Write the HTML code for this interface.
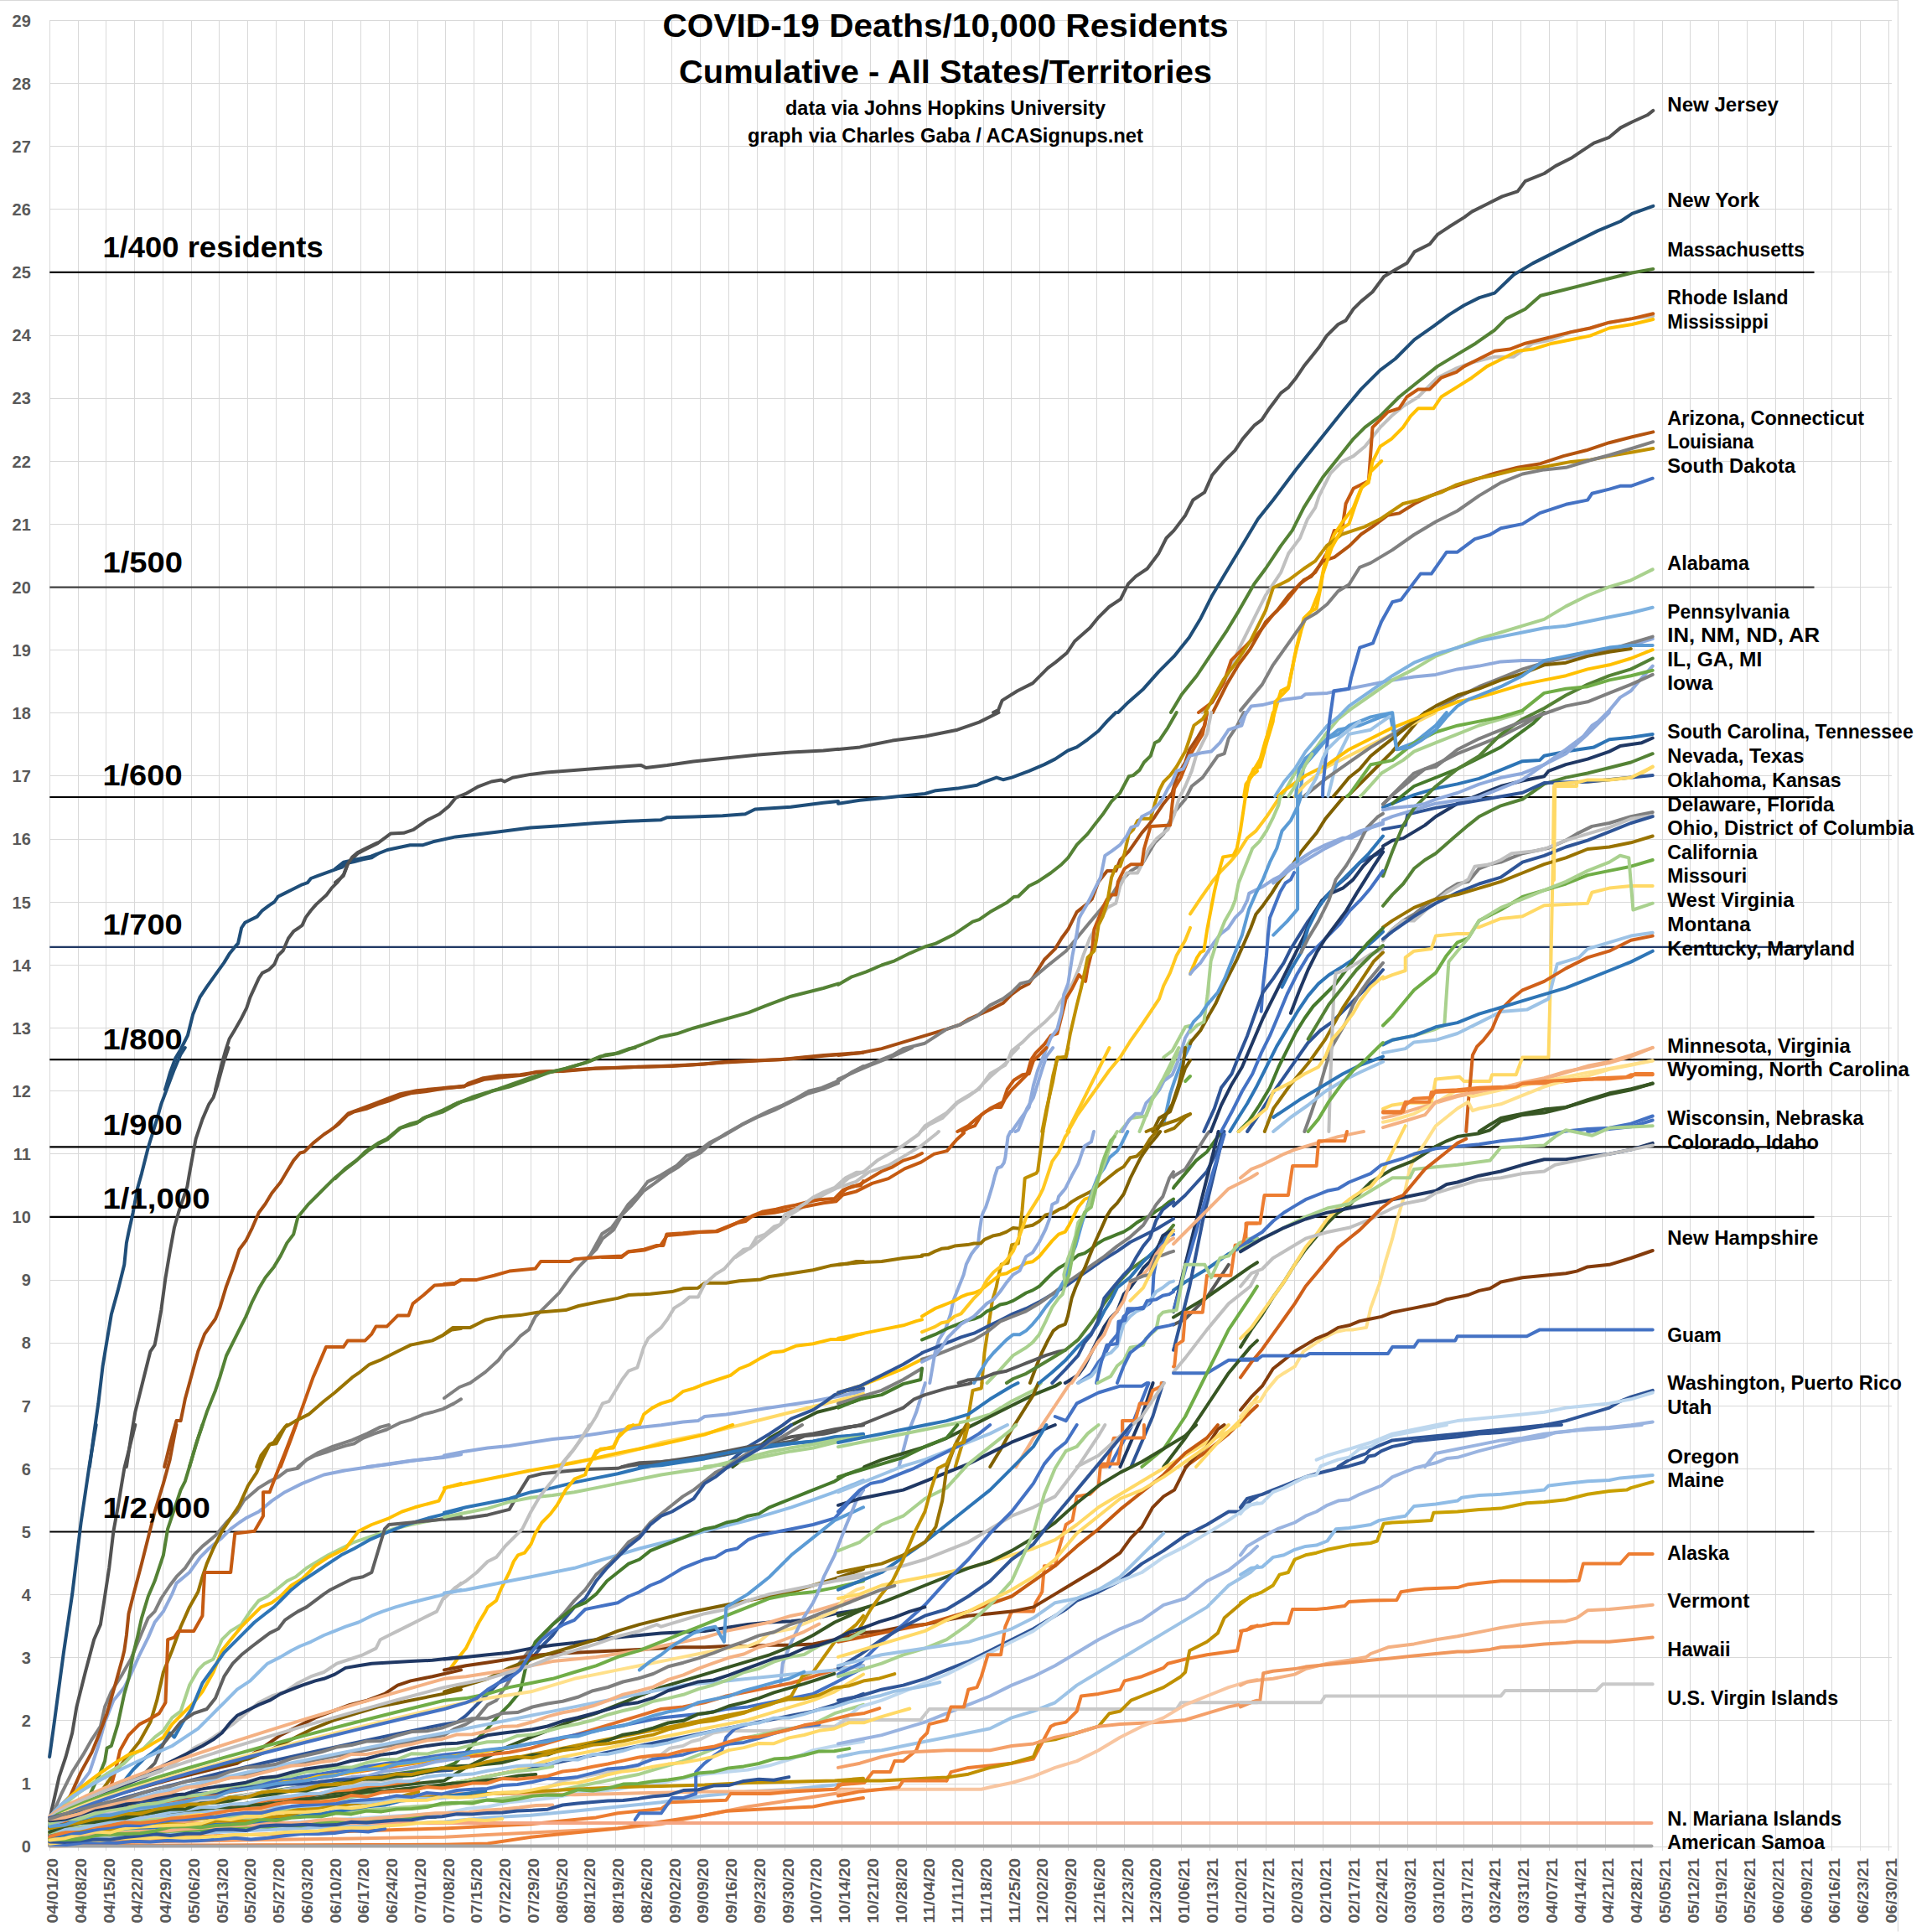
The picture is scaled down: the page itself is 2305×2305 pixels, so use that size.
<!DOCTYPE html><html><head><meta charset="utf-8"><style>html,body{margin:0;padding:0;background:#fff}svg{display:block}text{font-family:"Liberation Sans",Arial,sans-serif;font-weight:bold}</style></head><body>
<svg xmlns="http://www.w3.org/2000/svg" width="2305" height="2305" viewBox="0 0 2305 2305">
<rect width="2305" height="2305" fill="#fff"/>
<path d="M0 0.5H2264.5V2304.5" fill="none" stroke="#d9d9d9" stroke-width="1.2"/>
<path d="M59.5 24V2208 M93.5 24V2208 M126.5 24V2208 M160.5 24V2208 M194.5 24V2208 M228.5 24V2208 M261.5 24V2208 M295.5 24V2208 M329.5 24V2208 M363.5 24V2208 M396.5 24V2208 M430.5 24V2208 M464.5 24V2208 M498.5 24V2208 M531.5 24V2208 M565.5 24V2208 M599.5 24V2208 M633.5 24V2208 M666.5 24V2208 M700.5 24V2208 M734.5 24V2208 M768.5 24V2208 M801.5 24V2208 M835.5 24V2208 M869.5 24V2208 M903.5 24V2208 M936.5 24V2208 M970.5 24V2208 M1004.5 24V2208 M1038.5 24V2208 M1071.5 24V2208 M1105.5 24V2208 M1139.5 24V2208 M1173.5 24V2208 M1206.5 24V2208 M1240.5 24V2208 M1274.5 24V2208 M1308.5 24V2208 M1341.5 24V2208 M1375.5 24V2208 M1409.5 24V2208 M1443.5 24V2208 M1476.5 24V2208 M1510.5 24V2208 M1544.5 24V2208 M1578.5 24V2208 M1611.5 24V2208 M1645.5 24V2208 M1679.5 24V2208 M1713.5 24V2208 M1746.5 24V2208 M1780.5 24V2208 M1814.5 24V2208 M1848.5 24V2208 M1881.5 24V2208 M1915.5 24V2208 M1949.5 24V2208 M1983.5 24V2208 M2016.5 24V2208 M2050.5 24V2208 M2084.5 24V2208 M2118.5 24V2208 M2151.5 24V2208 M2185.5 24V2208 M2219.5 24V2208 M2253.5 24V2208 M59 2203.5H2257 M59 2128.5H2257 M59 2052.5H2257 M59 1977.5H2257 M59 1902.5H2257 M59 1827.5H2257 M59 1752.5H2257 M59 1677.5H2257 M59 1602.5H2257 M59 1527.5H2257 M59 1451.5H2257 M59 1376.5H2257 M59 1301.5H2257 M59 1226.5H2257 M59 1151.5H2257 M59 1076.5H2257 M59 1001.5H2257 M59 925.5H2257 M59 850.5H2257 M59 775.5H2257 M59 700.5H2257 M59 625.5H2257 M59 550.5H2257 M59 475.5H2257 M59 400.5H2257 M59 324.5H2257 M59 249.5H2257 M59 174.5H2257 M59 99.5H2257 M59 24.5H2257" stroke="#d9d9d9" stroke-width="1" fill="none" shape-rendering="crispEdges"/>
<text x="36.8" y="2210.4" font-size="20" fill="#595959" text-anchor="end">0</text>
<text x="36.8" y="2135.3" font-size="20" fill="#595959" text-anchor="end">1</text>
<text x="36.8" y="2060.1" font-size="20" fill="#595959" text-anchor="end">2</text>
<text x="36.8" y="1985.0" font-size="20" fill="#595959" text-anchor="end">3</text>
<text x="36.8" y="1909.9" font-size="20" fill="#595959" text-anchor="end">4</text>
<text x="36.8" y="1834.7" font-size="20" fill="#595959" text-anchor="end">5</text>
<text x="36.8" y="1759.6" font-size="20" fill="#595959" text-anchor="end">6</text>
<text x="36.8" y="1684.5" font-size="20" fill="#595959" text-anchor="end">7</text>
<text x="36.8" y="1609.4" font-size="20" fill="#595959" text-anchor="end">8</text>
<text x="36.8" y="1534.2" font-size="20" fill="#595959" text-anchor="end">9</text>
<text x="36.8" y="1459.1" font-size="20" fill="#595959" text-anchor="end">10</text>
<text x="36.8" y="1384.0" font-size="20" fill="#595959" text-anchor="end">11</text>
<text x="36.8" y="1308.8" font-size="20" fill="#595959" text-anchor="end">12</text>
<text x="36.8" y="1233.7" font-size="20" fill="#595959" text-anchor="end">13</text>
<text x="36.8" y="1158.6" font-size="20" fill="#595959" text-anchor="end">14</text>
<text x="36.8" y="1083.5" font-size="20" fill="#595959" text-anchor="end">15</text>
<text x="36.8" y="1008.3" font-size="20" fill="#595959" text-anchor="end">16</text>
<text x="36.8" y="933.2" font-size="20" fill="#595959" text-anchor="end">17</text>
<text x="36.8" y="858.1" font-size="20" fill="#595959" text-anchor="end">18</text>
<text x="36.8" y="782.9" font-size="20" fill="#595959" text-anchor="end">19</text>
<text x="36.8" y="707.8" font-size="20" fill="#595959" text-anchor="end">20</text>
<text x="36.8" y="632.7" font-size="20" fill="#595959" text-anchor="end">21</text>
<text x="36.8" y="557.5" font-size="20" fill="#595959" text-anchor="end">22</text>
<text x="36.8" y="482.4" font-size="20" fill="#595959" text-anchor="end">23</text>
<text x="36.8" y="407.3" font-size="20" fill="#595959" text-anchor="end">24</text>
<text x="36.8" y="332.1" font-size="20" fill="#595959" text-anchor="end">25</text>
<text x="36.8" y="257.0" font-size="20" fill="#595959" text-anchor="end">26</text>
<text x="36.8" y="181.9" font-size="20" fill="#595959" text-anchor="end">27</text>
<text x="36.8" y="106.8" font-size="20" fill="#595959" text-anchor="end">28</text>
<text x="36.8" y="31.6" font-size="20" fill="#595959" text-anchor="end">29</text>
<text transform="translate(69.1,2294.5) rotate(-90)" font-size="19" fill="#595959" textLength="77.5" lengthAdjust="spacingAndGlyphs">04/01/20</text>
<text transform="translate(102.8,2294.5) rotate(-90)" font-size="19" fill="#595959" textLength="77.5" lengthAdjust="spacingAndGlyphs">04/08/20</text>
<text transform="translate(136.6,2294.5) rotate(-90)" font-size="19" fill="#595959" textLength="77.5" lengthAdjust="spacingAndGlyphs">04/15/20</text>
<text transform="translate(170.3,2294.5) rotate(-90)" font-size="19" fill="#595959" textLength="77.5" lengthAdjust="spacingAndGlyphs">04/22/20</text>
<text transform="translate(204.1,2294.5) rotate(-90)" font-size="19" fill="#595959" textLength="77.5" lengthAdjust="spacingAndGlyphs">04/29/20</text>
<text transform="translate(237.8,2294.5) rotate(-90)" font-size="19" fill="#595959" textLength="77.5" lengthAdjust="spacingAndGlyphs">05/06/20</text>
<text transform="translate(271.6,2294.5) rotate(-90)" font-size="19" fill="#595959" textLength="77.5" lengthAdjust="spacingAndGlyphs">05/13/20</text>
<text transform="translate(305.4,2294.5) rotate(-90)" font-size="19" fill="#595959" textLength="77.5" lengthAdjust="spacingAndGlyphs">05/20/20</text>
<text transform="translate(339.1,2294.5) rotate(-90)" font-size="19" fill="#595959" textLength="77.5" lengthAdjust="spacingAndGlyphs">05/27/20</text>
<text transform="translate(372.9,2294.5) rotate(-90)" font-size="19" fill="#595959" textLength="77.5" lengthAdjust="spacingAndGlyphs">06/03/20</text>
<text transform="translate(406.6,2294.5) rotate(-90)" font-size="19" fill="#595959" textLength="77.5" lengthAdjust="spacingAndGlyphs">06/10/20</text>
<text transform="translate(440.4,2294.5) rotate(-90)" font-size="19" fill="#595959" textLength="77.5" lengthAdjust="spacingAndGlyphs">06/17/20</text>
<text transform="translate(474.1,2294.5) rotate(-90)" font-size="19" fill="#595959" textLength="77.5" lengthAdjust="spacingAndGlyphs">06/24/20</text>
<text transform="translate(507.9,2294.5) rotate(-90)" font-size="19" fill="#595959" textLength="77.5" lengthAdjust="spacingAndGlyphs">07/01/20</text>
<text transform="translate(541.6,2294.5) rotate(-90)" font-size="19" fill="#595959" textLength="77.5" lengthAdjust="spacingAndGlyphs">07/08/20</text>
<text transform="translate(575.4,2294.5) rotate(-90)" font-size="19" fill="#595959" textLength="77.5" lengthAdjust="spacingAndGlyphs">07/15/20</text>
<text transform="translate(609.1,2294.5) rotate(-90)" font-size="19" fill="#595959" textLength="77.5" lengthAdjust="spacingAndGlyphs">07/22/20</text>
<text transform="translate(642.9,2294.5) rotate(-90)" font-size="19" fill="#595959" textLength="77.5" lengthAdjust="spacingAndGlyphs">07/29/20</text>
<text transform="translate(676.6,2294.5) rotate(-90)" font-size="19" fill="#595959" textLength="77.5" lengthAdjust="spacingAndGlyphs">08/05/20</text>
<text transform="translate(710.4,2294.5) rotate(-90)" font-size="19" fill="#595959" textLength="77.5" lengthAdjust="spacingAndGlyphs">08/12/20</text>
<text transform="translate(744.1,2294.5) rotate(-90)" font-size="19" fill="#595959" textLength="77.5" lengthAdjust="spacingAndGlyphs">08/19/20</text>
<text transform="translate(777.9,2294.5) rotate(-90)" font-size="19" fill="#595959" textLength="77.5" lengthAdjust="spacingAndGlyphs">08/26/20</text>
<text transform="translate(811.6,2294.5) rotate(-90)" font-size="19" fill="#595959" textLength="77.5" lengthAdjust="spacingAndGlyphs">09/02/20</text>
<text transform="translate(845.4,2294.5) rotate(-90)" font-size="19" fill="#595959" textLength="77.5" lengthAdjust="spacingAndGlyphs">09/09/20</text>
<text transform="translate(879.1,2294.5) rotate(-90)" font-size="19" fill="#595959" textLength="77.5" lengthAdjust="spacingAndGlyphs">09/16/20</text>
<text transform="translate(912.9,2294.5) rotate(-90)" font-size="19" fill="#595959" textLength="77.5" lengthAdjust="spacingAndGlyphs">09/23/20</text>
<text transform="translate(946.6,2294.5) rotate(-90)" font-size="19" fill="#595959" textLength="77.5" lengthAdjust="spacingAndGlyphs">09/30/20</text>
<text transform="translate(980.4,2294.5) rotate(-90)" font-size="19" fill="#595959" textLength="77.5" lengthAdjust="spacingAndGlyphs">10/07/20</text>
<text transform="translate(1014.1,2294.5) rotate(-90)" font-size="19" fill="#595959" textLength="77.5" lengthAdjust="spacingAndGlyphs">10/14/20</text>
<text transform="translate(1047.8,2294.5) rotate(-90)" font-size="19" fill="#595959" textLength="77.5" lengthAdjust="spacingAndGlyphs">10/21/20</text>
<text transform="translate(1081.6,2294.5) rotate(-90)" font-size="19" fill="#595959" textLength="77.5" lengthAdjust="spacingAndGlyphs">10/28/20</text>
<text transform="translate(1115.3,2294.5) rotate(-90)" font-size="19" fill="#595959" textLength="77.5" lengthAdjust="spacingAndGlyphs">11/04/20</text>
<text transform="translate(1149.1,2294.5) rotate(-90)" font-size="19" fill="#595959" textLength="77.5" lengthAdjust="spacingAndGlyphs">11/11/20</text>
<text transform="translate(1182.8,2294.5) rotate(-90)" font-size="19" fill="#595959" textLength="77.5" lengthAdjust="spacingAndGlyphs">11/18/20</text>
<text transform="translate(1216.6,2294.5) rotate(-90)" font-size="19" fill="#595959" textLength="77.5" lengthAdjust="spacingAndGlyphs">11/25/20</text>
<text transform="translate(1250.3,2294.5) rotate(-90)" font-size="19" fill="#595959" textLength="77.5" lengthAdjust="spacingAndGlyphs">12/02/20</text>
<text transform="translate(1284.1,2294.5) rotate(-90)" font-size="19" fill="#595959" textLength="77.5" lengthAdjust="spacingAndGlyphs">12/09/20</text>
<text transform="translate(1317.8,2294.5) rotate(-90)" font-size="19" fill="#595959" textLength="77.5" lengthAdjust="spacingAndGlyphs">12/16/20</text>
<text transform="translate(1351.6,2294.5) rotate(-90)" font-size="19" fill="#595959" textLength="77.5" lengthAdjust="spacingAndGlyphs">12/23/20</text>
<text transform="translate(1385.3,2294.5) rotate(-90)" font-size="19" fill="#595959" textLength="77.5" lengthAdjust="spacingAndGlyphs">12/30/20</text>
<text transform="translate(1419.1,2294.5) rotate(-90)" font-size="19" fill="#595959" textLength="77.5" lengthAdjust="spacingAndGlyphs">01/06/21</text>
<text transform="translate(1452.8,2294.5) rotate(-90)" font-size="19" fill="#595959" textLength="77.5" lengthAdjust="spacingAndGlyphs">01/13/21</text>
<text transform="translate(1486.6,2294.5) rotate(-90)" font-size="19" fill="#595959" textLength="77.5" lengthAdjust="spacingAndGlyphs">01/20/21</text>
<text transform="translate(1520.3,2294.5) rotate(-90)" font-size="19" fill="#595959" textLength="77.5" lengthAdjust="spacingAndGlyphs">01/27/21</text>
<text transform="translate(1554.1,2294.5) rotate(-90)" font-size="19" fill="#595959" textLength="77.5" lengthAdjust="spacingAndGlyphs">02/03/21</text>
<text transform="translate(1587.8,2294.5) rotate(-90)" font-size="19" fill="#595959" textLength="77.5" lengthAdjust="spacingAndGlyphs">02/10/21</text>
<text transform="translate(1621.6,2294.5) rotate(-90)" font-size="19" fill="#595959" textLength="77.5" lengthAdjust="spacingAndGlyphs">02/17/21</text>
<text transform="translate(1655.3,2294.5) rotate(-90)" font-size="19" fill="#595959" textLength="77.5" lengthAdjust="spacingAndGlyphs">02/24/21</text>
<text transform="translate(1689.1,2294.5) rotate(-90)" font-size="19" fill="#595959" textLength="77.5" lengthAdjust="spacingAndGlyphs">03/03/21</text>
<text transform="translate(1722.8,2294.5) rotate(-90)" font-size="19" fill="#595959" textLength="77.5" lengthAdjust="spacingAndGlyphs">03/10/21</text>
<text transform="translate(1756.6,2294.5) rotate(-90)" font-size="19" fill="#595959" textLength="77.5" lengthAdjust="spacingAndGlyphs">03/17/21</text>
<text transform="translate(1790.3,2294.5) rotate(-90)" font-size="19" fill="#595959" textLength="77.5" lengthAdjust="spacingAndGlyphs">03/24/21</text>
<text transform="translate(1824.1,2294.5) rotate(-90)" font-size="19" fill="#595959" textLength="77.5" lengthAdjust="spacingAndGlyphs">03/31/21</text>
<text transform="translate(1857.8,2294.5) rotate(-90)" font-size="19" fill="#595959" textLength="77.5" lengthAdjust="spacingAndGlyphs">04/07/21</text>
<text transform="translate(1891.6,2294.5) rotate(-90)" font-size="19" fill="#595959" textLength="77.5" lengthAdjust="spacingAndGlyphs">04/14/21</text>
<text transform="translate(1925.3,2294.5) rotate(-90)" font-size="19" fill="#595959" textLength="77.5" lengthAdjust="spacingAndGlyphs">04/21/21</text>
<text transform="translate(1959.1,2294.5) rotate(-90)" font-size="19" fill="#595959" textLength="77.5" lengthAdjust="spacingAndGlyphs">04/28/21</text>
<text transform="translate(1992.8,2294.5) rotate(-90)" font-size="19" fill="#595959" textLength="77.5" lengthAdjust="spacingAndGlyphs">05/05/21</text>
<text transform="translate(2026.6,2294.5) rotate(-90)" font-size="19" fill="#595959" textLength="77.5" lengthAdjust="spacingAndGlyphs">05/12/21</text>
<text transform="translate(2060.3,2294.5) rotate(-90)" font-size="19" fill="#595959" textLength="77.5" lengthAdjust="spacingAndGlyphs">05/19/21</text>
<text transform="translate(2094.1,2294.5) rotate(-90)" font-size="19" fill="#595959" textLength="77.5" lengthAdjust="spacingAndGlyphs">05/26/21</text>
<text transform="translate(2127.8,2294.5) rotate(-90)" font-size="19" fill="#595959" textLength="77.5" lengthAdjust="spacingAndGlyphs">06/02/21</text>
<text transform="translate(2161.6,2294.5) rotate(-90)" font-size="19" fill="#595959" textLength="77.5" lengthAdjust="spacingAndGlyphs">06/09/21</text>
<text transform="translate(2195.3,2294.5) rotate(-90)" font-size="19" fill="#595959" textLength="77.5" lengthAdjust="spacingAndGlyphs">06/16/21</text>
<text transform="translate(2229.1,2294.5) rotate(-90)" font-size="19" fill="#595959" textLength="77.5" lengthAdjust="spacingAndGlyphs">06/23/21</text>
<text transform="translate(2262.8,2294.5) rotate(-90)" font-size="19" fill="#595959" textLength="77.5" lengthAdjust="spacingAndGlyphs">06/30/21</text>
<path d="M59.3 324.9H2164.5" stroke="#000" stroke-width="2.2"/>
<path d="M59.3 700.6H2164.5" stroke="#404040" stroke-width="2.2"/>
<path d="M59.3 951.0H2164.5" stroke="#000" stroke-width="2.2"/>
<path d="M59.3 1129.9H2164.5" stroke="#203864" stroke-width="2.2"/>
<path d="M59.3 1264.1H2164.5" stroke="#000" stroke-width="2.2"/>
<path d="M59.3 1368.4H2164.5" stroke="#000" stroke-width="2.2"/>
<path d="M59.3 1451.9H2164.5" stroke="#000" stroke-width="2.2"/>
<path d="M59.3 1827.5H2164.5" stroke="#000" stroke-width="2.2"/>
<g fill="none" stroke-width="4" stroke-linejoin="round" stroke-linecap="round"><path d="M1185.1 850.0 L1191.1 847.0 L1195.7 835.6 L1213.9 824.2 L1232.1 815.1 L1250.3 796.9 L1259.4 790.1 L1273.1 778.7 L1282.2 765.0 L1300.4 749.1 L1309.5 737.7 L1323.2 724.0 L1336.9 714.9 L1346.0 696.7 L1355.1 687.6 L1368.7 678.5 L1382.4 660.2 L1391.5 642.0 L1400.6 632.9 L1414.3 614.7 L1423.4 596.5 L1437.1 587.4 L1446.2 566.9 L1459.8 550.9 L1473.5 537.3 L1482.6 523.6 L1496.3 507.7 L1505.4 500.8 L1514.5 487.2 L1528.2 468.9 L1537.3 462.1 L1546.4 450.7 L1555.5 437.1 L1564.6 425.7 L1573.7 414.3 L1582.8 400.6 L1596.5 387.0 L1605.6 382.4 L1614.7 368.7 L1623.8 359.6 L1637.5 348.2 L1651.1 330.0 L1664.8 321.8 L1678.5 314.1 L1687.6 300.4 L1705.8 291.3 L1714.9 279.9 L1728.6 270.8 L1746.8 259.4 L1755.9 252.6 L1774.1 243.5 L1792.3 234.4 L1810.6 228.4 L1819.7 216.1 L1842.4 207.0 L1856.1 197.9 L1874.3 188.8 L1888.0 179.7 L1901.7 170.6 L1919.9 163.8 L1933.5 152.4 L1947.2 145.5 L1965.4 137.3 L1972.3 131.9" stroke="#525252"/><path d="M1333.9 850.0 L1346.0 837.9 L1364.2 821.9 L1382.4 801.4 L1400.6 783.2 L1418.8 760.5 L1432.5 737.7 L1446.2 710.4 L1459.8 687.6 L1473.5 664.8 L1487.2 642.0 L1500.8 619.3 L1519.0 596.5 L1532.7 578.3 L1546.4 560.0 L1564.6 537.3 L1582.8 514.5 L1601.0 491.7 L1623.8 464.4 L1646.6 441.6 L1664.8 428.0 L1687.6 405.2 L1710.4 389.2 L1728.6 375.6 L1746.8 364.2 L1765.0 355.1 L1783.2 349.6 L1806.0 327.7 L1828.8 314.1 L1856.1 300.4 L1883.4 286.7 L1906.2 275.4 L1933.5 264.0 L1947.2 254.9 L1972.3 245.8" stroke="#1f4e79"/><path d="M1397.0 850.0 L1409.7 828.8 L1428.0 806.0 L1446.2 778.7 L1464.4 751.3 L1478.1 728.6 L1496.3 696.7 L1509.9 678.5 L1528.2 651.1 L1541.8 632.9 L1555.5 605.6 L1578.3 569.2 L1596.5 546.4 L1614.7 523.6 L1628.4 509.9 L1646.6 496.3 L1669.4 473.5 L1692.1 455.3 L1714.9 437.1 L1737.7 423.4 L1760.5 409.7 L1783.2 393.8 L1796.9 380.1 L1819.7 368.7 L1837.9 352.8 L1865.2 346.0 L1892.5 339.1 L1919.9 332.3 L1947.2 325.5 L1972.3 320.9" stroke="#548235"/><path d="M1434.1 850.0 L1446.2 837.9 L1464.4 806.0 L1478.1 774.1 L1496.3 737.7 L1509.9 710.4 L1528.2 683.0 L1537.3 660.2 L1550.9 642.0 L1560.0 619.3 L1569.2 605.6 L1573.7 591.9 L1587.4 564.6 L1601.0 550.9 L1614.7 544.1 L1628.4 532.7 L1646.6 509.9 L1660.2 496.3 L1673.9 484.9 L1692.1 473.5 L1714.9 450.7 L1737.7 439.3 L1755.9 432.5 L1783.2 425.7 L1806.0 425.7 L1828.8 409.7 L1851.6 405.2 L1874.3 396.1 L1897.1 391.5 L1919.9 384.7 L1947.2 380.1 L1972.3 376.9" stroke="#c0c0c0"/><path d="M1430.0 850.0 L1446.2 837.9 L1459.8 815.1 L1468.9 787.8 L1487.2 769.6 L1500.8 755.9 L1519.0 733.1 L1532.7 719.5 L1550.9 696.7 L1569.2 683.0 L1582.8 660.2 L1591.9 632.9 L1601.0 632.9 L1605.6 601.0 L1614.7 582.8 L1632.9 573.7 L1637.5 509.9 L1646.6 500.8 L1655.7 491.7 L1669.4 487.2 L1678.5 473.5 L1692.1 464.4 L1705.8 464.4 L1719.5 450.7 L1737.7 443.9 L1746.8 437.1 L1765.0 428.0 L1783.2 418.8 L1801.4 416.6 L1819.7 409.7 L1837.9 405.2 L1856.1 400.6 L1874.3 396.1 L1897.1 391.5 L1919.9 384.7 L1947.2 380.1 L1972.3 374.2" stroke="#c55a11"/><path d="M1500.0 916.6 L1500.8 915.3 L1509.9 883.4 L1519.0 856.1 L1528.2 824.2 L1537.3 819.7 L1546.4 774.1 L1555.5 737.7 L1564.6 728.6 L1573.7 705.8 L1582.8 660.2 L1591.9 637.5 L1601.0 623.8 L1614.7 605.6 L1623.8 582.8 L1632.9 573.7 L1637.5 550.9 L1646.6 532.7 L1660.2 523.6 L1673.9 509.9 L1683.0 496.3 L1692.1 487.2 L1710.4 487.2 L1719.5 473.5 L1737.7 462.1 L1755.9 450.7 L1774.1 437.1 L1792.3 428.0 L1810.6 418.8 L1828.8 416.6 L1851.6 409.7 L1874.3 405.2 L1897.1 400.6 L1919.9 391.5 L1947.2 387.0 L1972.3 381.0" stroke="#ffc000"/><path d="M1446.9 850.0 L1464.4 815.1 L1478.1 792.3 L1491.7 774.1 L1509.9 742.2 L1523.6 728.6 L1537.3 710.4 L1555.5 692.1 L1564.6 687.6 L1578.3 669.4 L1591.9 664.8 L1610.1 651.1 L1623.8 637.5 L1637.5 628.4 L1655.7 614.7 L1669.4 612.4 L1687.6 601.0 L1705.8 591.9 L1728.6 582.8 L1755.9 573.7 L1783.2 564.6 L1810.6 557.8 L1837.9 553.2 L1865.2 544.1 L1892.5 537.3 L1919.9 528.2 L1947.2 521.3 L1972.3 515.4" stroke="#b4540f"/><path d="M1437.9 850.0 L1459.8 810.6 L1473.5 792.3 L1491.7 765.0 L1509.9 728.6 L1519.0 701.2 L1528.2 696.7 L1537.3 692.1 L1555.5 678.5 L1569.2 669.4 L1582.8 651.1 L1601.0 637.5 L1614.7 632.9 L1628.4 628.4 L1646.6 619.3 L1660.2 610.1 L1673.9 601.0 L1692.1 596.5 L1719.5 587.4 L1737.7 578.3 L1760.5 571.4 L1783.2 566.9 L1810.6 560.0 L1837.9 557.8 L1874.3 550.9 L1897.1 548.7 L1919.9 544.1 L1947.2 539.5 L1972.3 535.0" stroke="#bf9000"/><path d="M400.0 1052.8 L409.7 1045.0 L415.5 1029.5 L427.2 1017.9 L438.8 1012.0 L450.5 1006.2 L466.0 994.6 L481.5 993.8 L493.2 989.9 L508.7 979.0 L524.2 971.3 L535.9 961.6 L543.6 951.9 L555.3 947.2 L570.8 938.3 L586.3 932.5 L598.0 930.5 L601.9 932.5 L611.6 927.8 L632.9 923.9 L652.3 921.6 L671.7 920.0 L710.6 916.9 L764.9 913.0 L770.7 916.1 L796.0 913.0 L827.0 908.4 L865.8 904.5 L904.7 900.6 L943.5 897.5 L982.3 895.6 L1000.0 893.8" stroke="#525252"/><path d="M400.0 1036.5 L409.7 1028.7 L423.3 1025.6 L442.7 1021.7 L462.1 1014.0 L489.3 1008.2 L504.8 1008.2 L516.5 1004.3 L543.6 998.4 L594.1 992.6 L632.9 987.6 L671.7 984.9 L710.6 982.1 L749.4 979.8 L788.2 978.3 L796.0 975.2 L827.0 974.4 L862.0 973.2 L889.1 971.3 L900.8 965.5 L943.5 962.7 L982.3 957.7 L1000.0 955.9" stroke="#1f4e79"/><path d="M400.0 1406.1 L411.6 1394.4 L427.2 1382.8 L438.8 1373.1 L450.5 1365.3 L462.1 1359.5 L477.6 1345.9 L497.0 1340.1 L504.8 1334.2 L528.1 1324.5 L539.8 1318.7 L563.0 1309.0 L594.1 1299.3 L632.9 1285.7 L652.3 1279.9 L671.7 1276.0 L702.8 1266.3 L722.2 1258.5 L737.7 1256.6 L768.8 1245.0 L788.2 1237.2 L807.6 1233.3 L827.0 1226.7 L865.8 1215.8 L893.0 1208.1 L912.4 1200.3 L943.5 1188.7 L982.3 1179.0 L1000.0 1173.6" stroke="#548235"/><path d="M400.0 1343.9 L415.5 1328.4 L431.1 1322.6 L446.6 1316.8 L462.1 1310.9 L477.6 1305.1 L497.0 1301.2 L516.5 1299.3 L535.9 1297.4 L555.3 1295.4 L578.6 1287.7 L601.9 1284.9 L625.2 1282.6 L640.7 1278.7 L671.7 1278.0 L710.6 1274.8 L749.4 1273.3 L788.2 1272.1 L827.0 1270.2 L865.8 1267.5 L904.7 1265.5 L943.5 1263.2 L982.3 1259.7 L1000.0 1258.3" stroke="#a64d12"/><path d="M702.8 1500.0 L718.3 1472.0 L730.0 1464.3 L741.6 1448.8 L749.4 1437.1 L761.0 1425.5 L772.7 1409.9 L788.2 1402.2 L807.6 1390.5 L819.3 1378.9 L830.9 1375.0 L846.4 1363.4 L865.8 1353.6 L885.2 1342.0 L904.7 1332.3 L924.1 1324.5 L943.5 1314.8 L962.9 1305.1 L982.3 1299.3 L1000.0 1292.2" stroke="#808080"/><path d="M877.5 1500.0 L896.9 1487.6 L916.3 1472.0 L931.8 1460.4 L943.5 1448.8 L962.9 1437.1 L982.3 1425.5 L997.8 1417.7 L1021.1 1409.9 L1036.6 1398.3 L1059.9 1390.5 L1079.3 1378.9 L1098.8 1367.2 L1118.2 1351.7 L1119.9 1350.0" stroke="#c0c0c0"/><path d="M718.3 1500.0 L741.6 1500.0 L749.4 1493.4 L768.8 1491.5 L780.4 1487.6 L788.2 1485.6 L796.0 1474.0 L819.3 1472.0 L834.8 1470.1 L854.2 1468.9 L877.5 1459.6 L893.0 1452.6 L904.7 1448.8 L924.1 1446.8 L943.5 1442.9 L962.9 1439.1 L982.3 1435.2 L997.8 1433.2 L1005.6 1425.5 L1021.1 1421.6 L1040.5 1411.9 L1059.9 1406.1 L1079.3 1394.4 L1098.8 1386.6 L1114.3 1376.9 L1129.8 1373.1 L1141.5 1359.5 L1150.0 1351.7" stroke="#c55a11"/><path d="M197.0 1300.0 L203.2 1278.9 L209.4 1262.3 L215.6 1252.0 L223.9 1235.4 L230.1 1210.6 L238.4 1189.9 L246.7 1177.4 L257.0 1162.9 L267.4 1148.4 L273.6 1138.1 L281.9 1127.7 L284.0 1125.7 L288.1 1107.0 L292.2 1100.8 L306.7 1093.6 L312.9 1086.3 L321.2 1080.1 L327.4 1076.0 L331.6 1069.8 L339.9 1065.6 L348.1 1061.5 L360.6 1055.3 L366.8 1053.2 L370.9 1048.0 L379.2 1044.9 L387.5 1041.8 L402.0 1036.6 L408.2 1034.6 L412.3 1030.4 L422.7 1028.0 L433.0 1025.3 L443.4 1023.2 L450.0 1019.0" stroke="#1f4e79"/><path d="M257.0 1300.0 L261.2 1283.0 L265.3 1266.5 L269.5 1252.0 L273.6 1239.5 L279.8 1229.2 L288.1 1214.7 L294.3 1202.3 L298.4 1189.9 L308.8 1167.1 L312.9 1160.9 L321.2 1156.7 L327.4 1150.5 L331.6 1140.2 L337.8 1134.0 L344.0 1119.5 L350.2 1111.2 L356.4 1107.0 L360.6 1103.9 L364.7 1094.6 L370.9 1086.3 L377.1 1079.1 L389.5 1067.7 L395.8 1059.4 L402.0 1053.2 L410.2 1042.9 L414.4 1031.5 L420.6 1022.2 L426.8 1017.0 L435.1 1012.8 L443.4 1008.7 L450.0 1005.6" stroke="#525252"/><path d="M106.9 1750.0 L112.1 1710.7 L117.3 1674.4 L122.5 1630.4 L127.6 1599.4 L132.8 1568.3 L140.6 1539.9 L148.3 1508.8 L150.9 1482.9 L153.5 1470.0 L158.7 1446.7 L163.9 1418.2 L169.0 1400.1 L176.8 1369.0 L187.2 1335.4 L192.3 1317.3 L200.1 1296.6 L207.9 1275.9 L215.6 1257.8 L220.8 1250.0" stroke="#1f4e79"/><path d="M150.9 1750.0 L156.1 1715.8 L161.3 1684.8 L166.5 1664.1 L174.2 1633.0 L179.4 1612.3 L184.6 1604.6 L187.2 1591.6 L192.3 1563.1 L197.5 1524.3 L202.7 1493.3 L207.9 1464.8 L213.0 1446.7 L223.4 1415.6 L226.0 1400.1 L231.2 1371.6 L233.7 1358.7 L241.5 1335.4 L249.3 1317.3 L254.5 1309.5 L259.6 1294.0 L267.4 1265.5 L272.6 1250.0" stroke="#525252"/><path d="M196.2 1750.0 L202.7 1723.6 L210.5 1695.1 L215.6 1695.1 L220.8 1669.3 L228.6 1640.8 L236.3 1612.3 L244.1 1591.6 L257.0 1573.5 L262.2 1560.6 L270.0 1534.7 L277.7 1514.0 L285.5 1490.7 L293.3 1480.3 L301.0 1464.8 L308.8 1446.7 L316.6 1436.3 L324.3 1423.4 L334.7 1410.5 L342.4 1397.5 L350.2 1384.6 L358.0 1375.5 L363.1 1374.2 L373.5 1363.9 L386.4 1353.5 L394.2 1348.3 L404.6 1340.6 L414.9 1330.2 L422.7 1326.3 L438.2 1322.5 L451.1 1317.3 L464.1 1313.4 L477.0 1308.2 L490.0 1304.3 L510.7 1301.8 L528.8 1298.7 L550.0 1296.6" stroke="#a64d12"/><path d="M226.0 1750.0 L236.3 1715.8 L246.7 1684.8 L257.0 1658.9 L262.2 1643.4 L270.0 1617.5 L282.9 1591.6 L293.3 1570.9 L301.0 1552.8 L308.8 1537.3 L316.6 1524.3 L326.9 1511.4 L334.7 1498.4 L342.4 1482.9 L350.2 1472.6 L355.4 1451.9 L368.3 1436.3 L378.7 1426.0 L389.0 1415.6 L399.4 1405.3 L412.3 1394.9 L425.3 1384.6 L435.6 1374.2 L451.1 1363.9 L461.5 1358.7 L477.0 1345.8 L490.0 1340.6 L500.3 1338.0 L508.1 1332.8 L528.8 1326.3 L550.0 1314.7" stroke="#548235"/><path d="M334.7 1750.0 L347.6 1715.8 L360.6 1679.6 L373.5 1643.4 L389.0 1607.1 L409.7 1607.1 L414.9 1599.4 L435.6 1599.4 L443.4 1591.6 L448.6 1582.6 L461.5 1582.6 L474.4 1569.6 L487.4 1569.6 L492.5 1555.4 L505.5 1545.0 L518.4 1533.4 L541.7 1532.1 L550.0 1526.9" stroke="#c55a11"/><path d="M306.2 1750.0 L311.4 1736.5 L321.7 1723.6 L329.5 1722.3 L339.9 1702.9 L352.8 1695.1 L368.3 1687.4 L386.4 1671.8 L399.4 1661.5 L420.1 1643.4 L427.8 1638.2 L440.8 1627.8 L453.7 1622.7 L474.4 1612.3 L490.0 1604.6 L502.9 1602.0 L515.8 1599.4 L528.8 1592.9 L539.1 1586.4 L550.0 1585.1" stroke="#997300"/><path d="M355.4 1750.0 L365.7 1741.7 L376.1 1736.5 L389.0 1732.7 L399.4 1728.8 L412.3 1724.9 L422.7 1722.3 L433.0 1715.8 L446.0 1710.7 L461.5 1705.5 L477.0 1697.7 L490.0 1693.8 L505.5 1687.4 L515.8 1684.8 L528.8 1680.9 L541.7 1674.4 L550.0 1669.3" stroke="#808080"/><path d="M438.2 1750.0 L464.1 1746.9 L490.0 1743.0 L510.7 1740.4 L528.8 1739.1 L550.0 1735.2" stroke="#8faadc"/><path d="M59.1 2096.0 L65.5 2049.4 L75.9 1971.7 L86.2 1901.9 L96.6 1816.5 L106.9 1746.6 L114.7 1700.0" stroke="#1f4e79"/><path d="M59.1 2171.0 L70.7 2119.3 L78.5 2096.0 L86.2 2067.5 L91.4 2036.4 L101.8 1995.0 L112.1 1956.2 L119.9 1938.1 L125.1 1904.5 L130.2 1870.8 L135.4 1826.8 L140.6 1798.3 L148.3 1751.8 L156.1 1720.7 L161.3 1700.0" stroke="#525252"/><path d="M59.1 2173.6 L73.3 2140.0 L86.2 2114.1 L99.2 2093.4 L109.5 2075.3 L119.9 2059.7 L125.1 2036.4 L132.8 2018.3 L145.8 1997.6 L156.1 1979.5 L169.0 1948.4 L176.8 1930.3 L184.6 1922.6 L192.3 1907.0 L202.7 1891.5 L210.5 1881.2 L220.8 1870.8 L231.2 1855.3 L241.5 1844.9 L257.0 1832.0 L270.0 1816.5 L282.9 1803.5 L290.7 1790.6 L308.8 1775.1 L321.7 1767.3 L332.1 1762.1 L342.4 1754.3 L355.4 1751.8 L365.7 1741.4 L378.7 1733.6 L396.8 1725.9 L420.1 1718.1 L438.2 1710.4 L453.7 1702.6 L464.1 1700.0" stroke="#808080"/><path d="M59.1 2178.8 L75.9 2150.3 L91.4 2134.8 L106.9 2114.1 L117.3 2083.0 L125.1 2054.6 L135.4 2028.7 L148.3 2013.1 L156.1 1997.6 L166.5 1974.3 L176.8 1953.6 L184.6 1935.5 L194.9 1922.6 L205.3 1901.9 L210.5 1888.9 L226.0 1876.0 L238.9 1857.9 L249.3 1847.5 L264.8 1834.6 L275.2 1824.2 L285.5 1816.5 L293.3 1811.3 L308.8 1803.5 L324.3 1790.6 L339.9 1780.2 L360.6 1769.9 L386.4 1759.5 L412.3 1754.3 L438.2 1750.5 L464.1 1746.6 L490.0 1742.7 L515.8 1740.1 L541.7 1736.2 L550.0 1733.6" stroke="#8faadc"/><path d="M60.4 2171.0 L75.9 2160.7 L86.2 2137.4 L96.6 2114.1 L109.5 2090.8 L119.9 2064.9 L127.6 2044.2 L138.0 2008.0 L145.8 1979.5 L148.3 1969.2 L150.9 1951.0 L153.5 1925.2 L158.7 1904.5 L169.0 1865.6 L176.8 1834.6 L184.6 1803.5 L194.9 1769.9 L202.7 1741.4 L210.5 1700.0" stroke="#a64d12"/><path d="M59.3 2195.9 L62.0 2192.8 L64.7 2190.8 L67.4 2188.9 L70.1 2187.3 L72.8 2185.7 L75.5 2184.2 L78.2 2182.8 L80.8 2181.4 L83.5 2180.1 L86.2 2178.8 L101.8 2152.9 L119.9 2114.1 L125.1 2101.1 L127.6 2085.6 L132.8 2083.0 L140.6 2057.1 L148.3 2020.9 L153.5 2002.8 L158.7 1974.3 L163.9 1953.6 L169.0 1930.3 L176.8 1904.5 L184.6 1886.3 L194.9 1855.3 L200.1 1824.2 L207.9 1800.9 L215.6 1777.6 L220.8 1767.3 L228.6 1741.4 L233.7 1723.3 L241.5 1700.0" stroke="#548235"/><path d="M59.3 2194.3 L63.8 2190.6 L68.3 2188.1 L72.8 2185.9 L77.3 2183.9 L81.8 2182.0 L86.3 2180.2 L90.8 2178.5 L95.3 2176.8 L99.8 2175.2 L104.3 2173.6 L114.7 2158.1 L122.5 2134.8 L135.4 2116.7 L145.8 2103.7 L156.1 2090.8 L166.5 2077.8 L179.4 2054.6 L187.2 2028.7 L194.9 1995.0 L205.3 1969.2 L215.6 1940.7 L226.0 1917.4 L236.3 1899.3 L241.5 1881.2 L246.7 1865.6 L254.5 1847.5 L264.8 1826.8 L275.2 1811.3 L285.5 1795.8 L295.9 1772.5 L306.2 1756.9 L314.0 1738.8 L321.7 1723.3 L326.9 1720.7 L332.1 1712.9 L339.9 1702.6 L342.4 1700.0" stroke="#997300"/><path d="M59.3 2194.3 L63.5 2190.6 L67.8 2188.1 L72.0 2185.9 L76.3 2183.9 L80.5 2182.0 L84.8 2180.2 L89.0 2178.5 L93.3 2176.8 L97.5 2175.2 L101.8 2173.6 L106.9 2159.4 L117.3 2158.1 L122.5 2142.5 L132.8 2129.6 L138.0 2111.5 L143.2 2088.2 L153.5 2070.1 L166.5 2057.1 L176.8 2052.0 L189.8 2044.2 L197.5 2031.3 L200.1 1958.8 L200.1 1956.2 L207.9 1953.6 L213.0 1945.9 L231.2 1945.9 L241.5 1927.7 L244.1 1876.0 L275.2 1876.0 L280.3 1829.4 L303.6 1826.8 L314.0 1808.7 L314.0 1780.2 L321.7 1780.2 L329.5 1759.5 L339.9 1733.6 L352.8 1700.0" stroke="#c55a11"/><path d="M59.3 2173.4 L68.2 2161.0 L77.1 2152.5 L86.0 2145.1 L94.9 2138.3 L103.8 2132.0 L112.7 2125.9 L121.6 2120.1 L130.5 2114.5 L139.4 2109.0 L148.3 2103.7 L158.7 2093.4 L171.6 2085.6 L184.6 2072.7 L194.9 2064.9 L205.3 2049.4 L215.6 2041.6 L226.0 2010.6 L236.3 1992.4 L244.1 1984.7 L254.5 1979.5 L264.8 1956.2 L275.2 1945.9 L288.1 1938.1 L298.4 1922.6 L308.8 1909.6 L319.2 1904.5 L329.5 1896.7 L342.4 1886.3 L352.8 1881.2 L365.7 1870.8 L378.7 1863.0 L391.6 1855.3 L407.1 1847.5 L422.7 1839.8 L438.2 1834.6 L453.7 1829.4 L469.3 1824.2 L490.0 1819.0 L515.8 1813.9 L550.0 1808.7" stroke="#a9d18e"/><path d="M59.3 2172.6 L67.4 2159.9 L75.6 2151.2 L83.7 2143.6 L91.8 2136.6 L99.9 2130.1 L108.1 2123.9 L116.2 2117.9 L124.3 2112.1 L132.5 2106.6 L140.6 2101.1 L153.5 2093.4 L169.0 2088.2 L182.0 2080.4 L194.9 2072.7 L205.3 2057.1 L218.2 2044.2 L231.2 2031.3 L241.5 2018.3 L254.5 1995.0 L264.8 1969.2 L275.2 1956.2 L288.1 1940.7 L301.0 1927.7 L311.4 1917.4 L324.3 1912.2 L334.7 1904.5 L347.6 1891.5 L360.6 1883.7 L376.1 1868.2 L391.6 1857.9 L412.3 1847.5 L427.8 1826.8 L443.4 1819.0 L464.1 1811.3 L479.6 1803.5 L495.1 1798.3 L523.6 1790.6 L531.4 1775.1 L550.0 1769.9" stroke="#ffc000"/><path d="M59.3 2179.6 L68.2 2169.8 L77.1 2163.1 L86.0 2157.2 L94.9 2151.8 L103.8 2146.8 L112.7 2142.0 L121.6 2137.4 L130.5 2132.9 L139.4 2128.6 L148.3 2124.4 L158.7 2111.5 L171.6 2098.6 L182.0 2090.8 L194.9 2080.4 L202.7 2067.5 L207.9 2072.7 L218.2 2054.6 L228.6 2039.0 L241.5 2008.0 L254.5 1989.9 L267.4 1971.7 L277.7 1961.4 L290.7 1948.4 L303.6 1935.5 L316.6 1925.2 L326.9 1917.4 L337.3 1907.0 L347.6 1896.7 L360.6 1886.3 L376.1 1876.0 L391.6 1865.6 L407.1 1855.3 L422.7 1847.5 L440.8 1837.2 L458.9 1829.4 L484.8 1819.0 L510.7 1811.3 L531.4 1806.1 L550.0 1800.9" stroke="#2e75b6"/><path d="M59.3 2177.2 L70.5 2166.5 L81.8 2159.1 L93.0 2152.7 L104.2 2146.8 L115.5 2141.2 L126.7 2135.9 L137.9 2130.9 L149.2 2126.0 L160.4 2121.3 L171.6 2116.7 L184.6 2103.7 L194.9 2080.4 L205.3 2067.5 L215.6 2054.6 L231.2 2044.2 L246.7 2039.0 L257.0 2026.1 L267.4 2000.2 L277.7 1984.7 L288.1 1974.3 L301.0 1964.0 L311.4 1956.2 L321.7 1948.4 L332.1 1943.3 L339.9 1932.9 L347.6 1927.7 L355.4 1922.6 L365.7 1917.4 L376.1 1909.6 L386.4 1901.9 L394.2 1896.7 L404.6 1891.5 L420.1 1883.7 L433.0 1881.2 L443.4 1876.0 L458.9 1824.2 L464.1 1819.0 L490.0 1816.5 L515.8 1813.9 L550.0 1810.0" stroke="#606060"/><path d="M59.3 2167.1 L73.9 2152.2 L88.5 2142.0 L103.1 2133.0 L117.7 2124.8 L132.3 2117.1 L146.9 2109.8 L161.5 2102.8 L176.1 2096.0 L190.7 2089.4 L205.3 2083.0 L220.8 2072.7 L236.3 2062.3 L251.9 2046.8 L267.4 2031.3 L282.9 2015.7 L298.4 2005.4 L308.8 1995.0 L319.2 1984.7 L334.7 1976.9 L347.6 1969.2 L358.0 1964.0 L370.9 1958.8 L386.4 1951.0 L399.4 1945.9 L412.3 1940.7 L427.8 1935.5 L443.4 1927.7 L456.3 1922.6 L471.8 1917.4 L490.0 1912.2 L510.7 1907.0 L531.4 1901.9 L550.0 1896.7" stroke="#8fbce6"/><path d="M59.3 2176.5 L72.3 2165.4 L85.4 2157.8 L98.4 2151.2 L111.5 2145.1 L124.5 2139.4 L137.6 2133.9 L150.6 2128.7 L163.7 2123.7 L176.7 2118.8 L189.8 2114.1 L200.1 2108.9 L215.6 2098.6 L231.2 2085.6 L246.7 2077.8 L262.2 2067.5 L277.7 2057.1 L293.3 2044.2 L308.8 2031.3 L324.3 2023.5 L339.9 2018.3 L355.4 2008.0 L370.9 2000.2 L386.4 1995.0 L402.0 1984.7 L417.5 1979.5 L433.0 1974.3 L448.6 1966.6 L453.7 1956.2 L464.1 1951.0 L474.4 1945.9 L490.0 1938.1 L505.5 1930.3 L521.0 1922.6 L528.8 1907.0 L541.7 1896.7 L550.0 1888.9" stroke="#c0c0c0"/><path d="M59.3 2178.0 L70.8 2167.6 L82.3 2160.4 L93.8 2154.2 L105.3 2148.5 L116.8 2143.1 L128.3 2138.0 L139.7 2133.0 L151.2 2128.3 L162.7 2123.7 L174.2 2119.3 L194.9 2106.3 L210.5 2098.6 L226.0 2090.8 L241.5 2083.0 L254.5 2075.3 L264.8 2067.5 L275.2 2054.6 L282.9 2046.8 L298.4 2039.0 L308.8 2033.9 L321.7 2028.7 L334.7 2020.9 L347.6 2015.7 L360.6 2010.6 L376.1 2005.4 L386.4 2002.8 L399.4 1997.6 L412.3 1989.9 L427.8 1987.3 L443.4 1984.7 L464.1 1983.4 L490.0 1982.1 L515.8 1980.8 L550.0 1976.9" stroke="#203864"/><path d="M59.3 2173.4 L81.7 2161.0 L104.0 2152.5 L126.4 2145.1 L148.7 2138.3 L171.1 2132.0 L193.5 2125.9 L215.8 2120.1 L238.2 2114.5 L260.6 2109.0 L282.9 2103.7 L308.8 2088.2 L334.7 2070.1 L360.6 2057.1 L376.1 2049.4 L396.8 2041.6 L417.5 2033.9 L438.2 2028.7 L458.9 2020.9 L474.4 2010.6 L490.0 2005.4 L515.8 2000.2 L550.0 1992.4" stroke="#843c0c"/><path d="M59.3 2171.8 L83.0 2158.8 L106.6 2149.9 L130.3 2142.1 L153.9 2135.0 L177.6 2128.2 L201.2 2121.9 L224.9 2115.7 L248.5 2109.8 L272.2 2104.1 L295.9 2098.6 L321.7 2088.2 L347.6 2075.3 L373.5 2062.3 L399.4 2052.0 L425.3 2044.2 L451.1 2036.4 L477.0 2031.3 L502.9 2026.1 L528.8 2020.9 L550.0 2015.7" stroke="#7f6000"/><path d="M530.0 1297.9 L553.3 1296.6 L558.5 1292.7 L576.6 1286.2 L594.7 1283.6 L620.6 1282.3 L641.3 1279.0 L672.3 1277.2 L711.2 1274.6 L737.0 1274.1 L762.9 1272.8 L801.7 1272.0 L840.6 1269.4 L866.4 1266.8 L905.3 1265.0 L931.1 1264.2 L957.0 1261.6 L982.9 1259.1 L1008.8 1257.2 L1030.0 1255.7" stroke="#a64d12"/><path d="M530.0 1325.1 L545.5 1316.0 L563.6 1310.8 L586.9 1301.8 L607.6 1296.6 L633.5 1287.5 L654.2 1279.8 L674.9 1274.6 L698.2 1268.1 L716.3 1260.4 L731.9 1257.8 L750.0 1251.3 L757.7 1250.0" stroke="#548235"/><path d="M530.0 1668.0 L548.1 1655.0 L561.1 1649.8 L579.2 1636.9 L594.7 1622.7 L602.5 1612.3 L612.8 1603.3 L620.6 1594.2 L630.9 1586.4 L638.7 1570.9 L654.2 1555.4 L667.2 1542.4 L680.1 1524.3 L690.5 1511.4 L700.8 1501.0 L711.2 1490.7 L718.9 1477.7 L731.9 1467.4 L742.2 1449.3 L752.6 1438.9 L768.1 1420.8 L781.0 1411.7 L796.6 1400.1 L809.5 1392.3 L822.4 1382.0 L835.4 1375.5 L848.3 1363.9 L866.4 1352.2 L884.6 1341.9 L897.5 1335.4 L918.2 1325.1 L933.7 1318.6 L949.3 1310.8 L964.8 1301.8 L980.3 1297.9 L995.8 1291.4 L1016.5 1279.8 L1030.0 1272.0" stroke="#808080"/><path d="M530.0 1532.1 L542.9 1530.8 L550.7 1526.9 L568.8 1526.9 L589.5 1521.7 L607.6 1516.6 L638.7 1513.5 L645.2 1504.9 L680.1 1504.9 L685.3 1502.3 L716.3 1499.7 L742.2 1498.4 L750.0 1493.3 L768.1 1490.7 L783.6 1486.0 L791.4 1486.0 L795.3 1472.6 L814.7 1471.3 L827.6 1470.0 L856.1 1469.2 L866.4 1464.8 L879.4 1459.1 L889.7 1457.0 L897.5 1450.6 L910.4 1445.4 L926.0 1442.8 L936.3 1440.2 L949.3 1437.6 L964.8 1433.7 L977.7 1431.2 L995.8 1429.9 L1006.2 1419.5 L1016.5 1415.6 L1026.9 1414.3 L1030.0 1409.2" stroke="#c55a11"/><path d="M530.0 1591.6 L540.4 1583.9 L561.1 1583.9 L579.2 1574.8 L597.3 1570.9 L620.6 1569.1 L641.3 1565.7 L674.9 1563.1 L690.5 1558.0 L716.3 1552.8 L737.0 1548.9 L750.0 1545.0 L775.9 1543.7 L801.7 1541.1 L814.7 1537.3 L832.8 1536.7 L840.6 1530.8 L866.4 1530.8 L882.0 1528.2 L907.8 1526.4 L918.2 1523.0 L944.1 1519.2 L970.0 1515.3 L990.7 1510.1 L1011.4 1507.5 L1021.7 1504.9 L1030.0 1504.9" stroke="#997300"/><path d="M667.2 1750.0 L682.7 1731.4 L698.2 1710.7 L711.2 1690.0 L718.9 1674.4 L726.7 1671.8 L742.2 1646.0 L750.0 1635.6 L760.3 1631.7 L768.1 1607.1 L773.3 1596.8 L788.8 1583.9 L796.6 1573.5 L804.3 1560.6 L814.7 1554.1 L822.4 1547.6 L832.8 1547.6 L840.6 1532.1 L853.5 1520.4 L863.9 1514.0 L876.8 1499.7 L887.1 1490.7 L894.9 1489.4 L902.7 1476.4 L913.0 1472.6 L923.4 1463.5 L931.1 1460.9 L936.3 1449.3 L949.3 1442.8 L959.6 1436.3 L970.0 1428.6 L982.9 1422.1 L995.8 1416.9 L1008.8 1405.3 L1021.7 1398.8 L1030.0 1398.8" stroke="#c0c0c0"/><path d="M700.8 1750.0 L711.2 1734.0 L716.3 1728.8 L731.9 1727.5 L739.6 1710.7 L750.0 1701.6 L762.9 1700.3 L768.1 1687.4 L778.4 1679.6 L788.8 1674.4 L801.7 1670.5 L814.7 1660.2 L827.6 1656.3 L840.6 1651.1 L856.1 1646.0 L871.6 1640.8 L882.0 1633.0 L894.9 1627.8 L907.8 1620.1 L920.8 1613.6 L933.7 1612.3 L949.3 1605.8 L970.0 1603.3 L990.7 1598.1 L1006.2 1598.1 L1021.7 1592.9 L1030.0 1591.1" stroke="#ffc000"/><path d="M530.0 1736.5 L555.9 1731.4 L581.8 1727.5 L607.6 1724.9 L633.5 1721.0 L659.4 1717.1 L685.3 1714.5 L711.2 1710.7 L737.0 1706.8 L762.9 1702.9 L788.8 1700.3 L814.7 1696.4 L832.8 1695.1 L840.6 1690.0 L866.4 1687.4 L892.3 1683.5 L918.2 1679.6 L944.1 1675.7 L970.0 1671.8 L995.8 1666.7 L1021.7 1661.5 L1030.0 1658.9" stroke="#8faadc"/><path d="M659.4 1750.0 L685.3 1744.3 L711.2 1740.4 L737.0 1735.2 L762.9 1728.8 L788.8 1721.0 L814.7 1715.8 L840.6 1710.7 L866.4 1704.2 L892.3 1697.7 L918.2 1691.3 L944.1 1684.8 L970.0 1678.3 L995.8 1671.8 L1021.7 1665.4 L1030.0 1662.8" stroke="#ffd966"/><path d="M863.9 1750.0 L879.4 1736.5 L892.3 1726.2 L905.3 1718.4 L918.2 1710.7 L933.7 1700.3 L944.1 1692.5 L957.0 1687.4 L970.0 1682.2 L985.5 1671.8 L995.8 1664.1 L1011.4 1658.9 L1030.0 1656.3" stroke="#2f5597"/><path d="M874.2 1750.0 L892.3 1736.5 L905.3 1726.2 L918.2 1715.8 L931.1 1708.1 L944.1 1700.3 L959.6 1692.5 L975.1 1684.8 L995.8 1679.6 L1011.4 1674.4 L1030.0 1668.0" stroke="#375623"/><path d="M742.2 1750.0 L762.9 1746.9 L788.8 1744.3 L814.7 1740.4 L840.6 1736.5 L866.4 1731.4 L892.3 1726.2 L918.2 1723.6 L944.1 1719.7 L959.6 1713.3 L982.9 1710.7 L995.8 1708.1 L1008.8 1702.9 L1030.0 1700.3" stroke="#595959"/><path d="M762.9 1750.0 L788.8 1748.2 L814.7 1744.3 L840.6 1740.4 L866.4 1735.2 L892.3 1730.1 L918.2 1726.2 L944.1 1722.3 L970.0 1719.7 L995.8 1715.8 L1030.0 1710.7" stroke="#2e75b6"/><path d="M840.6 1750.0 L866.4 1746.9 L892.3 1741.7 L918.2 1736.5 L944.1 1731.4 L970.0 1727.5 L995.8 1721.0 L1030.0 1713.3" stroke="#a9d18e"/><path d="M530.0 1775.1 L581.8 1764.7 L633.5 1754.3 L685.3 1745.3 L737.0 1733.6 L788.8 1723.3 L840.6 1711.6 L874.2 1700.0" stroke="#ffc000"/><path d="M530.0 1812.6 L555.9 1811.3 L581.8 1807.4 L607.6 1800.9 L618.0 1782.8 L630.9 1762.1 L646.5 1758.2 L672.3 1755.6 L698.2 1753.1 L737.0 1751.8 L750.0 1747.9 L762.9 1745.3 L788.8 1744.0 L814.7 1741.4 L840.6 1738.8 L866.4 1734.9 L892.3 1728.5 L918.2 1720.7 L944.1 1714.2 L970.0 1710.4 L995.8 1705.2 L1030.0 1700.0" stroke="#595959"/><path d="M530.0 1804.8 L555.9 1798.3 L581.8 1793.2 L607.6 1788.0 L633.5 1780.2 L659.4 1775.1 L685.3 1768.6 L711.2 1763.4 L737.0 1758.2 L762.9 1751.8 L788.8 1746.6 L814.7 1742.7 L840.6 1738.8 L866.4 1733.6 L892.3 1728.5 L918.2 1724.6 L944.1 1722.0 L970.0 1719.4 L995.8 1714.2 L1030.0 1711.6" stroke="#2e75b6"/><path d="M530.0 1810.0 L555.9 1804.8 L581.8 1799.6 L607.6 1791.9 L633.5 1786.7 L659.4 1784.1 L685.3 1780.2 L711.2 1775.1 L737.0 1769.9 L762.9 1764.7 L788.8 1759.5 L814.7 1755.6 L840.6 1751.8 L866.4 1745.3 L892.3 1738.8 L918.2 1732.3 L944.1 1727.2 L970.0 1723.3 L995.8 1718.1 L1030.0 1714.2" stroke="#a9d18e"/><path d="M530.0 1907.0 L542.9 1894.1 L555.9 1886.3 L568.8 1876.0 L581.8 1863.0 L592.1 1857.9 L602.5 1844.9 L612.8 1834.6 L623.2 1824.2 L633.5 1803.5 L643.9 1785.4 L654.2 1772.5 L664.6 1759.5 L674.9 1741.4 L685.3 1728.5 L695.6 1712.9 L703.4 1700.0" stroke="#c0c0c0"/><path d="M537.8 1989.9 L545.5 1979.5 L555.9 1966.6 L563.6 1951.0 L571.4 1935.5 L579.2 1922.6 L581.8 1917.4 L592.1 1909.6 L597.3 1896.7 L607.6 1876.0 L612.8 1863.0 L618.0 1855.3 L625.8 1852.7 L633.5 1842.3 L638.7 1829.4 L646.5 1816.5 L656.8 1806.1 L664.6 1795.8 L674.9 1777.6 L685.3 1764.7 L698.2 1759.5 L700.8 1751.8 L711.2 1731.1 L721.5 1728.5 L731.9 1725.9 L737.0 1715.5 L744.8 1707.8 L755.2 1700.0" stroke="#ffc000"/><path d="M530.0 1900.6 L555.9 1896.7 L581.8 1891.5 L607.6 1886.3 L633.5 1881.2 L659.4 1876.0 L685.3 1870.8 L711.2 1863.0 L737.0 1855.3 L762.9 1847.5 L788.8 1841.0 L814.7 1834.6 L840.6 1826.8 L866.4 1820.3 L892.3 1813.9 L918.2 1806.1 L944.1 1798.3 L970.0 1789.3 L995.8 1780.2 L1030.0 1766.0" stroke="#8fbce6"/><path d="M59.3 2179.9 L68.7 2175.1 L82.8 2169.9 L101.7 2163.9 L125.2 2157.1 L153.4 2149.6 L186.4 2141.3 L224.0 2132.5 L266.4 2122.9 L313.5 2112.8 L365.3 2102.1 L421.7 2090.8 L473.5 2080.8 L530.0 2070.1 L542.9 2062.3 L555.9 2057.1 L568.8 2049.4 L581.8 2033.9 L592.1 2028.7 L607.6 2005.4 L615.4 1989.9 L623.2 1979.5 L633.5 1966.6 L646.5 1953.6 L659.4 1938.1 L672.3 1925.2 L685.3 1909.6 L698.2 1896.7 L711.2 1878.6 L726.7 1865.6 L737.0 1855.3 L750.0 1839.8 L762.9 1832.0 L775.9 1816.5 L788.8 1806.1 L801.7 1795.8 L814.7 1785.4 L827.6 1777.6 L840.6 1767.3 L853.5 1756.9 L866.4 1750.5 L879.4 1741.4 L892.3 1733.6 L905.3 1728.5 L918.2 1720.7 L931.1 1715.5 L944.1 1707.8 L957.0 1700.0" stroke="#7f7f7f"/><path d="M59.3 2176.4 L68.7 2171.1 L82.8 2165.5 L101.7 2159.0 L125.2 2151.6 L153.4 2143.5 L186.4 2134.5 L224.0 2124.9 L266.4 2114.5 L313.5 2103.5 L365.3 2091.9 L421.7 2079.6 L473.5 2068.7 L530.0 2057.1 L545.5 2054.6 L555.9 2046.8 L568.8 2033.9 L581.8 2020.9 L594.7 2008.0 L607.6 1997.6 L620.6 1989.9 L633.5 1979.5 L646.5 1964.0 L659.4 1951.0 L672.3 1932.9 L685.3 1917.4 L698.2 1907.0 L711.2 1886.3 L724.1 1870.8 L737.0 1857.9 L750.0 1844.9 L762.9 1834.6 L775.9 1819.0 L788.8 1808.7 L801.7 1803.5 L814.7 1795.8 L827.6 1788.0 L840.6 1769.9 L853.5 1762.1 L866.4 1751.8 L879.4 1744.0 L892.3 1736.2 L905.3 1728.5 L918.2 1718.1 L931.1 1710.4 L944.1 1700.0" stroke="#2f5597"/><path d="M59.3 2184.8 L68.7 2181.5 L82.8 2177.9 L101.7 2173.8 L125.2 2169.1 L153.4 2163.9 L186.4 2158.2 L224.0 2152.1 L266.4 2145.5 L313.5 2138.5 L365.3 2131.0 L421.7 2123.2 L473.5 2116.3 L530.0 2108.9 L542.9 2103.7 L555.9 2090.8 L568.8 2075.3 L581.8 2062.3 L594.7 2046.8 L607.6 2033.9 L620.6 2018.3 L628.3 1984.7 L638.7 1958.8 L649.0 1948.4 L659.4 1938.1 L672.3 1927.7 L685.3 1917.4 L698.2 1912.2 L711.2 1901.9 L724.1 1886.3 L737.0 1876.0 L750.0 1865.6 L762.9 1860.5 L775.9 1850.1 L788.8 1844.9 L801.7 1839.8 L814.7 1834.6 L827.6 1829.4 L840.6 1824.2 L853.5 1821.6 L866.4 1816.5 L879.4 1813.9 L892.3 1808.7 L905.3 1806.1 L918.2 1798.3 L931.1 1793.2 L944.1 1788.0 L957.0 1782.8 L970.0 1777.6 L982.9 1772.5 L995.8 1767.3 L1008.8 1759.5 L1030.0 1751.8" stroke="#467a2c"/><path d="M530.0 1979.5 L555.9 1976.9 L581.8 1974.3 L607.6 1971.7 L633.5 1966.6 L659.4 1962.7 L685.3 1960.1 L711.2 1956.2 L737.0 1953.6 L762.9 1951.0 L788.8 1948.4 L814.7 1947.2 L840.6 1945.9 L866.4 1942.0 L892.3 1938.1 L918.2 1935.5 L944.1 1934.2 L970.0 1931.6 L995.8 1925.2 L1030.0 1920.0" stroke="#203864"/><path d="M530.0 1992.4 L555.9 1987.3 L581.8 1983.4 L607.6 1979.5 L633.5 1975.6 L659.4 1973.0 L685.3 1971.7 L711.2 1970.4 L737.0 1969.2 L762.9 1967.9 L788.8 1966.6 L814.7 1965.3 L840.6 1965.3 L866.4 1964.0 L892.3 1964.0 L918.2 1962.7 L944.1 1962.7 L970.0 1961.4 L995.8 1956.2 L1021.7 1949.7 L1030.0 1948.4" stroke="#843c0c"/><path d="M530.0 2018.3 L555.9 2010.6 L581.8 2002.8 L607.6 1989.9 L633.5 1979.5 L659.4 1971.7 L685.3 1964.0 L711.2 1956.2 L737.0 1945.9 L762.9 1938.1 L788.8 1931.6 L814.7 1925.2 L840.6 1920.0 L866.4 1914.8 L892.3 1909.6 L918.2 1904.5 L944.1 1899.3 L970.0 1891.5 L995.8 1883.7 L1030.0 1872.1" stroke="#7f6000"/><path d="M59.3 2167.1 L68.7 2160.0 L82.8 2152.2 L101.7 2143.2 L125.2 2133.0 L153.4 2121.8 L186.4 2109.5 L224.0 2096.2 L266.4 2081.9 L313.5 2066.8 L365.3 2050.7 L421.7 2033.8 L473.5 2018.8 L530.0 2002.8 L555.9 2000.2 L581.8 1996.3 L607.6 1992.4 L633.5 1987.3 L659.4 1982.1 L685.3 1979.5 L711.2 1976.9 L737.0 1973.0 L762.9 1969.2 L788.8 1964.0 L814.7 1958.8 L840.6 1953.6 L866.4 1945.9 L892.3 1940.7 L918.2 1935.5 L944.1 1927.7 L970.0 1922.6 L995.8 1914.8 L1030.0 1904.5" stroke="#f4b183"/><path d="M59.3 2169.0 L68.7 2162.2 L82.8 2154.8 L101.7 2146.3 L125.2 2136.7 L153.4 2126.0 L186.4 2114.3 L224.0 2101.7 L266.4 2088.2 L313.5 2073.8 L365.3 2058.6 L421.7 2042.6 L473.5 2028.3 L530.0 2013.1 L555.9 2008.0 L581.8 2002.8 L607.6 1995.0 L633.5 1987.3 L659.4 1976.9 L685.3 1969.2 L711.2 1961.4 L737.0 1952.3 L762.9 1945.9 L783.6 1938.1 L788.8 1940.7 L814.7 1932.9 L840.6 1925.2 L866.4 1920.0 L892.3 1909.6 L918.2 1901.9 L944.1 1896.7 L970.0 1891.5 L995.8 1886.3 L1030.0 1881.2" stroke="#c0c0c0"/><path d="M59.3 2170.9 L68.7 2164.7 L82.8 2158.0 L101.7 2150.2 L125.2 2141.4 L153.4 2131.7 L186.4 2121.0 L224.0 2109.5 L266.4 2097.2 L313.5 2084.0 L365.3 2070.1 L421.7 2055.5 L473.5 2042.5 L530.0 2028.7 L555.9 2026.1 L581.8 2020.9 L607.6 2013.1 L633.5 2008.0 L659.4 2002.8 L685.3 1995.0 L711.2 1987.3 L737.0 1976.9 L762.9 1969.2 L788.8 1958.8 L814.7 1948.4 L840.6 1938.1 L866.4 1927.7 L892.3 1917.4 L918.2 1907.0 L944.1 1901.9 L970.0 1899.3 L995.8 1894.1 L1030.0 1886.3" stroke="#70ad47"/><path d="M59.3 2172.8 L68.7 2166.8 L82.8 2160.3 L101.7 2152.9 L125.2 2144.5 L153.4 2135.1 L186.4 2124.9 L224.0 2113.9 L266.4 2102.1 L313.5 2089.5 L365.3 2076.2 L421.7 2062.2 L473.5 2049.7 L530.0 2036.4 L555.9 2031.3 L581.8 2026.1 L607.6 2022.2 L633.5 2018.3 L659.4 2010.6 L685.3 2002.8 L711.2 1997.6 L737.0 1992.4 L762.9 1987.3 L788.8 1982.1 L814.7 1976.9 L840.6 1971.7 L866.4 1966.6 L892.3 1964.0 L905.3 1958.8 L918.2 1948.4 L944.1 1943.3 L970.0 1932.9 L995.8 1922.6 L1008.8 1904.5 L1021.7 1896.7 L1030.0 1894.1" stroke="#ffe08a"/><path d="M59.3 2174.6 L68.7 2168.6 L82.8 2162.2 L101.7 2154.8 L125.2 2146.5 L153.4 2137.2 L186.4 2127.0 L224.0 2116.0 L266.4 2104.3 L313.5 2091.8 L365.3 2078.5 L421.7 2064.6 L473.5 2052.2 L530.0 2039.0 L555.9 2031.3 L568.8 2026.1 L581.8 2015.7 L594.7 2008.0 L607.6 2002.8 L620.6 1992.4 L633.5 1971.7 L646.5 1956.2 L659.4 1945.9 L672.3 1938.1 L685.3 1932.9 L698.2 1920.0 L711.2 1917.4 L724.1 1914.8 L737.0 1912.2 L750.0 1904.5 L762.9 1899.3 L775.9 1891.5 L788.8 1886.3 L801.7 1878.6 L814.7 1870.8 L827.6 1865.6 L840.6 1860.5 L853.5 1857.9 L866.4 1850.1 L879.4 1847.5 L892.3 1837.2 L905.3 1832.0 L918.2 1829.4 L931.1 1826.8 L944.1 1824.2 L970.0 1819.0 L995.8 1811.3 L1021.7 1782.8 L1030.0 1777.6" stroke="#4472c4"/><path d="M762.9 1992.4 L775.9 1982.1 L788.8 1974.3 L801.7 1964.0 L814.7 1956.2 L827.6 1948.4 L840.6 1943.3 L853.5 1940.7 L863.9 1958.8 L866.4 1917.4 L892.3 1901.9 L918.2 1881.2 L944.1 1855.3 L970.0 1834.6 L995.8 1813.9 L1030.0 1798.3" stroke="#5b9bd5"/><path d="M931.1 2010.6 L933.7 1984.7 L944.1 1958.8 L957.0 1932.9 L970.0 1912.2 L975.1 1901.9 L982.9 1881.2 L995.8 1855.3 L1008.8 1821.6 L1021.7 1790.6 L1030.0 1777.6" stroke="#8faadc"/><path d="M59.3 2188.0 L68.7 2185.2 L82.8 2182.2 L101.7 2178.7 L125.2 2174.8 L153.4 2170.4 L186.4 2165.7 L224.0 2160.5 L266.4 2155.0 L313.5 2149.2 L365.3 2143.0 L421.7 2136.4 L473.5 2130.6 L530.0 2124.4 L555.9 2108.9 L581.8 2096.0 L607.6 2083.0 L633.5 2072.7 L659.4 2062.3 L685.3 2052.0 L711.2 2044.2 L737.0 2033.9 L762.9 2023.5 L788.8 2013.1 L814.7 2005.4 L840.6 1997.6 L866.4 1989.9 L892.3 1982.1 L918.2 1974.3 L944.1 1964.0 L970.0 1951.0 L995.8 1935.5 L1030.0 1920.0" stroke="#375623"/><path d="M59.3 2183.2 L68.7 2179.5 L82.8 2175.5 L101.7 2170.9 L125.2 2165.7 L153.4 2159.9 L186.4 2153.5 L224.0 2146.7 L266.4 2139.3 L313.5 2131.5 L365.3 2123.2 L421.7 2114.5 L473.5 2106.8 L530.0 2098.6 L555.9 2096.0 L581.8 2093.4 L607.6 2090.8 L633.5 2085.6 L659.4 2077.8 L685.3 2070.1 L711.2 2062.3 L737.0 2054.6 L762.9 2046.8 L788.8 2039.0 L814.7 2036.4 L840.6 2031.3 L866.4 2023.5 L892.3 2018.3 L918.2 2013.1 L944.1 2008.0 L970.0 2000.2 L995.8 1992.4 L1030.0 1987.3" stroke="#e0702a"/><path d="M59.3 2181.6 L68.7 2177.7 L82.8 2173.5 L101.7 2168.7 L125.2 2163.3 L153.4 2157.2 L186.4 2150.6 L224.0 2143.5 L266.4 2135.8 L313.5 2127.7 L365.3 2119.1 L421.7 2110.0 L473.5 2101.9 L530.0 2093.4 L555.9 2090.8 L581.8 2088.2 L607.6 2085.6 L633.5 2080.4 L659.4 2075.3 L685.3 2070.1 L711.2 2064.9 L737.0 2059.7 L762.9 2054.6 L788.8 2049.4 L814.7 2046.8 L840.6 2044.2 L866.4 2039.0 L892.3 2036.4 L918.2 2031.3 L944.1 2026.1 L970.0 2020.9 L995.8 2008.0 L1030.0 1989.9" stroke="#4472c4"/><path d="M59.3 2186.4 L68.7 2183.2 L82.8 2179.6 L101.7 2175.5 L125.2 2170.9 L153.4 2165.8 L186.4 2160.1 L224.0 2154.1 L266.4 2147.6 L313.5 2140.7 L365.3 2133.3 L421.7 2125.6 L473.5 2118.8 L530.0 2111.5 L555.9 2108.9 L581.8 2103.7 L607.6 2098.6 L633.5 2093.4 L659.4 2088.2 L685.3 2083.0 L711.2 2077.8 L737.0 2072.7 L762.9 2067.5 L788.8 2062.3 L814.7 2057.1 L840.6 2052.0 L866.4 2046.8 L892.3 2041.6 L918.2 2033.9 L944.1 2023.5 L957.0 2000.2 L970.0 1995.0 L995.8 1958.8 L1008.8 1948.4 L1021.7 1938.1 L1030.0 1927.7" stroke="#bf9000"/><path d="M59.3 2189.5 L68.7 2186.9 L82.8 2184.0 L101.7 2180.8 L125.2 2177.1 L153.4 2173.0 L186.4 2168.5 L224.0 2163.6 L266.4 2158.4 L313.5 2152.9 L365.3 2147.1 L421.7 2140.9 L473.5 2135.4 L530.0 2129.6 L555.9 2124.4 L581.8 2119.3 L607.6 2114.1 L633.5 2108.9 L659.4 2103.7 L685.3 2098.6 L711.2 2093.4 L737.0 2088.2 L762.9 2083.0 L788.8 2077.8 L814.7 2072.7 L840.6 2067.5 L866.4 2062.3 L892.3 2057.1 L918.2 2052.0 L944.1 2046.8 L970.0 2041.6 L995.8 2033.9 L1030.0 2020.9" stroke="#2f5597"/><path d="M59.3 2178.1 L68.7 2173.3 L82.8 2168.1 L101.7 2162.0 L125.2 2155.2 L153.4 2147.6 L186.4 2139.3 L224.0 2130.4 L266.4 2120.8 L313.5 2110.5 L365.3 2099.7 L421.7 2088.4 L473.5 2078.2 L530.0 2067.5 L555.9 2062.3 L581.8 2057.1 L607.6 2052.0 L633.5 2046.8 L659.4 2041.6 L685.3 2036.4 L711.2 2031.3 L737.0 2026.1 L762.9 2020.9 L788.8 2015.7 L814.7 2010.6 L840.6 2008.0 L866.4 2005.4 L892.3 2002.8 L918.2 2000.2 L944.1 1997.6 L970.0 1995.0 L995.8 1992.4 L1030.0 1987.3" stroke="#9dc3e6"/><path d="M59.3 2191.0 L68.7 2188.3 L82.8 2185.4 L101.7 2182.0 L125.2 2178.2 L153.4 2174.0 L186.4 2169.4 L224.0 2164.5 L266.4 2159.1 L313.5 2153.5 L365.3 2147.5 L421.7 2141.2 L473.5 2135.6 L530.0 2129.6 L555.9 2124.4 L581.8 2119.3 L607.6 2114.1 L633.5 2106.3 L659.4 2098.6 L685.3 2093.4 L711.2 2088.2 L737.0 2083.0 L762.9 2077.8 L788.8 2072.7 L814.7 2067.5 L840.6 2062.3 L866.4 2057.1 L892.3 2052.0 L918.2 2044.2 L944.1 2036.4 L970.0 2028.7 L995.8 2018.3 L1030.0 1997.6" stroke="#ffd966"/><path d="M59.3 2195.1 L68.7 2193.2 L82.8 2191.2 L101.7 2188.9 L125.2 2186.3 L153.4 2183.4 L186.4 2180.3 L224.0 2176.9 L266.4 2173.2 L313.5 2169.3 L365.3 2165.2 L421.7 2160.9 L473.5 2157.0 L530.0 2152.9 L555.9 2150.3 L581.8 2147.7 L607.6 2145.1 L633.5 2140.0 L646.5 2134.8 L659.4 2129.6 L672.3 2124.4 L685.3 2121.8 L711.2 2116.7 L737.0 2111.5 L762.9 2106.3 L770.7 2096.0 L788.8 2093.4 L799.2 2085.6 L814.7 2083.0 L825.0 2077.8 L835.4 2075.3 L850.9 2067.5 L866.4 2064.9 L892.3 2064.9 L918.2 2064.9 L931.1 2062.3 L944.1 2062.3 L970.0 2059.7 L995.8 2059.7 L1008.8 2052.0 L1030.0 2052.0" stroke="#c9c9c9"/><path d="M59.3 2196.3 L68.7 2194.4 L82.8 2192.3 L101.7 2190.0 L125.2 2187.3 L153.4 2184.3 L186.4 2181.1 L224.0 2177.6 L266.4 2173.8 L313.5 2169.8 L365.3 2165.5 L421.7 2161.1 L473.5 2157.1 L530.0 2152.9 L555.9 2150.3 L581.8 2147.7 L607.6 2145.1 L633.5 2142.5 L659.4 2137.4 L685.3 2132.2 L711.2 2127.0 L737.0 2121.8 L762.9 2116.7 L788.8 2108.9 L814.7 2101.1 L840.6 2090.8 L866.4 2080.4 L892.3 2072.7 L918.2 2067.5 L944.1 2062.3 L970.0 2057.1 L995.8 2044.2 L1030.0 2033.9" stroke="#a9d18e"/><path d="M59.3 2197.5 L68.7 2196.0 L82.8 2194.4 L101.7 2192.5 L125.2 2190.4 L153.4 2188.0 L186.4 2185.5 L224.0 2182.7 L266.4 2179.7 L313.5 2176.6 L365.3 2173.2 L421.7 2169.7 L473.5 2166.6 L530.0 2163.3 L555.9 2158.1 L581.8 2155.5 L607.6 2150.3 L633.5 2147.7 L659.4 2145.1 L685.3 2140.0 L711.2 2137.4 L737.0 2134.8 L762.9 2129.6 L788.8 2127.0 L814.7 2121.8 L840.6 2116.7 L866.4 2114.1 L892.3 2111.5 L918.2 2106.3 L944.1 2098.6 L970.0 2088.2 L995.8 2083.0 L1030.0 2077.8" stroke="#bdd7ee"/><path d="M59.3 2198.6 L68.7 2197.5 L82.8 2196.3 L101.7 2194.9 L125.2 2193.4 L153.4 2191.7 L186.4 2189.8 L224.0 2187.8 L266.4 2185.6 L313.5 2183.3 L365.3 2180.9 L421.7 2178.3 L473.5 2176.0 L530.0 2173.6 L581.8 2168.4 L633.5 2165.8 L685.3 2160.7 L737.0 2155.5 L788.8 2150.3 L840.6 2142.5 L892.3 2137.4 L944.1 2134.8 L995.8 2129.6 L1030.0 2124.4" stroke="#9dc3e6"/><path d="M59.3 2192.4 L68.7 2190.1 L82.8 2187.6 L101.7 2184.7 L125.2 2181.5 L153.4 2177.9 L186.4 2174.0 L224.0 2169.7 L266.4 2165.2 L313.5 2160.4 L365.3 2155.2 L421.7 2149.8 L473.5 2145.1 L530.0 2140.0 L581.8 2140.0 L633.5 2140.0 L685.3 2141.3 L737.0 2140.0 L788.8 2138.7 L840.6 2137.4 L892.3 2137.4 L944.1 2136.1 L995.8 2134.8 L1030.0 2134.8" stroke="#f4b183"/><path d="M59.3 2193.7 L68.7 2191.5 L82.8 2189.1 L101.7 2186.3 L125.2 2183.1 L153.4 2179.6 L186.4 2175.8 L224.0 2171.6 L266.4 2167.2 L313.5 2162.5 L365.3 2157.5 L421.7 2152.2 L473.5 2147.5 L530.0 2142.5 L581.8 2140.0 L633.5 2137.4 L685.3 2134.8 L737.0 2132.2 L788.8 2130.9 L840.6 2129.6 L892.3 2127.0 L944.1 2125.7 L995.8 2124.4 L1030.0 2121.8" stroke="#bf9000"/><path d="M59.3 2199.5 L68.7 2198.7 L82.8 2197.9 L101.7 2196.9 L125.2 2195.8 L153.4 2194.5 L186.4 2193.2 L224.0 2191.7 L266.4 2190.1 L313.5 2188.4 L365.3 2186.7 L421.7 2184.8 L473.5 2183.1 L530.0 2181.4 L581.8 2178.8 L633.5 2176.2 L685.3 2171.0 L711.2 2168.4 L737.0 2163.3 L788.8 2158.1 L799.2 2150.3 L866.4 2147.7 L871.6 2140.0 L918.2 2140.0 L944.1 2137.4 L995.8 2134.8 L1006.2 2127.0 L1030.0 2127.0" stroke="#ed7d31"/><path d="M59.3 2200.4 L68.7 2200.0 L82.8 2199.6 L101.7 2199.1 L125.2 2198.6 L153.4 2198.0 L186.4 2197.3 L224.0 2196.6 L266.4 2195.9 L313.5 2195.1 L365.3 2194.2 L421.7 2193.4 L473.5 2192.6 L530.0 2191.7 L581.8 2189.1 L633.5 2186.5 L685.3 2184.0 L737.0 2181.4 L788.8 2176.2 L840.6 2165.8 L892.3 2155.5 L944.1 2147.7 L995.8 2140.0 L1030.0 2134.8" stroke="#f4a06a"/><path d="M59.3 2202.2 L68.7 2202.2 L82.8 2202.1 L101.7 2202.0 L125.2 2201.9 L153.4 2201.8 L186.4 2201.7 L224.0 2201.6 L266.4 2201.5 L313.5 2201.3 L365.3 2201.2 L421.7 2201.1 L473.5 2200.9 L530.0 2200.8 L581.8 2199.5 L633.5 2191.7 L685.3 2186.5 L737.0 2181.4 L788.8 2173.6 L840.6 2165.8 L866.4 2160.7 L918.2 2158.1 L970.0 2155.5 L995.8 2150.3 L1030.0 2145.1" stroke="#ed7d31"/><path d="M757.7 2171.0 L762.9 2163.3 L788.8 2163.3 L801.7 2145.1 L814.7 2145.1 L830.2 2140.0 L830.2 2114.1 L840.6 2103.7 L853.5 2093.4 L861.3 2088.2 L866.4 2072.7 L876.8 2062.3 L892.3 2057.1" stroke="#4472c4"/><path d="M59.3 2175.0 L1970.5 2175.0" stroke="#f4a582"/><path d="M59.3 2202.6 L1970.5 2202.6" stroke="#a5a5a5"/><path d="M1000.0 894.0 L1025.9 891.4 L1038.8 888.8 L1064.7 883.6 L1103.5 878.5 L1142.3 870.7 L1168.2 861.6 L1191.5 850.0" stroke="#525252"/><path d="M1000.0 958.7 L1025.9 954.8 L1051.8 952.2 L1077.6 949.6 L1103.5 947.0 L1116.5 943.2 L1142.3 940.6 L1165.6 936.7 L1170.8 934.1 L1188.9 927.6 L1196.7 930.2 L1207.0 927.6 L1227.7 919.9 L1245.9 912.1 L1258.8 905.6 L1274.3 895.3 L1284.7 891.4 L1297.6 882.3 L1310.6 872.0 L1320.9 860.4 L1331.3 850.0" stroke="#1f4e79"/><path d="M1000.0 1174.8 L1015.5 1165.7 L1033.6 1159.3 L1051.8 1151.5 L1067.3 1146.3 L1085.4 1137.3 L1103.5 1129.5 L1116.5 1125.6 L1137.2 1115.3 L1160.5 1099.7 L1168.2 1097.2 L1181.2 1088.1 L1201.9 1076.4 L1209.6 1070.0 L1214.8 1069.5 L1227.7 1057.0 L1238.1 1051.9 L1253.6 1041.5 L1266.6 1031.2 L1274.3 1023.4 L1284.7 1007.9 L1297.6 994.9 L1305.4 984.6 L1315.7 971.6 L1326.1 956.1 L1336.4 945.8 L1346.8 926.3 L1352.0 925.1 L1359.7 918.6 L1364.9 909.5 L1372.7 901.8 L1377.8 886.2 L1383.0 883.6 L1393.4 868.1 L1403.7 850.0" stroke="#548235"/><path d="M1000.0 1258.9 L1025.9 1256.3 L1051.8 1251.1 L1077.6 1243.4 L1103.5 1235.6 L1129.4 1227.8 L1144.9 1222.7 L1155.3 1216.2 L1181.2 1204.6 L1196.7 1196.8 L1207.0 1186.4 L1217.4 1178.7 L1227.7 1173.5 L1232.9 1165.7 L1245.9 1145.0 L1258.8 1132.1 L1266.6 1119.2 L1274.3 1108.8 L1284.7 1088.1 L1297.6 1077.7 L1302.8 1072.6 L1310.6 1051.9 L1320.9 1038.9 L1331.3 1038.9 L1336.4 1026.0 L1346.8 1015.6 L1362.3 993.6 L1370.1 984.6 L1377.8 974.2 L1388.2 958.7 L1398.6 945.8 L1403.7 927.6 L1414.1 909.5 L1419.3 894.0 L1429.6 878.5 L1437.4 865.5 L1440.0 850.0" stroke="#a64d12"/><path d="M1000.0 1290.0 L1015.5 1279.6 L1025.9 1274.4 L1038.8 1269.3 L1051.8 1264.1 L1064.7 1258.9 L1077.6 1251.1 L1103.5 1244.7 L1129.4 1227.8 L1144.9 1222.7 L1165.6 1212.3 L1181.2 1199.4 L1196.7 1191.6 L1207.0 1183.9 L1217.4 1173.5 L1227.7 1170.9 L1245.9 1155.4 L1258.8 1145.0 L1271.7 1134.7 L1284.7 1119.2 L1297.6 1103.6 L1310.6 1088.1 L1323.5 1072.6 L1336.4 1051.9 L1349.4 1038.9 L1362.3 1031.2 L1377.8 1005.3 L1388.2 994.9 L1401.1 969.0 L1414.1 953.5 L1421.8 938.0 L1434.8 927.6 L1452.9 901.8 L1460.7 899.2 L1465.8 881.1 L1476.2 865.5 L1484.0 850.0" stroke="#808080"/><path d="M1098.3 1350.0 L1108.7 1341.7 L1124.2 1334.0 L1134.6 1323.6 L1142.3 1315.8 L1155.3 1308.1 L1165.6 1300.3 L1181.2 1284.8 L1201.9 1266.7 L1207.0 1253.7 L1220.0 1243.4 L1227.7 1235.6 L1245.9 1220.1 L1258.8 1207.1 L1264.0 1196.8 L1271.7 1186.4 L1279.5 1173.5 L1287.3 1155.4 L1292.4 1139.9 L1300.2 1119.2 L1310.6 1101.0 L1320.9 1082.9 L1331.3 1077.7 L1336.4 1057.0 L1344.2 1041.5 L1357.1 1041.5 L1362.3 1031.2 L1370.1 1013.0 L1380.4 1000.1 L1393.4 989.8 L1401.1 971.6 L1406.3 953.5 L1414.1 938.0 L1421.8 919.9 L1427.0 901.8 L1434.8 886.2 L1440.0 875.9 L1445.1 850.0" stroke="#c0c0c0"/><path d="M1142.3 1350.0 L1155.3 1343.0 L1165.6 1334.0 L1176.0 1326.2 L1186.3 1321.0 L1194.1 1321.0 L1199.3 1310.7 L1207.0 1300.3 L1217.4 1290.0 L1225.2 1282.2 L1230.3 1264.1 L1235.5 1256.3 L1245.9 1246.0 L1253.6 1235.6 L1261.4 1233.0 L1266.6 1212.3 L1269.2 1202.0 L1271.7 1191.6 L1279.5 1178.7 L1287.3 1163.1 L1295.0 1170.9 L1297.6 1155.4 L1302.8 1134.7 L1305.4 1108.8 L1310.6 1095.9 L1315.7 1082.9 L1320.9 1072.6 L1326.1 1067.4 L1331.3 1067.4 L1333.9 1051.9 L1341.6 1036.3 L1349.4 1031.2 L1362.3 1031.2 L1364.9 1013.0 L1372.7 985.9 L1396.0 984.6 L1398.6 958.7 L1401.1 940.6 L1408.9 927.6 L1419.3 901.8 L1427.0 888.8 L1434.8 875.9 L1440.0 850.0" stroke="#c55a11"/><path d="M1243.3 1350.0 L1248.4 1323.6 L1256.2 1290.0 L1261.4 1261.5 L1271.7 1261.5 L1276.9 1233.0 L1284.7 1199.4 L1289.9 1178.7 L1295.0 1155.4 L1297.6 1142.4 L1305.4 1134.7 L1308.0 1121.7 L1310.6 1103.6 L1315.7 1093.3 L1320.9 1077.7 L1326.1 1046.7 L1331.3 1033.7 L1336.4 1033.7 L1341.6 1018.2 L1346.8 994.9 L1352.0 989.8 L1357.1 979.4 L1362.3 976.8 L1372.7 976.8 L1377.8 958.7 L1383.0 943.2 L1388.2 932.8 L1396.0 925.1 L1403.7 914.7 L1414.1 896.6 L1419.3 881.1 L1424.4 865.5 L1434.8 857.8 L1440.0 850.0" stroke="#bf9000"/><path d="M1207.0 1350.0 L1220.0 1331.4 L1227.7 1321.0 L1232.9 1295.1 L1238.1 1277.0 L1243.3 1264.1 L1253.6 1238.2 L1261.4 1227.8 L1266.6 1207.1 L1269.2 1186.4 L1274.3 1173.5 L1279.5 1139.9 L1284.7 1114.0 L1287.3 1095.9 L1289.9 1090.7 L1297.6 1077.7 L1305.4 1062.2 L1313.1 1046.7 L1318.3 1020.8 L1326.1 1015.6 L1336.4 1007.9 L1344.2 997.5 L1349.4 987.2 L1357.1 984.6 L1362.3 974.2 L1372.7 969.0 L1383.0 958.7 L1388.2 950.9 L1393.4 940.6 L1398.6 932.8 L1403.7 919.9 L1411.5 917.3 L1419.3 901.8 L1434.8 897.9 L1445.1 896.6 L1455.5 886.2 L1465.8 870.7 L1481.4 865.5 L1486.5 850.0" stroke="#8faadc"/><path d="M1484.1 950.0 L1486.5 935.4 L1494.3 925.1 L1500.0 919.9" stroke="#ffc000"/><path d="M1274.3 1350.0 L1284.7 1331.4 L1297.6 1313.3 L1310.6 1295.1 L1323.5 1277.0 L1336.4 1261.5 L1349.4 1240.8 L1362.3 1222.7 L1372.7 1207.1 L1383.0 1191.6 L1388.2 1176.1 L1396.0 1160.6 L1403.7 1139.9 L1414.1 1121.7 L1419.3 1108.8 L1420.0 1106.8" stroke="#ffc820"/><path d="M1336.4 1350.0 L1349.4 1334.0 L1367.5 1331.4 L1375.3 1310.7 L1383.0 1300.3 L1388.2 1290.0 L1396.0 1277.0 L1403.7 1258.9 L1414.1 1251.1 L1420.0 1241.3" stroke="#a9d18e"/><path d="M1388.2 1341.7 L1396.0 1305.5 L1401.1 1290.0 L1408.9 1269.3 L1419.3 1248.6 L1420.0 1246.1" stroke="#5b9bd5"/><path d="M1339.0 1350.0 L1346.8 1336.5 L1354.6 1328.8 L1362.3 1328.8 L1367.5 1315.8 L1375.3 1308.1 L1383.0 1300.3 L1388.2 1290.0 L1398.6 1282.2 L1406.3 1264.1 L1414.1 1238.2 L1420.0 1228.3" stroke="#8faadc"/><path d="M1375.3 1350.0 L1383.0 1334.0 L1396.0 1326.2 L1403.7 1305.5 L1414.1 1274.4 L1420.0 1265.0" stroke="#7f6000"/><path d="M1388.2 1261.5 L1398.6 1253.7 L1414.1 1225.3 L1420.0 1223.8" stroke="#a9d18e"/><path d="M1414.1 1290.0 L1420.0 1284.0" stroke="#70ad47"/><path d="M1367.5 1350.0 L1388.2 1341.7 L1403.7 1336.5 L1414.1 1331.4 L1420.0 1329.0" stroke="#997300"/><path d="M1000.0 1287.5 L1020.7 1278.5 L1038.8 1270.7 L1064.7 1260.4 L1088.0 1250.0" stroke="#808080"/><path d="M1000.0 1415.6 L1012.9 1405.3 L1031.1 1397.5 L1046.6 1384.6 L1064.7 1374.2 L1077.6 1366.5 L1095.8 1353.5 L1103.5 1343.2 L1116.5 1335.4 L1129.4 1327.6 L1142.3 1314.7 L1155.3 1306.9 L1168.2 1299.2 L1181.2 1281.1 L1199.3 1270.7 L1207.0 1257.8 L1214.8 1250.0" stroke="#c0c0c0"/><path d="M1000.0 1426.0 L1010.4 1418.2 L1025.9 1413.0 L1038.8 1405.3 L1051.8 1397.5 L1064.7 1392.3 L1077.6 1384.6 L1090.6 1380.7 L1100.0 1376.0" stroke="#c55a11"/><path d="M1148.2 1350.0 L1155.3 1345.8 L1163.0 1343.2 L1170.8 1330.2 L1181.2 1322.5 L1191.5 1317.3 L1196.7 1314.7 L1201.9 1299.2 L1209.6 1288.8 L1220.0 1282.3 L1227.7 1281.1 L1232.9 1265.5 L1240.7 1257.8 L1248.4 1250.0" stroke="#c55a11"/><path d="M1000.0 1508.8 L1025.9 1506.2 L1051.8 1504.9 L1077.6 1501.0 L1100.0 1498.8" stroke="#997300"/><path d="M1390.5 1350.0 L1401.1 1345.8 L1414.1 1332.8 L1420.0 1329.3" stroke="#997300"/><path d="M1139.8 1750.0 L1150.1 1715.8 L1155.3 1690.0 L1160.5 1658.9 L1170.8 1656.3 L1171.6 1650.0" stroke="#bf9000"/><path d="M1244.3 1350.0 L1248.4 1327.6 L1256.2 1283.6 L1261.4 1262.9 L1271.7 1260.4 L1274.3 1250.0" stroke="#bf9000"/><path d="M1072.5 1750.0 L1082.8 1710.7 L1093.2 1684.8 L1103.5 1651.1 L1103.8 1650.0" stroke="#8faadc"/><path d="M1211.5 1350.0 L1214.8 1348.3 L1220.0 1335.4 L1225.2 1322.5 L1232.9 1309.5 L1243.3 1275.9 L1248.4 1260.4 L1256.2 1250.0" stroke="#8faadc"/><path d="M1000.0 1596.8 L1025.9 1591.6 L1051.8 1586.4 L1077.6 1581.3 L1093.2 1576.1 L1100.0 1574.4" stroke="#ffc000"/><path d="M1273.5 1350.0 L1279.5 1338.0 L1289.9 1317.3 L1300.2 1296.6 L1310.6 1275.9 L1318.3 1260.4 L1323.5 1250.0" stroke="#ffc820"/><path d="M1000.0 1661.5 L1025.9 1653.7 L1051.8 1643.4 L1077.6 1633.0 L1100.0 1621.8" stroke="#ffc000"/><path d="M1000.0 1674.4 L1025.9 1666.7 L1051.8 1658.9 L1077.6 1646.0 L1100.0 1632.5" stroke="#7f7f7f"/><path d="M1400.0 1404.5 L1401.1 1402.7 L1414.1 1394.9 L1427.0 1374.2 L1440.0 1353.5 L1442.9 1350.0" stroke="#7f7f7f"/><path d="M1000.0 1679.6 L1025.9 1669.3 L1051.8 1664.1 L1077.6 1651.1 L1098.3 1646.0 L1100.0 1632.7" stroke="#467a2c"/><path d="M1400.0 1417.5 L1401.1 1415.6 L1414.1 1400.1 L1427.0 1384.6 L1440.0 1374.2 L1452.9 1356.1 L1458.0 1350.0" stroke="#467a2c"/><path d="M1000.0 1661.5 L1025.9 1653.7 L1051.8 1640.8 L1077.6 1627.8 L1100.0 1614.4" stroke="#2f5597"/><path d="M1400.0 1438.7 L1414.1 1426.0 L1440.0 1397.5 L1452.9 1371.6 L1459.3 1350.0" stroke="#2f5597"/><path d="M1000.0 1705.5 L1025.9 1700.3 L1051.8 1690.0 L1077.6 1679.6 L1090.6 1669.3 L1103.5 1664.1 L1129.4 1656.3 L1155.3 1651.1 L1158.7 1650.0" stroke="#595959"/><path d="M1400.0 1580.5 L1414.1 1573.5 L1440.0 1547.6 L1465.8 1508.8" stroke="#595959"/><path d="M1000.0 1721.0 L1025.9 1715.8 L1051.8 1710.7 L1077.6 1705.5 L1103.5 1700.3 L1129.4 1695.1 L1155.3 1687.4 L1181.2 1669.3 L1207.0 1653.7 L1214.5 1650.0" stroke="#2e75b6"/><path d="M1400.0 1539.4 L1414.1 1529.5 L1440.0 1514.0 L1465.8 1495.9 L1500.0 1477.7" stroke="#2e75b6"/><path d="M1000.0 1726.2 L1025.9 1721.0 L1051.8 1715.8 L1077.6 1710.7 L1103.5 1705.5 L1129.4 1700.3 L1155.3 1695.1 L1181.2 1687.4 L1207.0 1671.8 L1232.9 1658.9 L1241.8 1650.0" stroke="#a9d18e"/><path d="M1359.5 1350.0 L1362.3 1343.2 L1375.3 1309.5 L1388.2 1286.2 L1401.1 1260.4 L1406.3 1250.0" stroke="#a9d18e"/><path d="M1031.1 1750.0 L1051.8 1741.7 L1077.6 1734.0 L1103.5 1726.2 L1129.4 1715.8 L1155.3 1702.9 L1181.2 1690.0 L1207.0 1677.0 L1232.9 1664.1 L1258.8 1653.7 L1265.0 1650.0" stroke="#375623"/><path d="M1400.0 1571.6 L1414.1 1563.1 L1440.0 1547.6 L1465.8 1529.5 L1491.7 1511.4 L1500.0 1506.2" stroke="#375623"/><path d="M1181.2 1750.0 L1194.1 1728.8 L1207.0 1705.5 L1220.0 1684.8 L1232.9 1664.1 L1238.8 1650.0" stroke="#7f6000"/><path d="M1379.3 1350.0 L1380.4 1348.3 L1388.2 1335.4 L1398.6 1317.3 L1406.3 1294.0 L1411.5 1270.7 L1414.1 1250.0" stroke="#7f6000"/><path d="M1336.4 1750.0 L1362.3 1690.0 L1375.6 1650.0" stroke="#203864"/><path d="M1400.0 1565.1 L1414.1 1508.8 L1440.0 1405.3 L1452.9 1353.5 L1453.6 1350.0" stroke="#203864"/><path d="M1349.4 1750.0 L1375.3 1690.0 L1387.7 1650.0" stroke="#2f5597"/><path d="M1400.0 1610.8 L1401.1 1607.1 L1419.3 1534.7 L1434.8 1457.0 L1450.3 1392.3 L1460.5 1350.0" stroke="#2f5597"/><path d="M1323.5 1750.0 L1349.4 1702.9 L1370.5 1650.0" stroke="#4472c4"/><path d="M1400.0 1564.0 L1401.1 1560.6 L1427.0 1470.0 L1445.1 1405.3 L1460.7 1353.5" stroke="#4472c4"/><path d="M1313.1 1750.0 L1320.9 1749.5 L1328.7 1715.8 L1339.0 1715.8 L1339.0 1695.1 L1354.6 1695.1 L1359.7 1674.4 L1370.1 1674.4 L1375.3 1658.9 L1385.6 1653.7 L1385.6 1650.0" stroke="#ed7d31"/><path d="M1400.0 1630.4 L1401.1 1630.4 L1403.7 1604.6 L1411.5 1599.4 L1414.1 1565.7 L1434.8 1565.7 L1440.0 1521.7 L1458.1 1521.7 L1468.4 1521.7 L1473.6 1485.5 L1486.5 1485.5 L1486.5 1459.6 L1500.0 1459.6" stroke="#ed7d31"/><path d="M1400.0 1563.8 L1403.7 1563.1 L1414.1 1508.8 L1437.4 1508.8 L1445.1 1524.3 L1455.5 1501.0 L1465.8 1498.4 L1478.8 1482.9 L1491.7 1477.7 L1500.0 1477.7" stroke="#a9d18e"/><path d="M1284.7 1750.0 L1310.6 1736.5 L1336.4 1713.3 L1362.3 1690.0 L1388.2 1651.1 L1389.1 1650.0" stroke="#c0c0c0"/><path d="M1400.0 1637.0 L1414.1 1620.1 L1440.0 1586.4 L1465.8 1555.4 L1491.7 1534.7 L1500.0 1519.2" stroke="#c0c0c0"/><path d="M1212.2 1750.0 L1232.9 1715.8 L1258.8 1677.0 L1276.8 1650.0" stroke="#f4b183"/><path d="M1400.0 1484.1 L1414.1 1470.0 L1440.0 1444.1 L1465.8 1418.2 L1491.7 1405.3 L1500.0 1400.1" stroke="#f4b183"/><path d="M1414.1 1750.0 L1440.0 1731.4 L1465.8 1710.7 L1491.7 1684.8 L1500.0 1677.0" stroke="#c55a11"/><path d="M1427.0 1750.0 L1452.9 1721.0 L1478.8 1695.1 L1500.0 1666.7" stroke="#ffd966"/><path d="M1258.8 1690.0 L1271.7 1695.1 L1284.7 1674.4 L1310.6 1661.5 L1336.4 1653.7 L1362.3 1653.7 L1368.5 1650.0" stroke="#4472c4"/><path d="M1400.0 1638.2 L1414.1 1638.2 L1440.0 1638.2 L1465.8 1622.7 L1500.0 1622.7" stroke="#4472c4"/><path d="M1362.3 1750.0 L1388.2 1728.8 L1414.1 1690.0 L1440.0 1638.2 L1465.8 1586.4 L1491.7 1547.6 L1500.0 1534.7" stroke="#70ad47"/><path d="M1388.2 1750.0 L1414.1 1715.8 L1440.0 1677.0 L1465.8 1638.2 L1491.7 1607.1 L1500.0 1599.4" stroke="#375623"/><path d="M1000.0 2028.7 L1025.9 2023.5 L1051.8 2015.7 L1077.6 2010.6 L1103.5 2002.8 L1129.4 1992.4 L1155.3 1982.1 L1181.2 1969.2 L1207.0 1956.2 L1232.9 1943.3 L1258.8 1927.7 L1271.7 1920.0 L1284.7 1909.6 L1310.6 1899.3 L1336.4 1886.3 L1362.3 1865.6 L1388.2 1850.1 L1414.1 1832.0 L1440.0 1819.0 L1465.8 1803.5 L1478.8 1803.5 L1491.7 1790.6 L1500.0 1785.4" stroke="#2f5597"/><path d="M1000.0 2057.1 L1025.9 2036.4 L1051.8 2028.7 L1077.6 2018.3 L1103.5 2008.0 L1129.4 1997.6 L1155.3 1984.7 L1181.2 1971.7 L1207.0 1958.8 L1232.9 1945.9 L1258.8 1927.7 L1284.7 1907.0 L1310.6 1896.7 L1336.4 1886.3 L1362.3 1876.0 L1388.2 1857.9 L1414.1 1844.9 L1440.0 1829.4 L1465.8 1813.9 L1491.7 1795.8 L1500.0 1793.2" stroke="#bdd7ee"/><path d="M1000.0 2080.4 L1025.9 2075.3 L1051.8 2070.1 L1077.6 2062.3 L1103.5 2054.6 L1129.4 2044.2 L1155.3 2033.9 L1181.2 2023.5 L1207.0 2010.6 L1232.9 2000.2 L1258.8 1987.3 L1284.7 1971.7 L1310.6 1956.2 L1336.4 1943.3 L1362.3 1932.9 L1388.2 1914.8 L1414.1 1907.0 L1440.0 1886.3 L1465.8 1873.4 L1491.7 1852.7 L1500.0 1844.9" stroke="#9ab4e0"/><path d="M1000.0 2096.0 L1025.9 2090.8 L1051.8 2088.2 L1077.6 2083.0 L1103.5 2077.8 L1129.4 2072.7 L1155.3 2067.5 L1181.2 2062.3 L1207.0 2049.4 L1232.9 2041.6 L1258.8 2031.3 L1284.7 2010.6 L1310.6 1995.0 L1336.4 1979.5 L1362.3 1964.0 L1388.2 1948.4 L1414.1 1932.9 L1440.0 1917.4 L1465.8 1891.5 L1491.7 1876.0 L1500.0 1868.2" stroke="#9dc3e6"/><path d="M1000.0 2059.7 L1007.8 2052.0 L1098.3 2052.0 L1108.7 2039.0 L1403.7 2039.0 L1408.9 2031.3 L1500.0 2031.3" stroke="#c9c9c9"/><path d="M1000.0 2129.6 L1031.1 2127.0 L1041.4 2114.1 L1062.1 2114.1 L1067.3 2101.1 L1077.6 2101.1 L1093.2 2088.2 L1098.3 2075.3 L1106.1 2067.5 L1108.7 2057.1 L1129.4 2052.0 L1134.6 2036.4 L1150.1 2036.4 L1155.3 2015.7 L1165.6 2013.1 L1170.8 2000.2 L1178.6 1974.3 L1194.1 1974.3 L1199.3 1940.7 L1207.0 1922.6 L1232.9 1922.6 L1235.5 1912.2 L1243.3 1899.3 L1245.9 1868.2 L1258.8 1868.2 L1261.4 1855.3 L1271.7 1819.0 L1279.5 1813.9 L1284.7 1785.4 L1300.2 1782.8 L1310.6 1772.5 L1313.1 1746.6 L1333.9 1746.6 L1339.0 1715.5 L1364.9 1715.5 L1364.9 1700.0" stroke="#ed7d31"/><path d="M1129.4 2124.4 L1134.6 2114.1 L1155.3 2108.9 L1207.0 2103.7 L1232.9 2098.6 L1253.6 2059.7 L1258.8 2057.1 L1271.7 2054.6 L1284.7 2041.6 L1289.9 2023.5 L1310.6 2020.9 L1336.4 2015.7 L1341.6 2005.4 L1362.3 2000.2 L1388.2 1989.9 L1393.4 1984.7 L1414.1 1979.5 L1440.0 1974.3 L1476.2 1969.2 L1481.4 1945.9 L1491.7 1943.3 L1500.0 1939.4" stroke="#ed7d31"/><path d="M1000.0 2124.4 L1051.8 2124.4 L1103.5 2121.8 L1129.4 2120.5 L1155.3 2116.7 L1181.2 2108.9 L1207.0 2103.7 L1232.9 2096.0 L1240.7 2077.8 L1258.8 2075.3 L1284.7 2067.5 L1310.6 2059.7 L1323.5 2044.2 L1336.4 2041.6 L1349.4 2028.7 L1362.3 2023.5 L1388.2 2013.1 L1408.9 2000.2 L1414.1 1995.0 L1419.3 1969.2 L1440.0 1958.8 L1452.9 1948.4 L1460.7 1930.3 L1478.8 1914.8 L1491.7 1904.5 L1500.0 1901.9" stroke="#bf9000"/><path d="M1000.0 2108.9 L1025.9 2103.7 L1051.8 2096.0 L1077.6 2090.8 L1129.4 2088.2 L1181.2 2088.2 L1207.0 2083.0 L1232.9 2080.4 L1258.8 2072.7 L1284.7 2067.5 L1310.6 2059.7 L1336.4 2057.1 L1362.3 2055.8 L1388.2 2054.6 L1414.1 2052.0 L1440.0 2044.2 L1465.8 2036.4 L1491.7 2031.3 L1500.0 2028.7" stroke="#f4a06a"/><path d="M1000.0 2137.4 L1051.8 2134.8 L1103.5 2134.8 L1170.8 2134.8 L1181.2 2132.2 L1207.0 2127.0 L1232.9 2119.3 L1258.8 2108.9 L1284.7 2101.1 L1310.6 2088.2 L1336.4 2072.7 L1362.3 2059.7 L1388.2 2049.4 L1414.1 2033.9 L1440.0 2023.5 L1465.8 2013.1 L1491.7 2005.4 L1500.0 2004.1" stroke="#f8c5a0"/><path d="M1000.0 2142.5 L1025.9 2137.4 L1051.8 2134.8 L1072.5 2132.2 L1077.6 2124.4 L1129.4 2124.4" stroke="#ed7d31"/><path d="M1000.0 1762.1 L1025.9 1754.3 L1051.8 1746.6 L1077.6 1738.8 L1103.5 1725.9 L1129.4 1715.5 L1142.3 1700.0" stroke="#467a2c"/><path d="M1000.0 1780.2 L1025.9 1769.9 L1051.8 1759.5 L1077.6 1749.2 L1103.5 1741.4 L1129.4 1731.1 L1155.3 1720.7 L1181.2 1710.4 L1201.9 1700.0" stroke="#9dc3e6"/><path d="M1000.0 1795.8 L1025.9 1788.0 L1051.8 1782.8 L1077.6 1777.6 L1103.5 1767.3 L1129.4 1756.9 L1155.3 1746.6 L1181.2 1733.6 L1207.0 1720.7 L1232.9 1710.4 L1258.8 1700.0" stroke="#203864"/><path d="M1000.0 1803.5 L1012.9 1790.6 L1025.9 1777.6 L1038.8 1769.9 L1051.8 1767.3 L1077.6 1756.9 L1090.6 1751.8 L1116.5 1738.8 L1142.3 1725.9 L1168.2 1710.4 L1181.2 1700.0" stroke="#4472c4"/><path d="M1000.0 1850.1 L1025.9 1839.8 L1051.8 1819.0 L1077.6 1808.7 L1103.5 1788.0 L1129.4 1775.1 L1155.3 1746.6 L1181.2 1725.9 L1207.0 1705.2 L1212.2 1700.0" stroke="#a9d18e"/><path d="M1000.0 1896.7 L1025.9 1886.3 L1051.8 1876.0 L1077.6 1857.9 L1103.5 1839.8 L1129.4 1819.0 L1155.3 1798.3 L1181.2 1777.6 L1207.0 1751.8 L1232.9 1725.9 L1248.4 1700.0" stroke="#2e75b6"/><path d="M1000.0 1876.0 L1025.9 1870.8 L1051.8 1865.6 L1077.6 1855.3 L1103.5 1839.8 L1116.5 1821.6 L1124.2 1790.6 L1129.4 1751.8 L1139.8 1723.3 L1152.7 1700.0" stroke="#997300"/><path d="M1000.0 1883.7 L1025.9 1878.6 L1051.8 1873.4 L1077.6 1868.2 L1103.5 1860.5 L1129.4 1850.1 L1155.3 1839.8 L1181.2 1824.2 L1207.0 1808.7 L1232.9 1798.3 L1258.8 1785.4 L1284.7 1751.8 L1310.6 1712.9 L1318.3 1700.0" stroke="#c0c0c0"/><path d="M1000.0 1907.0 L1025.9 1901.9 L1051.8 1891.5 L1077.6 1886.3 L1103.5 1881.2 L1129.4 1876.0 L1155.3 1870.8 L1181.2 1863.0 L1207.0 1855.3 L1232.9 1847.5 L1258.8 1837.2 L1284.7 1819.0 L1310.6 1798.3 L1336.4 1782.8 L1362.3 1767.3 L1388.2 1751.8 L1414.1 1736.2 L1440.0 1720.7 L1465.8 1707.8 L1478.8 1700.0" stroke="#ffd966"/><path d="M1000.0 1927.7 L1025.9 1920.0 L1051.8 1912.2 L1077.6 1901.9 L1103.5 1891.5 L1129.4 1881.2 L1155.3 1870.8 L1181.2 1863.0 L1207.0 1850.1 L1232.9 1834.6 L1258.8 1816.5 L1284.7 1793.2 L1310.6 1772.5 L1336.4 1756.9 L1362.3 1744.0 L1388.2 1728.5 L1414.1 1712.9 L1427.0 1700.0" stroke="#375623"/><path d="M1000.0 1956.2 L1020.7 1951.0 L1038.8 1920.0 L1051.8 1901.9 L1064.7 1886.3 L1077.6 1860.5 L1090.6 1829.4 L1103.5 1803.5 L1111.3 1775.1 L1119.0 1751.8 L1129.4 1746.6 L1139.8 1723.3 L1150.1 1720.7 L1155.3 1700.0" stroke="#bf9000"/><path d="M1000.0 1956.2 L1025.9 1948.4 L1051.8 1945.9 L1077.6 1940.7 L1103.5 1938.1 L1129.4 1932.9 L1155.3 1927.7 L1181.2 1925.2 L1207.0 1922.6 L1232.9 1917.4 L1258.8 1901.9 L1284.7 1886.3 L1310.6 1870.8 L1336.4 1852.7 L1349.4 1834.6 L1362.3 1821.6 L1375.3 1798.3 L1388.2 1785.4 L1401.1 1777.6 L1414.1 1751.8 L1427.0 1736.2 L1440.0 1725.9 L1452.9 1705.2 L1460.7 1700.0" stroke="#843c0c"/><path d="M1000.0 1958.8 L1051.8 1948.4 L1103.5 1938.1 L1155.3 1922.6 L1207.0 1904.5 L1258.8 1868.2 L1284.7 1844.9 L1310.6 1824.2 L1336.4 1800.9 L1362.3 1780.2 L1388.2 1759.5 L1414.1 1733.6 L1440.0 1715.5 L1452.9 1700.0" stroke="#c55a11"/><path d="M1000.0 1997.6 L1025.9 1984.7 L1051.8 1958.8 L1077.6 1938.1 L1103.5 1914.8 L1129.4 1886.3 L1155.3 1860.5 L1181.2 1829.4 L1207.0 1803.5 L1232.9 1769.9 L1245.9 1746.6 L1258.8 1731.1 L1271.7 1720.7 L1284.7 1700.0" stroke="#4472c4"/><path d="M1000.0 1989.9 L1025.9 1974.3 L1051.8 1956.2 L1077.6 1940.7 L1103.5 1927.7 L1129.4 1920.0 L1155.3 1904.5 L1181.2 1886.3 L1207.0 1860.5 L1232.9 1842.3 L1258.8 1808.7 L1284.7 1777.6 L1310.6 1746.6 L1336.4 1715.5 L1349.4 1700.0" stroke="#2f5597"/><path d="M1000.0 2000.2 L1025.9 1992.4 L1051.8 1984.7 L1077.6 1974.3 L1103.5 1966.6 L1129.4 1956.2 L1155.3 1938.1 L1181.2 1914.8 L1207.0 1886.3 L1232.9 1829.4 L1245.9 1782.8 L1258.8 1751.8 L1271.7 1731.1 L1284.7 1725.9 L1297.6 1710.4 L1310.6 1700.0" stroke="#a9d18e"/><path d="M1000.0 1987.3 L1051.8 1974.3 L1103.5 1966.6 L1155.3 1958.8 L1207.0 1943.3 L1232.9 1930.3 L1258.8 1912.2 L1284.7 1907.0 L1310.6 1896.7 L1336.4 1881.2 L1362.3 1855.3 L1388.2 1829.4" stroke="#9dc3e6"/><path d="M1000.0 1976.9 L1025.9 1969.2 L1051.8 1961.4 L1077.6 1953.6 L1103.5 1945.9 L1129.4 1932.9 L1155.3 1922.6 L1181.2 1909.6 L1207.0 1896.7 L1232.9 1881.2 L1258.8 1860.5 L1284.7 1829.4 L1310.6 1808.7 L1336.4 1788.0 L1362.3 1777.6 L1388.2 1762.1 L1414.1 1744.0 L1440.0 1725.9 L1465.8 1700.0" stroke="#ffd966"/><path d="M1971.7 875.9 L1945.8 879.8 L1920.0 882.3 L1901.8 891.4 L1868.2 896.6 L1842.3 901.8 L1837.1 906.9 L1816.4 908.2 L1790.6 918.6 L1764.7 928.9 L1738.8 935.4 L1712.9 940.6 L1687.0 948.3 L1661.2 958.7 L1650.0 963.2" stroke="#2e75b6"/><path d="M1971.7 880.5 L1958.8 886.2 L1932.9 890.1 L1920.0 896.6 L1894.1 905.6 L1868.2 912.1 L1847.5 919.9 L1842.3 926.3 L1816.4 931.5 L1790.6 938.0 L1764.7 948.3 L1738.8 958.7 L1712.9 974.2 L1700.0 984.6 L1674.1 1000.1 L1661.2 1002.7 L1650.0 1009.4" stroke="#203864"/><path d="M1971.7 899.2 L1945.8 909.5 L1920.0 916.0 L1894.1 922.5 L1868.2 927.6 L1842.3 935.4 L1816.4 953.5 L1790.6 961.3 L1764.7 974.2 L1751.7 984.6 L1733.6 1000.1 L1712.9 1018.2 L1700.0 1026.0 L1687.0 1036.3 L1674.1 1054.5 L1661.2 1067.4 L1650.0 1080.8" stroke="#548235"/><path d="M1971.7 914.7 L1958.8 922.5 L1945.8 927.6 L1920.0 930.2 L1894.1 932.8 L1881.1 932.8 L1881.1 938.0 L1854.0 938.0 L1852.7 1031.2 L1850.1 1160.6 L1847.5 1261.5 L1816.4 1261.5 L1808.7 1282.2 L1780.2 1282.2 L1777.6 1290.0 L1746.6 1290.0 L1741.4 1284.8 L1712.9 1287.4 L1707.7 1315.8 L1679.3 1315.8 L1661.2 1318.4 L1650.0 1322.9" stroke="#ffd966"/><path d="M1971.7 925.1 L1894.1 932.8 L1842.3 934.1 L1816.4 945.8 L1764.7 954.8 L1712.9 963.9 L1679.3 971.6 L1676.7 984.6 L1650.0 989.4" stroke="#2f5597"/><path d="M1971.7 969.0 L1945.8 974.2 L1920.0 982.0 L1899.3 985.9 L1881.1 994.9 L1868.2 1002.7 L1847.5 1011.7 L1829.4 1015.6 L1816.4 1018.2 L1803.5 1023.4 L1790.6 1028.6 L1777.6 1031.2 L1764.7 1036.3 L1751.7 1051.9 L1738.8 1054.5 L1725.9 1062.2 L1712.9 1072.6 L1700.0 1080.3 L1687.0 1090.7 L1674.1 1098.4 L1661.2 1108.8 L1650.0 1122.2" stroke="#7f7f7f"/><path d="M1971.7 972.9 L1945.8 976.8 L1920.0 987.2 L1894.1 994.9 L1868.2 1002.7 L1842.3 1013.0 L1829.4 1015.6 L1803.5 1018.2 L1790.6 1026.0 L1777.6 1031.2 L1759.5 1033.7 L1751.7 1049.3 L1738.8 1057.0 L1725.9 1064.8 L1712.9 1075.2 L1687.0 1098.4 L1674.1 1098.4 L1661.2 1108.8 L1650.0 1122.2" stroke="#c0c0c0"/><path d="M1971.7 974.2 L1945.8 982.0 L1920.0 992.3 L1894.1 1002.7 L1868.2 1010.5 L1842.3 1020.8 L1816.4 1028.6 L1790.6 1046.7 L1764.7 1054.5 L1738.8 1064.8 L1712.9 1077.7 L1687.0 1093.3 L1661.2 1111.4 L1650.0 1120.3" stroke="#2f5597"/><path d="M1971.7 997.5 L1945.8 1005.3 L1920.0 1010.5 L1894.1 1013.0 L1868.2 1023.4 L1842.3 1031.2 L1816.4 1041.5 L1790.6 1051.9 L1764.7 1059.6 L1738.8 1067.4 L1712.9 1072.6 L1687.0 1082.9 L1661.2 1098.4 L1650.0 1106.3" stroke="#997300"/><path d="M1971.7 1026.0 L1945.8 1033.7 L1920.0 1038.9 L1894.1 1044.1 L1868.2 1054.5 L1842.3 1062.2 L1816.4 1070.0 L1790.6 1085.5 L1764.7 1098.4 L1751.7 1119.2 L1738.8 1124.3 L1725.9 1139.9 L1712.9 1160.6 L1700.0 1170.9 L1687.0 1181.3 L1674.1 1196.8 L1661.2 1212.3 L1650.0 1223.5" stroke="#70ad47"/><path d="M1971.7 1057.0 L1945.8 1057.0 L1920.0 1059.6 L1899.3 1064.8 L1894.1 1077.7 L1868.2 1079.0 L1842.3 1080.3 L1816.4 1093.3 L1790.6 1095.9 L1764.7 1106.2 L1759.5 1106.2 L1754.3 1114.0 L1738.8 1114.0 L1712.9 1116.6 L1707.7 1132.1 L1687.0 1134.7 L1676.7 1142.4 L1676.7 1158.0 L1661.2 1163.1 L1650.0 1167.6" stroke="#ffd966"/><path d="M1971.7 1077.7 L1948.4 1085.5 L1943.3 1023.4 L1932.9 1020.8 L1920.0 1028.6 L1894.1 1038.9 L1868.2 1051.9 L1842.3 1062.2 L1816.4 1072.6 L1790.6 1082.9 L1764.7 1098.4 L1751.7 1119.2 L1738.8 1134.7 L1728.4 1147.6 L1723.3 1222.7 L1712.9 1227.8 L1687.0 1235.6 L1661.2 1240.8 L1650.0 1245.3" stroke="#a9d18e"/><path d="M1971.7 1112.7 L1945.8 1116.6 L1920.0 1124.3 L1894.1 1132.1 L1883.7 1142.4 L1857.8 1150.2 L1847.5 1191.6 L1821.6 1204.6 L1790.6 1207.1 L1764.7 1220.1 L1738.8 1233.0 L1712.9 1240.8 L1687.0 1243.4 L1676.7 1251.1 L1650.0 1256.1" stroke="#9dc3e6"/><path d="M1971.7 1116.6 L1945.8 1121.7 L1930.3 1129.5 L1920.0 1134.7 L1894.1 1142.4 L1868.2 1155.4 L1855.3 1163.1 L1842.3 1170.9 L1816.4 1181.3 L1803.5 1191.6 L1790.6 1204.6 L1785.4 1214.9 L1780.2 1227.8 L1769.9 1240.8 L1762.1 1248.6 L1756.9 1258.9 L1754.3 1290.0 L1751.7 1315.8 L1749.2 1350.0" stroke="#d0601a"/><path d="M1971.7 1134.7 L1945.8 1147.6 L1920.0 1158.0 L1894.1 1168.3 L1868.2 1178.7 L1842.3 1186.4 L1816.4 1194.2 L1790.6 1202.0 L1764.7 1209.7 L1738.8 1220.1 L1712.9 1225.3 L1687.0 1235.6 L1661.2 1240.8 L1650.0 1246.4" stroke="#2e75b6"/><path d="M1971.7 1249.8 L1945.8 1258.9 L1920.0 1266.7 L1894.1 1271.8 L1868.2 1279.6 L1842.3 1287.4 L1816.4 1292.5 L1790.6 1297.7 L1764.7 1302.9 L1738.8 1308.1 L1712.9 1315.8 L1687.0 1323.6 L1661.2 1331.4 L1650.0 1333.6" stroke="#f4b183"/><path d="M1971.7 1265.4 L1894.1 1279.6 L1842.3 1290.0 L1790.6 1300.3 L1756.9 1308.1 L1738.8 1300.3 L1712.9 1315.8 L1687.0 1328.8 L1661.2 1336.5 L1650.0 1338.8" stroke="#ffe08a"/><path d="M1971.7 1280.9 L1951.0 1280.9 L1945.8 1284.8 L1920.0 1287.4 L1894.1 1287.4 L1868.2 1290.0 L1842.3 1292.5 L1816.4 1292.5 L1806.1 1296.4 L1764.7 1297.7 L1738.8 1300.3 L1712.9 1301.6 L1707.7 1309.4 L1687.0 1310.7 L1676.7 1318.4 L1674.1 1326.2 L1650.0 1326.2" stroke="#ed7d31"/><path d="M1971.7 1292.5 L1945.8 1300.3 L1920.0 1305.5 L1894.1 1313.3 L1868.2 1321.0 L1842.3 1323.6 L1816.4 1328.8 L1790.6 1334.0 L1777.6 1341.7 L1764.7 1350.0" stroke="#375623"/><path d="M1971.7 1336.5 L1945.8 1344.3 L1920.0 1346.9 L1894.1 1350.0" stroke="#4472c4"/><path d="M1486.6 950.0 L1490.4 927.6 L1498.1 914.7 L1505.9 901.8 L1518.8 850.0" stroke="#ffc000"/><path d="M1550.9 950.0 L1555.1 914.7 L1570.6 896.6 L1583.5 881.1 L1596.5 870.7 L1622.3 865.5 L1648.2 855.2 L1658.6 852.6 L1666.3 894.0 L1687.0 886.2 L1712.9 865.5 L1725.9 850.0" stroke="#5b9bd5"/><path d="M1607.7 950.0 L1609.4 948.3 L1635.3 922.5 L1661.2 896.6 L1687.0 865.5 L1700.0 850.0" stroke="#7f6000"/><path d="M1622.9 950.0 L1624.9 948.3 L1648.2 922.5 L1674.1 906.9 L1687.0 896.6 L1712.9 886.2 L1738.8 875.9 L1764.7 865.5 L1790.6 857.8 L1816.4 850.0" stroke="#a9d18e"/><path d="M1650.0 959.5 L1687.0 922.5 L1712.9 912.1 L1738.8 899.2 L1764.7 888.8 L1790.6 878.5 L1816.4 865.5 L1842.3 850.0" stroke="#7f7f7f"/><path d="M1650.0 978.7 L1661.2 974.2 L1712.9 958.7 L1764.7 950.9 L1816.4 930.2 L1842.3 912.1 L1868.2 899.2 L1894.1 875.9 L1920.0 850.0" stroke="#8faadc"/><path d="M1661.2 958.7 L1687.0 938.0 L1738.8 917.3 L1790.6 891.4 L1829.4 862.9 L1842.3 850.0" stroke="#467a2c"/><path d="M1544.4 950.0 L1557.6 935.4 L1583.5 914.7 L1609.4 901.8 L1635.3 888.8 L1661.2 875.9 L1687.0 862.9 L1712.9 850.0" stroke="#ffd966"/><path d="M1584.4 950.0 L1596.5 901.8 L1609.4 875.9 L1635.3 870.7 L1661.2 852.6" stroke="#9dc3e6"/><path d="M1971.7 1250.0 L1945.8 1260.4 L1920.0 1268.1 L1894.1 1273.3 L1868.2 1278.5 L1842.3 1286.2 L1816.4 1291.4 L1790.6 1297.9 L1764.7 1301.8 L1738.8 1306.9 L1712.9 1314.7 L1700.0 1330.2 L1674.1 1338.0 L1650.0 1345.2" stroke="#f4b183"/><path d="M1627.0 1350.0 L1622.3 1350.9 L1596.5 1356.1 L1570.6 1363.9 L1544.7 1371.6 L1531.8 1376.8 L1505.9 1389.8 L1492.9 1394.9 L1480.0 1405.3" stroke="#f4b183"/><path d="M1971.7 1265.5 L1945.8 1270.7 L1920.0 1275.9 L1894.1 1283.6 L1868.2 1288.8 L1842.3 1296.6 L1816.4 1306.9 L1790.6 1317.3 L1764.7 1322.5 L1756.9 1325.1 L1751.7 1314.7 L1738.8 1322.5 L1712.9 1343.2 L1700.0 1363.9 L1687.0 1382.0 L1681.9 1394.9 L1674.1 1431.2 L1666.3 1457.0 L1661.2 1477.7 L1653.4 1503.6 L1645.6 1532.1 L1635.3 1560.6 L1630.1 1583.9 L1614.6 1586.4 L1606.8 1586.4 L1593.9 1589.0 L1578.3 1596.8 L1562.8 1607.1 L1555.1 1612.3 L1544.7 1630.4 L1531.8 1638.2 L1524.0 1643.4 L1511.1 1658.9 L1503.3 1671.8 L1492.9 1674.4 L1480.0 1690.0" stroke="#ffe08a"/><path d="M1971.7 1282.3 L1945.8 1282.3 L1940.7 1284.9 L1907.0 1286.2 L1899.3 1287.5 L1868.2 1288.8 L1842.3 1290.1 L1816.4 1292.7 L1808.7 1296.6 L1764.7 1299.2 L1738.8 1301.8 L1712.9 1303.1 L1707.7 1303.1 L1705.2 1314.7 L1676.7 1314.7 L1671.5 1327.6 L1650.0 1327.6" stroke="#ed7d31"/><path d="M1607.0 1350.0 L1604.2 1361.3 L1573.2 1361.3 L1570.6 1391.0 L1542.1 1391.0 L1536.9 1426.0 L1508.5 1426.0 L1503.3 1459.6 L1487.8 1459.6 L1482.6 1486.8 L1480.0 1486.8" stroke="#ed7d31"/><path d="M1971.7 1292.7 L1945.8 1299.2 L1920.0 1304.3 L1894.1 1312.1 L1868.2 1321.2 L1842.3 1327.6 L1816.4 1330.2 L1790.6 1338.0 L1777.6 1348.3 L1764.7 1352.2 L1738.8 1356.1 L1725.9 1361.3 L1712.9 1367.8 L1687.0 1384.6 L1661.2 1394.9 L1635.3 1410.5 L1622.3 1423.4 L1609.4 1438.9 L1596.5 1446.7 L1583.5 1459.6 L1570.6 1475.2 L1557.6 1490.7 L1544.7 1508.8 L1531.8 1529.5 L1518.8 1547.6 L1505.9 1568.3 L1492.9 1586.4 L1480.0 1607.1" stroke="#375623"/><path d="M1676.7 1343.2 L1661.2 1374.2 L1648.2 1400.1 L1635.3 1415.6 L1624.9 1420.8 L1609.4 1431.2 L1596.5 1441.5 L1583.5 1454.5 L1570.6 1472.6 L1557.6 1488.1 L1544.7 1508.8 L1531.8 1529.5 L1518.8 1547.6 L1505.9 1565.7 L1492.9 1583.9 L1480.0 1596.8" stroke="#ffd966"/><path d="M1971.7 1331.5 L1945.8 1340.6 L1920.0 1345.8 L1894.1 1347.0 L1868.2 1349.6 L1842.3 1354.8 L1816.4 1358.7 L1790.6 1361.3 L1764.7 1365.2 L1738.8 1367.8 L1712.9 1370.3 L1687.0 1376.8 L1674.1 1382.0 L1661.2 1385.9 L1648.2 1389.8 L1635.3 1400.1 L1609.4 1410.5 L1596.5 1418.2 L1583.5 1420.8 L1570.6 1426.0 L1557.6 1431.2 L1544.7 1438.9 L1531.8 1446.7 L1518.8 1457.0 L1505.9 1470.0 L1492.9 1477.7 L1480.0 1488.1" stroke="#4472c4"/><path d="M1971.7 1343.2 L1945.8 1344.5 L1920.0 1345.8 L1899.3 1354.8 L1894.1 1353.5 L1868.2 1348.3 L1855.3 1356.1 L1842.3 1366.5 L1790.6 1369.0 L1777.6 1384.6 L1738.8 1389.8 L1712.9 1392.3 L1687.0 1394.9 L1681.9 1405.3 L1661.2 1405.3 L1648.2 1413.0 L1635.3 1420.8 L1622.3 1428.6 L1609.4 1436.3 L1583.5 1441.5 L1557.6 1451.9 L1531.8 1464.8 L1505.9 1477.7 L1480.0 1490.7" stroke="#a9d18e"/><path d="M1971.7 1363.9 L1945.8 1371.6 L1920.0 1376.8 L1894.1 1379.4 L1868.2 1383.3 L1842.3 1383.3 L1816.4 1389.8 L1790.6 1397.5 L1764.7 1402.7 L1738.8 1410.5 L1725.9 1413.0 L1712.9 1420.8 L1687.0 1426.0 L1661.2 1431.2 L1635.3 1436.3 L1609.4 1441.5 L1583.5 1446.7 L1557.6 1454.5 L1531.8 1464.8 L1505.9 1477.7 L1480.0 1493.3" stroke="#203864"/><path d="M1971.7 1366.5 L1945.8 1371.6 L1920.0 1376.8 L1894.1 1382.0 L1881.1 1384.6 L1855.3 1389.8 L1842.3 1397.5 L1816.4 1400.1 L1790.6 1405.3 L1764.7 1407.9 L1738.8 1415.6 L1712.9 1423.4 L1700.0 1431.2 L1674.1 1436.3 L1661.2 1441.5 L1635.3 1454.5 L1609.4 1464.8 L1583.5 1470.0 L1557.6 1477.7 L1531.8 1493.3 L1518.8 1501.0 L1505.9 1514.0 L1492.9 1519.2 L1480.0 1534.7" stroke="#c0c0c0"/><path d="M1749.2 1358.7 L1738.8 1363.9 L1725.9 1374.2 L1712.9 1384.6 L1700.0 1394.9 L1687.0 1410.5 L1674.1 1426.0 L1661.2 1431.2 L1648.2 1441.5 L1635.3 1454.5 L1622.3 1467.4 L1609.4 1477.7 L1596.5 1488.1 L1583.5 1503.6 L1570.6 1519.2 L1557.6 1534.7 L1544.7 1555.4 L1531.8 1573.5 L1518.8 1591.6 L1505.9 1609.7 L1492.9 1625.3 L1480.0 1643.4" stroke="#d0601a"/><path d="M1971.7 1492.0 L1945.8 1501.0 L1920.0 1508.8 L1894.1 1511.4 L1881.1 1516.6 L1868.2 1519.2 L1842.3 1521.7 L1816.4 1524.3 L1790.6 1529.5 L1777.6 1537.3 L1764.7 1539.9 L1751.7 1545.0 L1738.8 1547.6 L1725.9 1550.2 L1712.9 1555.4 L1700.0 1558.0 L1687.0 1560.6 L1674.1 1563.1 L1661.2 1565.7 L1648.2 1570.9 L1635.3 1573.5 L1622.3 1576.1 L1609.4 1581.3 L1596.5 1583.9 L1583.5 1591.6 L1570.6 1596.8 L1557.6 1604.6 L1544.7 1612.3 L1531.8 1622.7 L1518.8 1633.0 L1505.9 1653.7 L1492.9 1666.7 L1480.0 1682.2" stroke="#843c0c"/><path d="M1971.7 1586.4 L1837.1 1586.4 L1821.6 1594.2 L1738.8 1594.2 L1736.2 1599.4 L1692.2 1599.4 L1687.0 1607.1 L1661.2 1607.1 L1656.0 1614.9 L1562.8 1614.9 L1557.6 1617.5 L1505.9 1617.5 L1500.7 1621.4 L1480.0 1621.4" stroke="#4472c4"/><path d="M1971.7 1658.9 L1945.8 1666.7 L1932.9 1671.8 L1920.0 1679.6 L1894.1 1687.4 L1868.2 1695.1 L1842.3 1700.3 L1816.4 1702.9 L1790.6 1705.5 L1764.7 1708.1 L1738.8 1710.7 L1712.9 1713.3 L1687.0 1715.8 L1661.2 1718.4 L1648.2 1723.6 L1635.3 1728.8 L1630.1 1734.0 L1609.4 1741.7 L1596.5 1750.0" stroke="#2f5597"/><path d="M1971.7 1661.5 L1945.8 1669.3 L1920.0 1674.4 L1894.1 1677.0 L1868.2 1679.6 L1842.3 1684.8 L1816.4 1687.4 L1790.6 1690.0 L1764.7 1692.5 L1738.8 1695.1 L1712.9 1700.3 L1687.0 1705.5 L1661.2 1710.7 L1635.3 1721.0 L1609.4 1728.8 L1583.5 1736.5 L1570.6 1741.7" stroke="#bdd7ee"/><path d="M1971.7 1696.4 L1945.8 1700.3 L1920.0 1702.9 L1894.1 1704.2 L1868.2 1708.1 L1842.3 1710.7 L1816.4 1715.8 L1790.6 1718.4 L1764.7 1723.6 L1738.8 1728.8 L1712.9 1734.0 L1700.0 1750.0" stroke="#9ab4e0"/><path d="M1480.0 1798.3 L1487.8 1788.0 L1505.9 1782.8 L1518.8 1777.6 L1531.8 1772.5 L1557.6 1762.1 L1570.6 1758.2 L1596.5 1751.8 L1609.4 1749.2 L1627.5 1744.0 L1632.7 1737.5 L1640.5 1736.2 L1648.2 1731.1 L1661.2 1725.9 L1674.1 1723.3 L1687.0 1719.4 L1712.9 1716.8 L1738.8 1714.2 L1764.7 1710.4 L1790.6 1709.1 L1816.4 1705.2 L1842.3 1701.3 L1863.0 1700.0" stroke="#2f5597"/><path d="M1480.0 1806.1 L1487.8 1795.8 L1505.9 1793.2 L1518.8 1780.2 L1531.8 1775.1 L1557.6 1762.1 L1570.6 1759.5 L1575.8 1749.2 L1596.5 1741.4 L1609.4 1738.8 L1622.3 1728.5 L1635.3 1725.9 L1648.2 1718.1 L1661.2 1712.9 L1687.0 1707.8 L1712.9 1702.6 L1725.9 1700.0" stroke="#bdd7ee"/><path d="M1480.0 1855.3 L1487.8 1844.9 L1500.7 1837.2 L1518.8 1826.8 L1524.0 1824.2 L1544.7 1816.5 L1557.6 1808.7 L1570.6 1803.5 L1583.5 1795.8 L1596.5 1790.6 L1609.4 1789.3 L1622.3 1782.8 L1635.3 1777.6 L1648.2 1772.5 L1661.2 1762.1 L1687.0 1751.8 L1712.9 1745.3 L1725.9 1740.1 L1738.8 1738.8 L1764.7 1731.1 L1790.6 1724.6 L1816.4 1718.1 L1842.3 1714.2 L1855.3 1709.1 L1881.1 1706.5 L1920.0 1703.9 L1958.8 1700.0" stroke="#9ab4e0"/><path d="M1480.0 1878.6 L1492.9 1870.8 L1505.9 1869.5 L1518.8 1857.9 L1531.8 1855.3 L1544.7 1848.8 L1557.6 1844.9 L1570.6 1843.6 L1583.5 1838.5 L1593.9 1824.2 L1609.4 1822.9 L1635.3 1819.0 L1645.6 1813.9 L1661.2 1811.3 L1676.7 1808.7 L1687.0 1797.0 L1712.9 1794.5 L1738.8 1790.6 L1744.0 1786.7 L1764.7 1784.1 L1790.6 1782.8 L1816.4 1780.2 L1842.3 1777.6 L1847.5 1772.5 L1868.2 1769.9 L1894.1 1767.3 L1920.0 1766.0 L1932.9 1763.4 L1971.7 1760.0" stroke="#8fbce6"/><path d="M1480.0 1912.2 L1492.9 1904.5 L1505.9 1899.3 L1518.8 1891.5 L1526.6 1878.6 L1536.9 1876.0 L1544.7 1860.5 L1557.6 1855.3 L1570.6 1852.7 L1583.5 1848.8 L1596.5 1846.2 L1609.4 1843.6 L1635.3 1841.0 L1643.0 1838.5 L1650.8 1817.8 L1661.2 1816.5 L1687.0 1815.2 L1707.7 1813.9 L1710.3 1804.8 L1738.8 1803.5 L1751.7 1802.2 L1764.7 1800.9 L1790.6 1799.6 L1803.5 1797.0 L1821.6 1793.2 L1842.3 1791.9 L1868.2 1789.3 L1894.1 1782.8 L1920.0 1778.9 L1940.7 1777.6 L1945.8 1775.1 L1971.7 1767.8" stroke="#c9a000"/><path d="M1480.0 1945.9 L1487.8 1944.6 L1492.9 1940.7 L1505.9 1939.4 L1518.8 1936.8 L1536.9 1936.8 L1542.1 1920.0 L1570.6 1920.0 L1583.5 1918.7 L1604.2 1916.1 L1609.4 1910.9 L1635.3 1909.6 L1666.3 1909.1 L1671.5 1899.3 L1687.0 1896.7 L1700.0 1895.4 L1738.8 1894.1 L1751.7 1890.2 L1777.6 1887.6 L1790.6 1886.3 L1868.2 1886.3 L1883.7 1885.8 L1888.9 1865.6 L1932.9 1865.6 L1943.3 1854.0 L1971.7 1854.0" stroke="#ed7d31"/><path d="M1480.0 2010.6 L1487.8 2006.7 L1505.9 2004.1 L1518.8 2002.8 L1544.7 1997.6 L1557.6 1991.1 L1583.5 1984.7 L1609.4 1980.8 L1630.1 1976.9 L1635.3 1973.0 L1656.0 1965.3 L1687.0 1961.4 L1712.9 1956.2 L1738.8 1952.3 L1751.7 1949.7 L1777.6 1944.6 L1790.6 1942.0 L1816.4 1938.1 L1842.3 1935.5 L1868.2 1934.2 L1881.1 1930.3 L1894.1 1921.3 L1920.0 1920.0 L1945.8 1917.4 L1971.7 1914.8" stroke="#f4b183"/><path d="M1480.0 2036.4 L1495.5 2030.0 L1503.3 2028.7 L1507.2 1996.3 L1518.8 1993.7 L1544.7 1991.1 L1557.6 1988.6 L1583.5 1986.0 L1609.4 1983.4 L1635.3 1980.8 L1661.2 1978.2 L1687.0 1975.6 L1712.9 1973.0 L1738.8 1970.4 L1751.7 1970.4 L1764.7 1969.2 L1777.6 1967.9 L1790.6 1965.3 L1816.4 1964.0 L1842.3 1961.4 L1868.2 1960.1 L1881.1 1958.8 L1920.0 1958.8 L1945.8 1956.2 L1971.7 1953.6" stroke="#f0975c"/><path d="M1480.0 2031.3 L1575.8 2031.3 L1580.9 2023.5 L1790.6 2023.5 L1795.7 2017.0 L1904.4 2017.0 L1912.2 2009.3 L1971.7 2009.3" stroke="#c9c9c9"/><path d="M1480.0 860.6 L1492.9 842.4 L1505.9 841.1 L1531.8 834.7 L1552.5 832.1 L1557.6 828.2 L1583.5 826.9 L1609.4 821.7 L1635.3 816.6 L1661.2 811.4 L1687.0 807.5 L1712.9 804.9 L1738.8 798.4 L1764.7 794.6 L1790.6 789.4 L1816.4 788.1 L1842.3 788.1 L1868.2 785.5 L1894.1 781.6 L1920.0 775.2 L1945.8 770.0 L1971.7 762.2" stroke="#8faadc"/><path d="M1971.7 759.6 L1945.8 767.4 L1920.0 775.2 L1894.1 777.7 L1868.2 784.2 L1842.3 790.7 L1816.4 798.4 L1790.6 808.8 L1764.7 819.2 L1738.8 832.1 L1725.9 839.9 L1712.9 847.6 L1700.0 852.8 L1687.0 860.6 L1661.2 876.1 L1635.3 891.6 L1609.4 909.7 L1583.5 927.8 L1557.6 948.6 L1556.2 950.0" stroke="#7f7f7f"/><path d="M1971.7 679.4 L1945.8 692.3 L1920.0 700.1 L1894.1 710.5 L1868.2 723.4 L1842.3 738.9 L1816.4 746.7 L1790.6 754.5 L1764.7 762.2 L1738.8 772.6 L1712.9 782.9 L1687.0 798.4 L1661.2 811.4 L1635.3 829.5 L1609.4 847.6 L1596.5 858.0 L1583.5 873.5 L1570.6 891.6 L1557.6 907.1 L1544.7 922.7 L1531.8 946.0 L1528.9 950.0" stroke="#a9d18e"/><path d="M1971.7 724.7 L1945.8 731.2 L1920.0 736.3 L1894.1 741.5 L1868.2 746.7 L1842.3 749.3 L1816.4 754.5 L1790.6 759.6 L1764.7 764.8 L1738.8 772.6 L1712.9 780.3 L1687.0 790.7 L1661.2 806.2 L1635.3 824.3 L1609.4 842.4 L1596.5 855.4 L1583.5 865.7 L1570.6 881.3 L1557.6 896.8 L1544.7 917.5 L1531.8 933.0 L1521.1 950.0" stroke="#7fb2e0"/><path d="M1945.8 773.9 L1920.0 777.7 L1894.1 782.9 L1868.2 790.7 L1842.3 793.3 L1816.4 803.6 L1790.6 811.4 L1764.7 821.7 L1738.8 829.5 L1712.9 842.4 L1700.0 850.2 L1687.0 860.6 L1674.1 870.9 L1661.2 881.3 L1648.2 891.6 L1635.3 902.0 L1622.3 917.5 L1609.4 927.8 L1596.5 943.4 L1590.9 950.0" stroke="#7f6000"/><path d="M1971.7 775.2 L1945.8 785.5 L1920.0 793.3 L1894.1 798.4 L1868.2 806.2 L1842.3 811.4 L1816.4 816.6 L1790.6 824.3 L1764.7 832.1 L1738.8 837.3 L1712.9 847.6 L1687.0 858.0 L1661.2 868.3 L1635.3 881.3 L1609.4 894.2 L1583.5 912.3 L1557.6 925.3 L1531.8 943.4 L1525.1 950.0" stroke="#ffc000"/><path d="M1971.7 785.5 L1945.8 798.4 L1920.0 806.2 L1894.1 816.6 L1868.2 829.5 L1842.3 845.0 L1816.4 858.0 L1790.6 876.1 L1764.7 902.0 L1738.8 917.5 L1712.9 938.2 L1687.0 964.1 L1674.1 984.8 L1661.2 1015.8 L1650.0 1045.3" stroke="#548235"/><path d="M1971.7 794.6 L1958.8 808.8 L1945.8 824.3 L1932.9 832.1 L1920.0 847.6 L1907.0 860.6 L1899.3 865.7 L1888.9 878.7 L1868.2 894.2 L1842.3 912.3 L1816.4 922.7 L1790.6 927.8 L1764.7 935.6 L1738.8 946.0 L1712.9 953.7 L1700.0 958.9 L1687.0 961.5 L1661.2 964.1 L1650.0 966.3" stroke="#8faadc"/><path d="M1971.7 799.7 L1945.8 806.2 L1920.0 811.4 L1894.1 819.2 L1868.2 821.7 L1842.3 826.9 L1816.4 847.6 L1790.6 855.4 L1764.7 860.6 L1738.8 865.7 L1712.9 873.5 L1687.0 886.4 L1661.2 907.1 L1635.3 912.3 L1609.4 948.6 L1607.0 950.0" stroke="#70ad47"/><path d="M1971.7 804.9 L1945.8 816.6 L1920.0 826.9 L1894.1 837.3 L1868.2 842.4 L1842.3 851.5 L1816.4 860.6 L1790.6 870.9 L1764.7 881.3 L1738.8 894.2 L1712.9 914.9 L1700.0 917.5 L1687.0 927.8 L1674.1 938.2 L1661.2 948.6 L1650.0 959.7" stroke="#7f7f7f"/><path d="M1546.1 950.0 L1549.9 917.5 L1557.6 904.6 L1570.6 894.2 L1583.5 881.3 L1596.5 876.1 L1609.4 865.7 L1622.3 860.6 L1635.3 855.4 L1648.2 852.8 L1661.2 850.2 L1666.3 894.2 L1681.9 891.6 L1694.8 883.9 L1712.9 870.9 L1725.9 855.4 L1738.8 842.4 L1751.7 834.7 L1764.7 829.5 L1790.6 819.2 L1816.4 806.2 L1842.3 788.1 L1868.2 782.9 L1894.1 777.7 L1920.0 772.6 L1945.8 770.0 L1971.7 770.0" stroke="#5b9bd5"/><path d="M1971.7 914.9 L1945.8 927.8 L1920.0 930.4 L1894.1 930.4 L1883.7 933.0 L1855.3 935.6 L1854.0 1050.0" stroke="#ffd966"/><path d="M1486.4 950.0 L1487.8 938.2 L1495.5 917.5 L1503.3 914.9 L1511.1 886.4 L1518.8 860.6 L1521.4 837.3 L1531.8 826.9 L1536.9 821.7 L1544.7 782.9 L1552.5 751.9 L1557.6 736.3 L1565.4 728.6 L1570.6 726.0 L1575.8 700.1 L1578.3 684.6 L1583.5 669.0 L1588.7 653.5 L1601.6 630.2 L1609.4 625.1 L1617.2 601.8 L1624.9 581.1 L1632.7 575.9 L1635.3 562.9 L1648.2 550.0" stroke="#ffc000"/><path d="M1578.1 950.0 L1578.3 938.2 L1586.1 860.6 L1591.3 824.3 L1609.4 821.7 L1612.0 808.8 L1622.3 772.6 L1637.9 767.4 L1648.2 741.5 L1661.2 718.2 L1671.5 715.6 L1687.0 694.9 L1694.8 684.6 L1707.7 684.6 L1725.9 658.7 L1738.8 658.7 L1759.5 643.2 L1777.6 638.0 L1790.6 630.2 L1816.4 625.1 L1837.1 612.1 L1868.2 601.8 L1894.1 596.6 L1899.3 588.8 L1920.0 583.6 L1932.9 579.8 L1945.8 579.8 L1971.7 570.7" stroke="#4472c4"/><path d="M1480.0 847.6 L1492.9 832.1 L1505.9 816.6 L1518.8 793.3 L1531.8 775.2 L1544.7 757.0 L1557.6 738.9 L1570.6 731.2 L1583.5 720.8 L1596.5 705.3 L1609.4 697.5 L1622.3 676.8 L1635.3 671.6 L1661.2 656.1 L1687.0 638.0 L1700.0 630.2 L1712.9 622.5 L1738.8 609.5 L1764.7 591.4 L1790.6 575.9 L1816.4 565.5 L1842.3 560.4 L1868.2 557.8 L1894.1 550.0" stroke="#808080"/><path d="M1558.3 950.0 L1570.6 927.8 L1578.3 904.6 L1583.5 894.2 L1596.5 881.3 L1609.4 870.9 L1622.3 860.6" stroke="#9dc3e6"/><path d="M1537.3 950.0 L1544.7 938.2 L1557.6 912.3 L1565.4 899.4" stroke="#a9d18e"/><path d="M1894.0 550.0 L1920.0 543.0 L1947.0 535.0 L1972.2 527.2" stroke="#808080"/><path d="M1109.3 1650.0 L1115.5 1614.0 L1120.2 1598.4 L1128.0 1586.0 L1134.2 1567.4 L1137.3 1551.9 L1143.5 1536.3 L1149.7 1520.8 L1152.8 1508.4 L1159.0 1496.0 L1163.7 1489.8 L1166.8 1486.6 L1168.3 1471.1 L1171.4 1450.9 L1173.0 1446.3 L1176.1 1440.1 L1179.2 1430.7 L1183.9 1415.2 L1187.0 1402.8 L1190.1 1393.5 L1194.7 1391.9 L1197.8 1387.3 L1199.4 1381.1 L1202.5 1356.2 L1205.6 1350.0" stroke="#8faadc"/><path d="M1100.0 1497.5 L1107.8 1496.7 L1115.5 1492.9 L1123.3 1489.8 L1131.1 1489.0 L1138.8 1486.6 L1154.3 1485.1 L1162.1 1483.5 L1169.9 1483.5 L1174.5 1478.9 L1185.4 1474.2 L1193.2 1472.7 L1200.9 1469.6 L1208.7 1464.9 L1216.5 1465.7 L1224.2 1463.4 L1232.0 1461.8 L1239.8 1457.1 L1247.5 1449.4 L1255.3 1447.8 L1263.0 1443.2 L1270.8 1440.1 L1278.6 1433.9 L1286.3 1429.2 L1295.7 1424.5 L1301.9 1421.4 L1309.6 1415.2 L1317.4 1409.0 L1325.2 1402.8 L1332.9 1396.6 L1340.7 1391.9 L1348.4 1381.1 L1356.2 1379.5 L1364.0 1371.7 L1371.7 1359.3 L1379.5 1350.0" stroke="#997300"/><path d="M1171.4 1650.0 L1174.5 1614.0 L1179.2 1582.9 L1183.9 1551.9 L1188.5 1536.3 L1191.6 1520.8 L1194.7 1508.4 L1202.5 1506.8 L1207.1 1485.1 L1214.9 1483.5 L1216.5 1471.1 L1219.6 1443.2 L1222.7 1405.9 L1225.8 1404.3 L1236.6 1399.7 L1238.2 1396.6 L1241.3 1373.3 L1244.4 1350.0" stroke="#bf9000"/><path d="M1100.0 1570.5 L1107.8 1565.8 L1115.5 1561.2 L1123.3 1558.1 L1131.1 1555.0 L1138.8 1551.9 L1146.6 1547.2 L1154.3 1544.1 L1162.1 1542.5 L1169.9 1539.4 L1177.6 1533.2 L1185.4 1527.0 L1193.2 1520.8 L1200.9 1519.3 L1208.7 1514.6 L1216.5 1511.5 L1224.2 1506.8 L1232.0 1505.3 L1239.8 1499.1 L1247.5 1489.8 L1255.3 1480.4 L1263.0 1472.7 L1270.8 1469.6 L1275.5 1461.8 L1280.1 1452.5 L1286.3 1440.1 L1294.1 1430.7 L1298.8 1429.2" stroke="#ffc000"/><path d="M1100.0 1589.1 L1107.8 1586.0 L1115.5 1582.9 L1123.3 1578.3 L1131.1 1576.7 L1138.8 1570.5 L1146.6 1567.4 L1154.3 1558.1 L1162.1 1548.8 L1169.9 1541.0 L1177.6 1527.0 L1185.4 1517.7 L1193.2 1511.5 L1200.9 1503.7 L1208.7 1492.9 L1216.5 1474.2 L1224.2 1452.5 L1232.0 1440.1 L1239.8 1427.6 L1244.4 1418.3 L1249.1 1404.3 L1255.3 1385.7 L1263.0 1374.8 L1270.8 1356.2 L1275.5 1350.0" stroke="#ffc820"/><path d="M1100.0 1598.4 L1115.5 1592.2 L1131.1 1584.5 L1146.6 1578.3 L1154.3 1575.2 L1162.1 1573.6 L1169.9 1570.5 L1177.6 1564.3 L1185.4 1561.2 L1193.2 1556.5 L1200.9 1555.0 L1208.7 1551.9 L1216.5 1547.2 L1224.2 1542.5 L1232.0 1539.4 L1239.8 1534.8 L1247.5 1527.0 L1255.3 1519.3 L1263.0 1513.0 L1270.8 1508.4 L1278.6 1503.7 L1286.3 1497.5 L1294.1 1495.2 L1301.9 1489.8 L1309.6 1483.5 L1317.4 1478.9 L1325.2 1475.8 L1332.9 1472.7 L1340.7 1469.6 L1348.4 1464.9 L1356.2 1458.7 L1364.0 1454.0 L1371.7 1450.9 L1379.5 1444.7 L1387.3 1440.1 L1395.0 1433.9 L1400.0 1430.7" stroke="#467a2c"/><path d="M1100.0 1614.0 L1115.5 1607.8 L1131.1 1601.6 L1146.6 1595.3 L1162.1 1590.7 L1177.6 1582.9 L1193.2 1575.2 L1208.7 1567.4 L1224.2 1561.2 L1239.8 1553.4 L1255.3 1544.1 L1270.8 1534.8 L1286.3 1523.9 L1301.9 1513.0 L1317.4 1502.2 L1332.9 1492.9 L1348.4 1482.0 L1364.0 1474.2 L1379.5 1466.5 L1395.0 1457.1 L1400.0 1454.0" stroke="#2f5597"/><path d="M1100.0 1621.7 L1115.5 1617.1 L1131.1 1610.9 L1146.6 1604.7 L1162.1 1598.4 L1177.6 1589.1 L1193.2 1576.7 L1208.7 1570.5 L1224.2 1564.3 L1239.8 1555.0 L1255.3 1544.1 L1270.8 1531.7 L1286.3 1520.8 L1301.9 1509.9 L1317.4 1499.1 L1332.9 1486.6 L1348.4 1475.8 L1364.0 1461.8 L1379.5 1437.0 L1387.3 1427.6 L1395.0 1405.9 L1400.0 1398.1" stroke="#7f7f7f"/><path d="M1100.0 1624.8 L1115.5 1617.1 L1123.3 1607.8 L1131.1 1595.3 L1146.6 1579.8 L1162.1 1570.5 L1177.6 1555.0 L1185.4 1550.3 L1193.2 1541.0 L1200.9 1530.1 L1208.7 1520.8 L1216.5 1516.1 L1224.2 1499.1 L1232.0 1494.4 L1239.8 1482.0 L1247.5 1466.5 L1252.2 1454.0 L1255.3 1437.0 L1261.5 1433.9 L1263.0 1427.6 L1270.8 1418.3 L1278.6 1402.8 L1286.3 1388.8 L1291.0 1374.8 L1294.1 1367.1 L1301.9 1362.4 L1305.0 1350.0" stroke="#8faadc"/><path d="M1162.1 1650.0 L1169.9 1635.7 L1177.6 1623.3 L1185.4 1614.0 L1193.2 1606.2 L1200.9 1598.4 L1208.7 1592.2 L1216.5 1592.2 L1224.2 1587.6 L1232.0 1579.8 L1239.8 1570.5 L1247.5 1559.6 L1255.3 1550.3 L1259.9 1545.7 L1264.6 1536.3 L1270.8 1525.5 L1275.5 1508.4 L1278.6 1497.5 L1283.2 1486.6 L1286.3 1475.8 L1291.0 1458.7 L1295.7 1444.7 L1301.9 1424.5 L1309.6 1404.3 L1317.4 1393.5 L1323.6 1381.1 L1332.9 1373.3 L1337.6 1365.5 L1345.3 1350.0" stroke="#5b9bd5"/><path d="M1177.6 1650.0 L1193.2 1634.2 L1208.7 1617.1 L1224.2 1607.8 L1232.0 1601.6 L1239.8 1592.2 L1247.5 1576.7 L1255.3 1559.6 L1263.0 1548.8 L1267.7 1544.1 L1270.8 1533.2 L1269.3 1520.8 L1273.9 1502.2 L1278.6 1489.8 L1283.2 1474.2 L1286.3 1458.7 L1294.1 1447.8 L1298.8 1437.0 L1305.0 1418.3 L1311.2 1404.3 L1317.4 1388.8 L1323.6 1370.2 L1328.3 1357.8 L1332.9 1350.0" stroke="#a9d18e"/><path d="M1270.8 1533.2 L1275.5 1520.8 L1281.7 1486.6 L1286.3 1468.0 L1294.1 1446.3 L1301.9 1440.1 L1314.3 1390.4 L1317.4 1381.1 L1325.2 1360.9 L1329.8 1356.2" stroke="#8cc06a"/><path d="M1228.9 1650.0 L1236.6 1629.5 L1242.9 1614.0 L1250.6 1598.4 L1256.8 1587.6 L1263.0 1582.9 L1270.8 1579.8 L1273.9 1570.5 L1278.6 1548.8 L1283.2 1536.3 L1289.4 1522.4 L1294.1 1513.0 L1300.3 1497.5 L1306.5 1482.0 L1314.3 1464.9 L1320.5 1450.9 L1325.2 1443.2 L1332.9 1435.4 L1340.7 1424.5 L1348.4 1405.9 L1356.2 1390.4 L1360.9 1381.1 L1364.0 1376.4 L1371.7 1365.5 L1379.5 1356.2 L1384.2 1350.0" stroke="#7f6000"/><path d="M1143.5 1650.0 L1154.3 1646.6 L1169.9 1645.0 L1185.4 1638.8 L1200.9 1635.7 L1216.5 1629.5 L1224.2 1626.4 L1232.0 1623.3 L1247.5 1617.1 L1263.0 1612.4 L1270.8 1610.9" stroke="#595959"/><path d="M1200.9 1650.0 L1208.7 1645.0 L1224.2 1638.8 L1239.8 1629.5 L1255.3 1620.2 L1270.8 1610.9 L1286.3 1598.4 L1301.9 1578.3 L1309.6 1567.4 L1317.4 1555.0 L1325.2 1544.1 L1332.9 1531.7 L1348.4 1514.6 L1364.0 1503.7 L1379.5 1492.9 L1387.3 1475.8 L1395.0 1468.0 L1400.0 1461.8" stroke="#548235"/><path d="M1239.8 1650.0 L1255.3 1637.3 L1270.8 1623.3 L1286.3 1606.2 L1301.9 1590.7 L1309.6 1579.8 L1317.4 1564.3 L1325.2 1551.9 L1332.9 1536.3 L1348.4 1523.9 L1364.0 1505.3 L1379.5 1489.8 L1387.3 1478.9 L1395.0 1471.1 L1400.0 1468.0" stroke="#2e75b6"/><path d="M1255.3 1650.0 L1270.8 1634.2 L1286.3 1617.1 L1294.1 1601.6 L1301.9 1592.2 L1309.6 1576.7 L1317.4 1548.8 L1325.2 1539.4 L1332.9 1530.1 L1340.7 1520.8 L1348.4 1513.0 L1356.2 1499.1 L1364.0 1486.6 L1371.7 1477.3 L1379.5 1455.6 L1387.3 1443.2 L1395.0 1437.0 L1400.0 1433.9" stroke="#2f5597"/><path d="M1270.8 1650.0 L1286.3 1640.4 L1294.1 1629.5 L1301.9 1614.0 L1309.6 1598.4 L1317.4 1582.9 L1325.2 1572.0 L1332.9 1564.3 L1340.7 1544.1 L1348.4 1536.3 L1356.2 1525.5 L1364.0 1513.0 L1371.7 1505.3 L1376.4 1497.5 L1379.5 1492.9 L1387.3 1474.2 L1395.0 1469.6 L1400.0 1468.0" stroke="#203864"/><path d="M1286.3 1650.0 L1301.9 1638.8 L1309.6 1626.4 L1317.4 1617.1 L1325.2 1601.6 L1332.9 1592.2 L1340.7 1570.5 L1348.4 1564.3 L1356.2 1561.2 L1364.0 1559.6 L1371.7 1555.0 L1374.8 1550.3 L1376.4 1520.8 L1379.5 1503.7 L1384.2 1486.6 L1388.8 1482.0 L1395.0 1474.2 L1400.0 1472.7" stroke="#4472c4"/><path d="M1278.6 1650.0 L1286.3 1638.8 L1294.1 1626.4 L1301.9 1614.0 L1309.6 1601.6 L1317.4 1592.2 L1325.2 1573.6 L1332.9 1564.3 L1340.7 1551.9 L1348.4 1530.1 L1356.2 1525.5 L1364.0 1520.8 L1371.7 1511.5 L1379.5 1496.0 L1387.3 1486.6 L1395.0 1480.4 L1400.0 1477.3" stroke="#f4b183"/><path d="M1286.3 1650.0 L1301.9 1641.9 L1309.6 1632.6 L1317.4 1617.1 L1325.2 1614.0 L1332.9 1606.2 L1340.7 1579.8 L1348.4 1570.5 L1356.2 1564.3 L1364.0 1561.2 L1371.7 1551.9 L1379.5 1541.0 L1387.3 1536.3 L1395.0 1530.1 L1400.0 1528.6" stroke="#9dc3e6"/><path d="M1308.1 1650.0 L1314.3 1623.3 L1320.5 1604.7 L1332.9 1603.1 L1334.5 1576.7 L1342.2 1575.2 L1345.3 1561.2 L1364.0 1561.2 L1368.6 1551.9 L1379.5 1550.3 L1387.3 1545.7 L1395.0 1544.1 L1400.0 1541.0" stroke="#4472c4"/><path d="M1309.6 1650.0 L1325.2 1641.9 L1332.9 1629.5 L1340.7 1623.3 L1348.4 1607.8 L1364.0 1604.7 L1367.1 1596.9 L1379.5 1586.0 L1382.6 1570.5 L1387.3 1565.8 L1395.0 1564.3 L1400.0 1564.3" stroke="#a9d18e"/><path d="M1332.9 1650.0 L1340.7 1629.5 L1348.4 1614.0 L1364.0 1601.6 L1371.7 1592.2 L1379.5 1584.5 L1395.0 1581.4 L1400.0 1579.8" stroke="#4472c4"/><path d="M1348.4 1528.6 L1364.0 1522.4 L1371.7 1520.8 L1379.5 1499.1 L1387.3 1497.5 L1395.0 1494.4 L1400.0 1492.9" stroke="#7f7f7f"/><path d="M1348.4 1551.9 L1356.2 1544.1 L1364.0 1536.3 L1371.7 1520.8 L1379.5 1505.3 L1387.3 1489.8 L1395.0 1474.2 L1400.0 1468.0" stroke="#ffd966"/><path d="M59.3 2200.5 L79.3 2200.9 L99.3 2198.6 L119.3 2198.4 L139.3 2198.7 L159.3 2196.8 L179.3 2197.6 L199.3 2195.9 L219.3 2196.5 L239.3 2195.9 L259.3 2194.4 L279.3 2192.7 L299.3 2194.4 L319.3 2192.8 L339.3 2190.3 L359.3 2188.0 L379.3 2187.9 L399.3 2187.1 L419.3 2184.1 L439.3 2185.5 L459.3 2181.8" stroke="#4472c4"/><path d="M59.3 2199.7 L79.3 2197.4 L99.3 2194.8 L119.3 2195.8 L139.3 2193.8 L159.3 2192.9 L179.3 2193.0 L199.3 2191.8 L219.3 2192.6 L239.3 2192.0 L259.3 2190.9 L279.3 2188.9 L299.3 2189.1 L319.3 2188.2 L339.3 2186.1 L359.3 2185.2 L379.3 2184.4 L399.3 2181.6 L419.3 2180.6 L439.3 2180.7 L459.3 2178.4 L479.3 2177.3 L499.3 2175.0 L519.3 2174.1 L539.3 2174.2 L559.3 2170.8 L579.3 2172.1 L599.3 2169.9" stroke="#ffd966"/><path d="M59.3 2196.1 L79.3 2194.8 L99.3 2191.2 L119.3 2189.5 L139.3 2188.8 L159.3 2186.7 L179.3 2187.2 L199.3 2185.0 L219.3 2184.3 L239.3 2183.3 L259.3 2182.7 L279.3 2180.7 L299.3 2179.4 L319.3 2179.6 L339.3 2177.7 L359.3 2178.2 L379.3 2175.0 L399.3 2173.8 L419.3 2171.5 L439.3 2170.7 L459.3 2171.0 L479.3 2169.4 L499.3 2167.2 L519.3 2167.9" stroke="#70ad47"/><path d="M59.3 2194.8 L79.3 2192.3 L99.3 2188.5 L119.3 2189.0 L139.3 2187.3 L159.3 2185.7 L179.3 2183.1 L199.3 2184.4 L219.3 2182.3 L239.3 2181.0 L259.3 2179.1 L279.3 2178.3 L299.3 2177.3 L319.3 2177.7 L339.3 2175.9 L359.3 2174.8 L379.3 2171.8 L399.3 2170.3 L419.3 2171.3 L439.3 2169.9 L459.3 2168.4 L479.3 2167.0 L499.3 2164.9 L519.3 2163.3 L539.3 2162.9 L559.3 2162.3 L579.3 2159.7 L599.3 2158.5 L619.3 2156.6 L639.3 2154.0 L659.3 2153.5" stroke="#f4b183"/><path d="M59.3 2190.7 L79.3 2189.4 L99.3 2184.9 L119.3 2183.6 L139.3 2181.8 L159.3 2180.7 L179.3 2180.6 L199.3 2179.3 L219.3 2179.0 L239.3 2176.2 L259.3 2176.8 L279.3 2175.7 L299.3 2174.2 L319.3 2171.8 L339.3 2168.6 L359.3 2166.8 L379.3 2164.3 L399.3 2161.2 L419.3 2158.7 L439.3 2155.3 L459.3 2153.6 L479.3 2148.4 L499.3 2146.6 L519.3 2145.3 L539.3 2142.3 L559.3 2139.4 L579.3 2136.7" stroke="#2e75b6"/><path d="M59.3 2187.3 L79.3 2185.9 L99.3 2184.0 L119.3 2183.6 L139.3 2182.1 L159.3 2180.0 L179.3 2179.0 L199.3 2176.1 L219.3 2176.9 L239.3 2176.2 L259.3 2172.4 L279.3 2172.6 L299.3 2172.7 L319.3 2168.3 L339.3 2166.5 L359.3 2161.7 L379.3 2157.0 L399.3 2154.1 L419.3 2151.3 L439.3 2149.2 L459.3 2145.6 L479.3 2142.9 L499.3 2137.7" stroke="#bf9000"/><path d="M59.3 2186.9 L79.3 2183.3 L99.3 2179.1 L119.3 2176.4 L139.3 2174.9 L159.3 2173.3 L179.3 2171.6 L199.3 2170.3 L219.3 2170.3 L239.3 2168.0 L259.3 2167.1 L279.3 2166.7 L299.3 2165.4 L319.3 2161.6 L339.3 2158.5 L359.3 2154.1 L379.3 2150.2 L399.3 2148.6 L419.3 2144.0 L439.3 2140.8 L459.3 2137.7 L479.3 2136.4 L499.3 2133.7 L519.3 2130.6 L539.3 2127.5 L559.3 2124.4 L579.3 2120.0 L599.3 2116.1 L619.3 2113.1 L639.3 2111.1 L659.3 2107.5" stroke="#a9d18e"/><path d="M59.3 2183.5 L79.3 2178.1 L99.3 2175.5 L119.3 2173.1 L139.3 2171.7 L159.3 2170.5 L179.3 2166.7 L199.3 2166.2 L219.3 2163.0 L239.3 2160.8 L259.3 2160.9 L279.3 2159.2 L299.3 2156.0 L319.3 2155.6 L339.3 2156.1 L359.3 2155.1 L379.3 2154.0 L399.3 2150.6 L419.3 2149.8 L439.3 2150.6 L459.3 2147.5 L479.3 2145.9 L499.3 2145.8 L519.3 2145.6 L539.3 2143.9 L559.3 2144.0 L579.3 2143.2" stroke="#9dc3e6"/><path d="M59.3 2181.4 L79.3 2174.9 L99.3 2173.2 L119.3 2169.0 L139.3 2166.6 L159.3 2166.1 L179.3 2163.8 L199.3 2161.5 L219.3 2159.7 L239.3 2156.7 L259.3 2155.8 L279.3 2153.5 L299.3 2152.6 L319.3 2147.5 L339.3 2146.5 L359.3 2143.4 L379.3 2140.3 L399.3 2136.6 L419.3 2135.3 L439.3 2131.0 L459.3 2129.5 L479.3 2126.7 L499.3 2124.0" stroke="#ed7d31"/><path d="M59.3 2180.1 L79.3 2176.2 L99.3 2171.0 L119.3 2170.6 L139.3 2167.5 L159.3 2164.8 L179.3 2163.5 L199.3 2162.4 L219.3 2160.1 L239.3 2158.4 L259.3 2156.1 L279.3 2156.7 L299.3 2153.8 L319.3 2152.6 L339.3 2150.4 L359.3 2146.8 L379.3 2145.4 L399.3 2143.1 L419.3 2140.4 L439.3 2137.8 L459.3 2137.1 L479.3 2134.4 L499.3 2132.6 L519.3 2130.4 L539.3 2127.8 L559.3 2126.4 L579.3 2124.0 L599.3 2122.0 L619.3 2118.5 L639.3 2117.1" stroke="#375623"/><path d="M59.3 2177.4 L79.3 2170.6 L99.3 2165.7 L119.3 2162.9 L139.3 2162.1 L159.3 2159.5 L179.3 2156.1 L199.3 2154.8 L219.3 2152.1 L239.3 2150.4 L259.3 2146.5 L279.3 2144.1 L299.3 2141.7 L319.3 2140.4 L339.3 2135.2 L359.3 2131.7 L379.3 2129.7 L399.3 2123.9 L419.3 2120.1 L439.3 2118.7 L459.3 2112.9 L479.3 2111.0 L499.3 2107.1 L519.3 2102.0 L539.3 2098.9 L559.3 2097.3" stroke="#8faadc"/><path d="M59.3 2174.7 L79.3 2169.4 L99.3 2165.5 L119.3 2161.2 L139.3 2160.6 L159.3 2156.4 L179.3 2154.4 L199.3 2153.3 L219.3 2150.2 L239.3 2147.2 L259.3 2145.5 L279.3 2144.9 L299.3 2140.2 L319.3 2138.4 L339.3 2135.5 L359.3 2135.8 L379.3 2132.9 L399.3 2131.3 L419.3 2126.7 L439.3 2125.9 L459.3 2123.9 L479.3 2120.7" stroke="#c9c9c9"/><path d="M59.3 2172.5 L79.3 2166.1 L99.3 2159.6 L119.3 2157.1 L139.3 2153.4 L159.3 2152.3 L179.3 2149.5 L199.3 2144.9 L219.3 2143.1 L239.3 2141.7 L259.3 2136.7 L279.3 2135.3 L299.3 2132.5 L319.3 2131.5 L339.3 2125.9 L359.3 2125.1 L379.3 2119.4 L399.3 2117.4 L419.3 2114.6 L439.3 2110.7 L459.3 2106.3 L479.3 2105.1 L499.3 2102.3 L519.3 2097.8 L539.3 2095.5 L559.3 2092.6 L579.3 2089.2 L599.3 2086.3 L619.3 2082.6" stroke="#ffc000"/><path d="M59.3 2168.6 L79.3 2163.7 L99.3 2159.1 L119.3 2156.7 L139.3 2153.1 L159.3 2151.3 L179.3 2147.9 L199.3 2146.1 L219.3 2141.5 L239.3 2139.7 L259.3 2138.6 L279.3 2135.5 L299.3 2132.0 L319.3 2132.7 L339.3 2128.8 L359.3 2128.3 L379.3 2126.3 L399.3 2123.6 L419.3 2123.1 L439.3 2121.0 L459.3 2118.8 L479.3 2116.1 L499.3 2116.3 L519.3 2113.1 L539.3 2111.7" stroke="#2f5597"/><path d="M59.3 2197.5 L77.3 2197.9 L95.3 2196.2 L113.3 2194.4 L131.3 2194.8 L149.3 2192.0 L167.3 2190.2 L185.3 2188.2 L203.3 2190.0 L221.3 2187.8 L239.3 2187.5 L257.3 2183.1 L275.3 2182.4 L293.3 2184.1 L311.3 2178.7 L329.3 2177.5 L347.3 2177.8 L365.3 2176.8 L383.3 2177.7 L401.3 2177.1 L419.3 2173.7 L437.3 2174.6 L455.3 2172.9 L473.3 2171.5 L491.3 2171.3 L509.3 2168.2 L527.3 2167.2 L545.3 2164.3 L563.3 2164.6 L581.3 2163.0 L599.3 2162.5 L617.3 2160.5 L635.3 2159.8 L653.3 2158.7 L671.3 2153.5 L689.3 2151.5 L707.3 2150.0 L725.3 2148.4 L743.3 2147.9 L761.3 2145.9 L779.3 2143.2 L797.3 2141.8 L815.3 2136.1 L833.3 2135.2 L851.3 2130.6 L869.3 2130.1 L887.3 2124.9 L905.3 2122.7 L923.3 2123.8 L941.3 2120.1" stroke="#2f5597"/><path d="M59.3 2194.8 L77.3 2195.1 L95.3 2194.6 L113.3 2190.1 L131.3 2187.6 L149.3 2188.1 L167.3 2187.2 L185.3 2184.4 L203.3 2179.8 L221.3 2179.1 L239.3 2180.3 L257.3 2178.1 L275.3 2177.1 L293.3 2175.7 L311.3 2170.8 L329.3 2172.0 L347.3 2168.7 L365.3 2167.6 L383.3 2167.2 L401.3 2163.2 L419.3 2164.4 L437.3 2160.5 L455.3 2161.4 L473.3 2158.5 L491.3 2157.9 L509.3 2156.1 L527.3 2151.5 L545.3 2150.7 L563.3 2151.5 L581.3 2147.4 L599.3 2148.9 L617.3 2146.6 L635.3 2142.7 L653.3 2141.5 L671.3 2141.7 L689.3 2135.3 L707.3 2136.4 L725.3 2133.6 L743.3 2128.6 L761.3 2128.0 L779.3 2125.3 L797.3 2123.5 L815.3 2120.6 L833.3 2115.5 L851.3 2114.0 L869.3 2109.4 L887.3 2107.4 L905.3 2104.0 L923.3 2098.6 L941.3 2097.5 L959.3 2094.0 L977.3 2089.4 L995.3 2089.3 L1013.3 2086.1" stroke="#70ad47"/><path d="M59.3 2195.6 L77.3 2193.2 L95.3 2188.4 L113.3 2185.4 L131.3 2186.6 L149.3 2181.2 L167.3 2179.5 L185.3 2178.8 L203.3 2177.7 L221.3 2177.2 L239.3 2175.6 L257.3 2169.6 L275.3 2171.0 L293.3 2167.0 L311.3 2167.2 L329.3 2162.9 L347.3 2162.1 L365.3 2161.7 L383.3 2160.4 L401.3 2156.2 L419.3 2157.4 L437.3 2154.9 L455.3 2151.7 L473.3 2148.6 L491.3 2148.0 L509.3 2147.7 L527.3 2143.2 L545.3 2144.7 L563.3 2143.8 L581.3 2141.0 L599.3 2138.5 L617.3 2138.4 L635.3 2135.4 L653.3 2131.9 L671.3 2128.1 L689.3 2127.0 L707.3 2122.8 L725.3 2117.2 L743.3 2113.4 L761.3 2111.4 L779.3 2107.7 L797.3 2104.6 L815.3 2102.9 L833.3 2099.6 L851.3 2095.9 L869.3 2088.1 L887.3 2085.1 L905.3 2080.0 L923.3 2080.2 L941.3 2073.4 L959.3 2070.0 L977.3 2064.8 L995.3 2062.5 L1013.3 2055.2 L1031.3 2055.2 L1049.3 2048.8 L1067.3 2043.6 L1085.3 2038.5" stroke="#ffd966"/><path d="M59.3 2190.6 L77.3 2187.2 L95.3 2187.3 L113.3 2183.4 L131.3 2180.2 L149.3 2178.1 L167.3 2178.0 L185.3 2174.2 L203.3 2171.7 L221.3 2171.0 L239.3 2168.7 L257.3 2167.7 L275.3 2164.8 L293.3 2162.7 L311.3 2163.1 L329.3 2158.6 L347.3 2155.1 L365.3 2153.6 L383.3 2152.4 L401.3 2152.0 L419.3 2148.5 L437.3 2147.3 L455.3 2146.1 L473.3 2142.4 L491.3 2143.9 L509.3 2139.0 L527.3 2140.4 L545.3 2136.0 L563.3 2134.7 L581.3 2134.0 L599.3 2130.0 L617.3 2129.0 L635.3 2126.0 L653.3 2121.9 L671.3 2121.9 L689.3 2119.9 L707.3 2115.4 L725.3 2110.4 L743.3 2109.1 L761.3 2105.7 L779.3 2098.7 L797.3 2096.2 L815.3 2093.4 L833.3 2087.6 L851.3 2086.2 L869.3 2080.8 L887.3 2078.9 L905.3 2073.8 L923.3 2068.1 L941.3 2063.4 L959.3 2059.4 L977.3 2057.4" stroke="#4472c4"/><path d="M59.3 2191.1 L77.3 2186.3 L95.3 2182.1 L113.3 2179.5 L131.3 2177.7 L149.3 2174.2 L167.3 2174.9 L185.3 2173.1 L203.3 2169.6 L221.3 2168.1 L239.3 2166.1 L257.3 2163.0 L275.3 2159.9 L293.3 2158.3 L311.3 2157.0 L329.3 2152.5 L347.3 2149.7 L365.3 2150.0 L383.3 2149.6 L401.3 2147.8 L419.3 2141.9 L437.3 2143.6 L455.3 2138.5 L473.3 2137.1 L491.3 2136.3 L509.3 2132.1 L527.3 2133.5 L545.3 2131.0 L563.3 2127.6 L581.3 2127.5 L599.3 2121.9 L617.3 2122.8 L635.3 2121.0 L653.3 2118.9 L671.3 2113.5 L689.3 2111.5 L707.3 2107.7 L725.3 2104.5 L743.3 2100.6 L761.3 2096.7 L779.3 2094.6 L797.3 2093.4 L815.3 2088.7 L833.3 2086.6 L851.3 2083.8 L869.3 2078.1 L887.3 2073.3 L905.3 2072.0 L923.3 2067.8 L941.3 2063.7 L959.3 2058.3 L977.3 2055.2 L995.3 2050.9 L1013.3 2046.3 L1031.3 2043.9 L1049.3 2038.1" stroke="#ed7d31"/><path d="M59.3 2185.0 L77.3 2182.3 L95.3 2181.9 L113.3 2177.5 L131.3 2173.8 L149.3 2169.8 L167.3 2169.4 L185.3 2165.9 L203.3 2161.8 L221.3 2159.6 L239.3 2156.3 L257.3 2156.0 L275.3 2152.6 L293.3 2152.1 L311.3 2147.2 L329.3 2144.3 L347.3 2142.7 L365.3 2139.9 L383.3 2139.7 L401.3 2134.2 L419.3 2131.4 L437.3 2129.1 L455.3 2128.7 L473.3 2125.2 L491.3 2124.9 L509.3 2119.9 L527.3 2117.8 L545.3 2117.8 L563.3 2116.6 L581.3 2112.7 L599.3 2109.9 L617.3 2107.1 L635.3 2106.0 L653.3 2105.5 L671.3 2099.1 L689.3 2099.5 L707.3 2093.2 L725.3 2092.8 L743.3 2088.8 L761.3 2083.4 L779.3 2082.9 L797.3 2079.4 L815.3 2074.1 L833.3 2069.6 L851.3 2065.4 L869.3 2062.3 L887.3 2057.4 L905.3 2055.6 L923.3 2049.7 L941.3 2049.6 L959.3 2045.1 L977.3 2039.7 L995.3 2036.7 L1013.3 2030.6 L1031.3 2026.9 L1049.3 2023.3 L1067.3 2017.7 L1085.3 2014.8 L1103.3 2011.6 L1121.3 2007.0" stroke="#9dc3e6"/><path d="M59.3 2185.7 L77.3 2179.0 L95.3 2175.1 L113.3 2173.9 L131.3 2170.6 L149.3 2169.2 L167.3 2164.8 L185.3 2162.0 L203.3 2158.7 L221.3 2158.5 L239.3 2151.4 L257.3 2150.7 L275.3 2148.5 L293.3 2144.0 L311.3 2142.4 L329.3 2140.0 L347.3 2136.5 L365.3 2136.6 L383.3 2131.9 L401.3 2129.8 L419.3 2124.8 L437.3 2122.3 L455.3 2122.7 L473.3 2119.2 L491.3 2118.2 L509.3 2114.3 L527.3 2110.1 L545.3 2107.2 L563.3 2106.6 L581.3 2104.8 L599.3 2102.9 L617.3 2098.4 L635.3 2093.7 L653.3 2093.6 L671.3 2086.8 L689.3 2086.0 L707.3 2080.9 L725.3 2076.3 L743.3 2069.7 L761.3 2066.6 L779.3 2061.6 L797.3 2055.5 L815.3 2052.8 L833.3 2044.9 L851.3 2042.5 L869.3 2035.5 L887.3 2031.3 L905.3 2026.2 L923.3 2019.3 L941.3 2014.2 L959.3 2008.9 L977.3 2003.1 L995.3 1996.9" stroke="#375623"/><path d="M59.3 2181.3 L77.3 2177.5 L95.3 2174.6 L113.3 2170.1 L131.3 2168.1 L149.3 2164.0 L167.3 2164.0 L185.3 2158.8 L203.3 2155.7 L221.3 2152.5 L239.3 2152.4 L257.3 2149.7 L275.3 2144.2 L293.3 2144.7 L311.3 2138.6 L329.3 2136.4 L347.3 2137.2 L365.3 2134.2 L383.3 2129.4 L401.3 2128.9 L419.3 2127.1 L437.3 2121.2 L455.3 2120.6 L473.3 2116.4 L491.3 2116.9 L509.3 2113.1 L527.3 2109.3 L545.3 2109.9 L563.3 2106.6 L581.3 2102.0 L599.3 2098.5 L617.3 2096.1 L635.3 2097.3 L653.3 2092.6 L671.3 2088.2 L689.3 2086.0 L707.3 2081.7 L725.3 2080.3 L743.3 2077.2 L761.3 2073.2 L779.3 2069.6 L797.3 2063.3 L815.3 2059.4 L833.3 2055.0 L851.3 2052.7 L869.3 2048.3 L887.3 2043.9 L905.3 2036.7 L923.3 2031.6 L941.3 2027.4 L959.3 2026.7 L977.3 2022.3 L995.3 2013.7 L1013.3 2011.2 L1031.3 2005.2 L1049.3 2002.4 L1067.3 1997.1" stroke="#bf9000"/><path d="M59.3 2179.0 L77.3 2177.3 L95.3 2170.4 L113.3 2166.2 L131.3 2165.7 L149.3 2161.1 L167.3 2156.5 L185.3 2154.8 L203.3 2152.6 L221.3 2149.5 L239.3 2144.9 L257.3 2144.0 L275.3 2137.0 L293.3 2134.4 L311.3 2131.8 L329.3 2128.1 L347.3 2126.2 L365.3 2124.2 L383.3 2120.4 L401.3 2117.9 L419.3 2112.9 L437.3 2110.8 L455.3 2110.3 L473.3 2104.5 L491.3 2102.4 L509.3 2099.5 L527.3 2096.5 L545.3 2095.5 L563.3 2090.5 L581.3 2087.7 L599.3 2085.8 L617.3 2083.0 L635.3 2079.8 L653.3 2077.9 L671.3 2072.7 L689.3 2071.6 L707.3 2066.2 L725.3 2061.4 L743.3 2059.0 L761.3 2052.9 L779.3 2047.0 L797.3 2042.3 L815.3 2039.2 L833.3 2031.1 L851.3 2027.4 L869.3 2023.8 L887.3 2017.2 L905.3 2012.4 L923.3 2007.3 L941.3 2002.7 L959.3 1994.6" stroke="#5b9bd5"/><path d="M59.3 2175.7 L77.3 2170.0 L95.3 2170.2 L113.3 2163.7 L131.3 2159.3 L149.3 2157.8 L167.3 2153.6 L185.3 2151.6 L203.3 2147.5 L221.3 2143.2 L239.3 2141.1 L257.3 2137.0 L275.3 2130.7 L293.3 2129.0 L311.3 2125.9 L329.3 2120.6 L347.3 2119.2 L365.3 2114.0 L383.3 2112.4 L401.3 2108.5 L419.3 2108.6 L437.3 2103.1 L455.3 2099.2 L473.3 2099.3 L491.3 2092.2 L509.3 2092.6 L527.3 2088.1 L545.3 2086.4 L563.3 2081.9 L581.3 2078.3 L599.3 2077.8 L617.3 2070.9 L635.3 2069.6 L653.3 2065.0 L671.3 2060.3 L689.3 2056.8 L707.3 2052.3 L725.3 2045.7 L743.3 2041.0 L761.3 2037.0 L779.3 2029.7 L797.3 2026.1 L815.3 2021.8 L833.3 2015.1 L851.3 2010.2 L869.3 2003.9 L887.3 1995.3 L905.3 1990.9 L923.3 1982.6 L941.3 1977.1 L959.3 1974.0 L977.3 1963.6 L995.3 1957.4 L1013.3 1955.0 L1031.3 1944.8" stroke="#a9d18e"/><path d="M59.3 2172.3 L77.3 2170.6 L95.3 2165.1 L113.3 2159.2 L131.3 2156.2 L149.3 2153.5 L167.3 2147.5 L185.3 2144.5 L203.3 2141.8 L221.3 2140.4 L239.3 2134.6 L257.3 2131.8 L275.3 2129.5 L293.3 2126.7 L311.3 2121.2 L329.3 2119.6 L347.3 2114.8 L365.3 2110.4 L383.3 2108.0 L401.3 2105.6 L419.3 2100.8 L437.3 2098.3 L455.3 2093.4 L473.3 2091.2 L491.3 2085.9 L509.3 2082.9 L527.3 2080.6 L545.3 2079.7 L563.3 2077.0 L581.3 2070.3 L599.3 2067.7 L617.3 2065.6 L635.3 2063.2 L653.3 2059.5 L671.3 2053.3 L689.3 2049.3 L707.3 2044.5 L725.3 2039.4 L743.3 2033.8 L761.3 2031.2 L779.3 2025.7 L797.3 2017.0 L815.3 2011.8 L833.3 2006.4 L851.3 2004.5 L869.3 1998.7 L887.3 1991.9 L905.3 1985.3 L923.3 1978.5 L941.3 1974.8 L959.3 1966.7 L977.3 1962.7 L995.3 1956.4 L1013.3 1947.4 L1031.3 1941.7 L1049.3 1934.9 L1067.3 1929.7 L1085.3 1922.7 L1103.3 1917.4" stroke="#203864"/><path d="M59.3 2170.4 L77.3 2168.6 L95.3 2163.9 L113.3 2156.5 L131.3 2153.2 L149.3 2148.5 L167.3 2147.0 L185.3 2142.2 L203.3 2139.1 L221.3 2132.8 L239.3 2131.1 L257.3 2126.1 L275.3 2120.9 L293.3 2120.2 L311.3 2115.6 L329.3 2111.1 L347.3 2106.8 L365.3 2105.5 L383.3 2102.2 L401.3 2099.9 L419.3 2092.9 L437.3 2093.0 L455.3 2089.6 L473.3 2084.0 L491.3 2080.9 L509.3 2076.6 L527.3 2074.9 L545.3 2069.4 L563.3 2069.2 L581.3 2065.2 L599.3 2059.9 L617.3 2059.3 L635.3 2054.3 L653.3 2047.9 L671.3 2043.2 L689.3 2040.0 L707.3 2035.3 L725.3 2028.9 L743.3 2021.6 L761.3 2017.4 L779.3 2012.6 L797.3 2003.9 L815.3 1998.4 L833.3 1990.6 L851.3 1984.2 L869.3 1977.8 L887.3 1973.5 L905.3 1965.2 L923.3 1960.8 L941.3 1954.0 L959.3 1946.8 L977.3 1937.5" stroke="#f4b183"/><path d="M59.3 2170.0 L77.3 2164.2 L95.3 2159.1 L113.3 2154.1 L131.3 2149.5 L149.3 2145.9 L167.3 2139.8 L185.3 2134.4 L203.3 2131.2 L221.3 2125.6 L239.3 2122.7 L257.3 2120.3 L275.3 2113.5 L293.3 2108.9 L311.3 2107.5 L329.3 2104.7 L347.3 2098.4 L365.3 2094.3 L383.3 2090.3 L401.3 2084.6 L419.3 2082.1 L437.3 2077.5 L455.3 2076.9 L473.3 2070.9 L491.3 2066.0 L509.3 2065.3 L527.3 2061.6 L545.3 2054.8 L563.3 2050.3 L581.3 2050.2 L599.3 2044.0 L617.3 2043.1 L635.3 2036.5 L653.3 2032.5 L671.3 2029.7 L689.3 2024.8 L707.3 2017.2 L725.3 2013.0 L743.3 2006.5 L761.3 2002.5 L779.3 1997.0 L797.3 1988.3 L815.3 1983.7 L833.3 1978.4 L851.3 1972.1 L869.3 1965.0 L887.3 1958.7 L905.3 1951.4 L923.3 1947.2 L941.3 1938.7 L959.3 1932.8 L977.3 1925.3 L995.3 1918.7 L1013.3 1911.8 L1031.3 1904.6 L1049.3 1897.4 L1067.3 1891.8" stroke="#7f7f7f"/><path d="M1420.0 1090.4 L1432.2 1072.2 L1446.7 1051.4 L1457.0 1039.0 L1467.4 1028.7 L1477.7 1016.3 L1488.1 999.7 L1498.4 991.4 L1510.9 974.8 L1519.2 962.4 L1527.4 950.0" stroke="#ffc820"/><path d="M1420.0 1162.0 L1421.8 1157.0 L1428.1 1142.5 L1432.2 1136.3 L1436.3 1134.3 L1440.5 1107.3 L1448.8 1063.9 L1455.0 1037.0 L1459.1 1022.5 L1471.5 1020.4 L1475.7 1012.1 L1479.8 991.4 L1486.0 950.0" stroke="#ffc000"/><path d="M1420.0 1245.2 L1421.8 1241.9 L1432.2 1229.5 L1442.5 1210.9 L1450.8 1196.4 L1459.1 1177.7 L1467.4 1161.2 L1475.7 1144.6 L1484.0 1126.0 L1492.2 1107.3 L1498.4 1090.8 L1506.7 1080.4 L1517.1 1065.9 L1527.4 1049.4 L1539.9 1034.9 L1552.3 1016.3 L1560.6 1005.9 L1570.9 993.5 L1581.3 976.9 L1591.6 964.5 L1602.0 952.1" stroke="#7f6000"/><path d="M1420.0 1161.9 L1423.9 1157.0 L1432.2 1148.8 L1440.5 1136.3 L1448.8 1123.9 L1457.0 1113.6 L1465.3 1107.3 L1473.6 1094.9 L1481.9 1086.6 L1488.1 1074.2 L1490.2 1065.9 L1498.4 1061.8 L1506.7 1057.7 L1519.2 1049.4 L1527.4 1045.2 L1539.9 1032.8 L1552.3 1024.5 L1564.7 1016.3 L1581.3 1008.0 L1602.0 999.7 L1612.3 999.7 L1628.9 991.4 L1639.2 985.2 L1650.0 981.1" stroke="#8faadc"/><path d="M1420.0 1231.3 L1428.1 1223.3 L1436.3 1219.2 L1440.5 1188.1 L1444.6 1146.7 L1452.9 1119.8 L1461.2 1099.1 L1469.5 1084.6 L1473.6 1074.2 L1477.7 1053.5 L1486.0 1032.8 L1494.3 1012.1 L1502.6 1003.8 L1510.9 991.4 L1519.2 974.8 L1525.4 960.4 L1527.4 950.0" stroke="#a9d18e"/><path d="M1420.0 1226.0 L1423.9 1219.2 L1432.2 1210.9 L1440.5 1198.4 L1452.9 1184.0 L1461.2 1167.4 L1473.6 1136.3 L1481.9 1115.6 L1490.2 1084.6 L1498.4 1065.9 L1506.7 1049.4 L1515.0 1028.7 L1523.3 1012.1 L1529.5 991.4 L1539.9 979.0 L1548.1 962.4 L1552.3 950.0" stroke="#5b9bd5"/><path d="M1504.7 1206.7 L1506.7 1177.7 L1510.9 1140.5 L1512.9 1115.6 L1515.0 1094.9 L1519.2 1084.6 L1523.3 1074.2 L1527.4 1063.9 L1533.6 1053.5 L1539.9 1049.4 L1544.0 1041.1" stroke="#4472c4"/><path d="M1548.1 950.0 L1548.1 1084.6 L1535.7 1099.1 L1527.4 1107.3 L1519.2 1115.6" stroke="#5b9bd5"/><path d="M1436.3 1350.0 L1448.8 1322.7 L1457.0 1297.8 L1469.5 1281.3 L1477.7 1260.6 L1488.1 1235.7 L1498.4 1206.7 L1506.7 1184.0 L1519.2 1167.4 L1531.6 1148.8 L1539.9 1132.2 L1550.2 1115.6 L1560.6 1099.1 L1573.0 1082.5 L1581.3 1070.1 L1593.7 1057.7 L1606.1 1047.3 L1622.7 1028.7 L1635.1 1022.5 L1650.0 1016.3" stroke="#2f5597"/><path d="M1444.6 1350.0 L1457.0 1318.5 L1469.5 1293.7 L1481.9 1273.0 L1494.3 1244.0 L1506.7 1215.0 L1515.0 1198.4 L1525.4 1177.7 L1535.7 1157.0 L1546.1 1136.3 L1556.4 1115.6 L1566.8 1090.8 L1577.1 1074.2 L1587.5 1065.9 L1602.0 1059.7 L1614.4 1049.4 L1626.8 1032.8 L1639.2 1020.4 L1650.0 1012.1" stroke="#203864"/><path d="M1457.0 1350.0 L1469.5 1326.8 L1481.9 1302.0 L1494.3 1281.3 L1504.7 1256.4 L1515.0 1235.7 L1525.4 1210.9 L1535.7 1186.0 L1548.1 1161.2 L1560.6 1140.5 L1573.0 1128.1 L1585.4 1115.6 L1597.8 1103.2 L1610.2 1086.6 L1622.7 1074.2 L1635.1 1059.7 L1650.0 1039.0" stroke="#4472c4"/><path d="M1467.4 1350.0 L1477.7 1333.0 L1488.1 1316.5 L1498.4 1297.8 L1510.9 1273.0 L1523.3 1248.1 L1535.7 1227.4 L1548.1 1206.7 L1560.6 1188.1 L1573.0 1173.6 L1585.4 1163.3 L1602.0 1152.9 L1614.4 1144.6 L1626.8 1132.2 L1639.2 1121.8 L1650.0 1111.5" stroke="#2e75b6"/><path d="M1488.1 1350.0 L1502.6 1328.9 L1517.1 1306.1 L1531.6 1285.4 L1546.1 1264.7 L1560.6 1244.0 L1575.1 1229.5 L1589.5 1219.2 L1602.0 1206.7 L1614.4 1194.3 L1626.8 1181.9 L1639.2 1169.5 L1650.0 1157.0" stroke="#2f5597"/><path d="M1477.7 1350.0 L1490.2 1337.2 L1502.6 1318.5 L1515.0 1297.8 L1525.4 1273.0 L1535.7 1252.3 L1546.1 1231.6 L1556.4 1215.0 L1566.8 1200.5 L1581.3 1186.0 L1593.7 1173.6 L1606.1 1157.0 L1618.5 1140.5 L1631.0 1126.0 L1643.4 1113.6 L1650.0 1107.3" stroke="#467a2c"/><path d="M1556.4 1350.0 L1564.7 1326.8 L1573.0 1302.0 L1581.3 1273.0 L1589.5 1248.1 L1597.8 1233.6 L1606.1 1219.2 L1614.4 1198.4 L1622.7 1184.0 L1633.0 1169.5 L1643.4 1157.0 L1650.0 1148.8" stroke="#7f7f7f"/><path d="M1508.8 1350.0 L1519.2 1322.7 L1539.9 1293.7 L1560.6 1268.8 L1581.3 1239.9 L1602.0 1202.6 L1622.7 1171.5 L1639.2 1146.7 L1650.0 1136.3" stroke="#997300"/><path d="M1585.4 1350.0 L1587.5 1281.3 L1591.6 1177.7 L1593.7 1161.2 L1606.1 1157.0 L1622.7 1146.7 L1635.1 1138.4 L1650.0 1132.2" stroke="#c0c0c0"/><path d="M1477.7 1350.0 L1498.4 1333.0 L1510.9 1322.7 L1519.2 1302.0 L1539.9 1291.6 L1556.4 1281.3 L1573.0 1273.0 L1581.3 1260.6 L1589.5 1239.9 L1602.0 1225.4 L1614.4 1208.8 L1622.7 1194.3 L1635.1 1177.7 L1650.0 1165.3" stroke="#ffd966"/><path d="M1519.2 1333.0 L1550.2 1312.3 L1581.3 1293.7 L1602.0 1281.3 L1622.7 1270.9 L1650.0 1260.6" stroke="#2e75b6"/><path d="M1519.2 1350.0 L1539.9 1333.0 L1560.6 1318.5 L1581.3 1302.0 L1602.0 1289.5 L1622.7 1279.2 L1650.0 1266.8" stroke="#9dc3e6"/><path d="M1560.6 1350.0 L1573.0 1335.1 L1585.4 1314.4 L1602.0 1291.6 L1614.4 1277.1 L1628.9 1264.7 L1643.4 1250.2 L1650.0 1244.0" stroke="#70ad47"/><path d="M1529.5 1177.7 L1539.9 1157.0 L1552.3 1136.3 L1560.6 1107.3 L1573.0 1082.5 L1585.4 1065.9 L1597.8 1053.5 L1610.2 1041.1 L1622.7 1028.7 L1633.0 1018.3 L1650.0 997.6" stroke="#2e75b6"/><path d="M1539.9 1208.8 L1550.2 1181.9 L1560.6 1157.0 L1570.9 1136.3 L1581.3 1119.8 L1593.7 1103.2 L1606.1 1086.6 L1618.5 1065.9 L1628.9 1049.4 L1639.2 1032.8 L1650.0 1016.3" stroke="#203864"/><path d="M1552.3 1136.3 L1560.6 1119.8 L1573.0 1099.1 L1585.4 1074.2 L1593.7 1049.4 L1606.1 1032.8 L1618.5 1012.1 L1631.0 987.3 L1643.4 974.8 L1650.0 970.7" stroke="#7f7f7f"/><path d="M1519.2 1053.5 L1539.9 1037.0 L1560.6 1024.5 L1581.3 1012.1 L1602.0 1001.8 L1622.7 991.4 L1643.4 985.2 L1650.0 983.1" stroke="#8faadc"/><path d="M1560.6 1239.9 L1573.0 1219.2 L1585.4 1198.4 L1602.0 1177.7 L1618.5 1157.0 L1635.1 1140.5 L1650.0 1128.1" stroke="#548235"/></g>
<text x="122.4" y="307.1" font-size="35.5" fill="#000" textLength="263.3" lengthAdjust="spacingAndGlyphs">1/400 residents</text>
<text x="122.4" y="683.0" font-size="35.5" fill="#000" textLength="95.6" lengthAdjust="spacingAndGlyphs">1/500</text>
<text x="122.4" y="937.3" font-size="35.5" fill="#000" textLength="95.2" lengthAdjust="spacingAndGlyphs">1/600</text>
<text x="122.4" y="1115.3" font-size="35.5" fill="#000" textLength="95.4" lengthAdjust="spacingAndGlyphs">1/700</text>
<text x="122.4" y="1252.0" font-size="35.5" fill="#000" textLength="95.4" lengthAdjust="spacingAndGlyphs">1/800</text>
<text x="122.4" y="1353.5" font-size="35.5" fill="#000" textLength="95.4" lengthAdjust="spacingAndGlyphs">1/900</text>
<text x="122.4" y="1441.8" font-size="35.5" fill="#000" textLength="128.1" lengthAdjust="spacingAndGlyphs">1/1,000</text>
<text x="122.4" y="1810.5" font-size="35.5" fill="#000" textLength="128.4" lengthAdjust="spacingAndGlyphs">1/2,000</text>
<text x="1128" y="44" font-size="39" text-anchor="middle" textLength="675" lengthAdjust="spacingAndGlyphs">COVID-19 Deaths/10,000 Residents</text>
<text x="1128" y="99.2" font-size="39" text-anchor="middle" textLength="636" lengthAdjust="spacingAndGlyphs">Cumulative - All States/Territories</text>
<text x="1128" y="136.6" font-size="23.5" text-anchor="middle" textLength="382" lengthAdjust="spacingAndGlyphs">data via Johns Hopkins University</text>
<text x="1128" y="169.8" font-size="24" text-anchor="middle" textLength="472" lengthAdjust="spacingAndGlyphs">graph via Charles Gaba / ACASignups.net</text>
<text x="1989.3" y="133.0" font-size="23" fill="#000" textLength="132.5" lengthAdjust="spacingAndGlyphs">New Jersey</text>
<text x="1989.3" y="247.4" font-size="23" fill="#000" textLength="109.8" lengthAdjust="spacingAndGlyphs">New York</text>
<text x="1989.3" y="305.5" font-size="23" fill="#000" textLength="163.6" lengthAdjust="spacingAndGlyphs">Massachusetts</text>
<text x="1989.3" y="362.6" font-size="23" fill="#000" textLength="144.2" lengthAdjust="spacingAndGlyphs">Rhode Island</text>
<text x="1989.3" y="392.2" font-size="23" fill="#000" textLength="120.6" lengthAdjust="spacingAndGlyphs">Mississippi</text>
<text x="1989.3" y="506.5" font-size="23" fill="#000" textLength="234.9" lengthAdjust="spacingAndGlyphs">Arizona, Connecticut</text>
<text x="1989.3" y="535.3" font-size="23" fill="#000" textLength="103.1" lengthAdjust="spacingAndGlyphs">Louisiana</text>
<text x="1989.3" y="564.4" font-size="23" fill="#000" textLength="152.9" lengthAdjust="spacingAndGlyphs">South Dakota</text>
<text x="1989.3" y="679.7" font-size="23" fill="#000" textLength="97.7" lengthAdjust="spacingAndGlyphs">Alabama</text>
<text x="1989.3" y="737.7" font-size="23" fill="#000" textLength="145.5" lengthAdjust="spacingAndGlyphs">Pennsylvania</text>
<text x="1989.3" y="765.8" font-size="23" fill="#000" textLength="181.8" lengthAdjust="spacingAndGlyphs">IN, NM, ND, AR</text>
<text x="1989.3" y="794.8" font-size="23" fill="#000" textLength="113.0" lengthAdjust="spacingAndGlyphs">IL, GA, MI</text>
<text x="1989.3" y="823.3" font-size="23" fill="#000" textLength="54.2" lengthAdjust="spacingAndGlyphs">Iowa</text>
<text x="1989.3" y="881.2" font-size="23" fill="#000" textLength="293.4" lengthAdjust="spacingAndGlyphs">South Carolina, Tennessee</text>
<text x="1989.3" y="909.7" font-size="23" fill="#000" textLength="163.2" lengthAdjust="spacingAndGlyphs">Nevada, Texas</text>
<text x="1989.3" y="938.6" font-size="23" fill="#000" textLength="207.3" lengthAdjust="spacingAndGlyphs">Oklahoma, Kansas</text>
<text x="1989.3" y="967.6" font-size="23" fill="#000" textLength="199.2" lengthAdjust="spacingAndGlyphs">Delaware, Florida</text>
<text x="1989.3" y="995.8" font-size="23" fill="#000" textLength="294.3" lengthAdjust="spacingAndGlyphs">Ohio, District of Columbia</text>
<text x="1989.3" y="1024.8" font-size="23" fill="#000" textLength="107.3" lengthAdjust="spacingAndGlyphs">California</text>
<text x="1989.3" y="1053.2" font-size="23" fill="#000" textLength="94.8" lengthAdjust="spacingAndGlyphs">Missouri</text>
<text x="1989.3" y="1081.9" font-size="23" fill="#000" textLength="151.3" lengthAdjust="spacingAndGlyphs">West Virginia</text>
<text x="1989.3" y="1110.9" font-size="23" fill="#000" textLength="99.4" lengthAdjust="spacingAndGlyphs">Montana</text>
<text x="1989.3" y="1139.9" font-size="23" fill="#000" textLength="223.8" lengthAdjust="spacingAndGlyphs">Kentucky, Maryland</text>
<text x="1989.3" y="1255.9" font-size="23" fill="#000" textLength="218.5" lengthAdjust="spacingAndGlyphs">Minnesota, Virginia</text>
<text x="1989.3" y="1284.4" font-size="23" fill="#000" textLength="288.5" lengthAdjust="spacingAndGlyphs">Wyoming, North Carolina</text>
<text x="1989.3" y="1341.5" font-size="23" fill="#000" textLength="234.1" lengthAdjust="spacingAndGlyphs">Wisconsin, Nebraska</text>
<text x="1989.3" y="1370.5" font-size="23" fill="#000" textLength="180.8" lengthAdjust="spacingAndGlyphs">Colorado, Idaho</text>
<text x="1989.3" y="1485.4" font-size="23" fill="#000" textLength="180.0" lengthAdjust="spacingAndGlyphs">New Hampshire</text>
<text x="1989.3" y="1600.6" font-size="23" fill="#000" textLength="64.6" lengthAdjust="spacingAndGlyphs">Guam</text>
<text x="1989.3" y="1657.7" font-size="23" fill="#000" textLength="279.6" lengthAdjust="spacingAndGlyphs">Washington, Puerto Rico</text>
<text x="1989.3" y="1686.5" font-size="23" fill="#000" textLength="53.0" lengthAdjust="spacingAndGlyphs">Utah</text>
<text x="1989.3" y="1745.7" font-size="23" fill="#000" textLength="85.8" lengthAdjust="spacingAndGlyphs">Oregon</text>
<text x="1989.3" y="1774.0" font-size="23" fill="#000" textLength="67.8" lengthAdjust="spacingAndGlyphs">Maine</text>
<text x="1989.3" y="1860.9" font-size="23" fill="#000" textLength="73.7" lengthAdjust="spacingAndGlyphs">Alaska</text>
<text x="1989.3" y="1918.0" font-size="23" fill="#000" textLength="98.0" lengthAdjust="spacingAndGlyphs">Vermont</text>
<text x="1989.3" y="1975.8" font-size="23" fill="#000" textLength="75.3" lengthAdjust="spacingAndGlyphs">Hawaii</text>
<text x="1989.3" y="2033.7" font-size="23" fill="#000" textLength="204.0" lengthAdjust="spacingAndGlyphs">U.S. Virgin Islands</text>
<text x="1989.3" y="2177.7" font-size="23" fill="#000" textLength="207.8" lengthAdjust="spacingAndGlyphs">N. Mariana Islands</text>
<text x="1989.3" y="2205.9" font-size="23" fill="#000" textLength="187.8" lengthAdjust="spacingAndGlyphs">American Samoa</text>
</svg></body></html>
